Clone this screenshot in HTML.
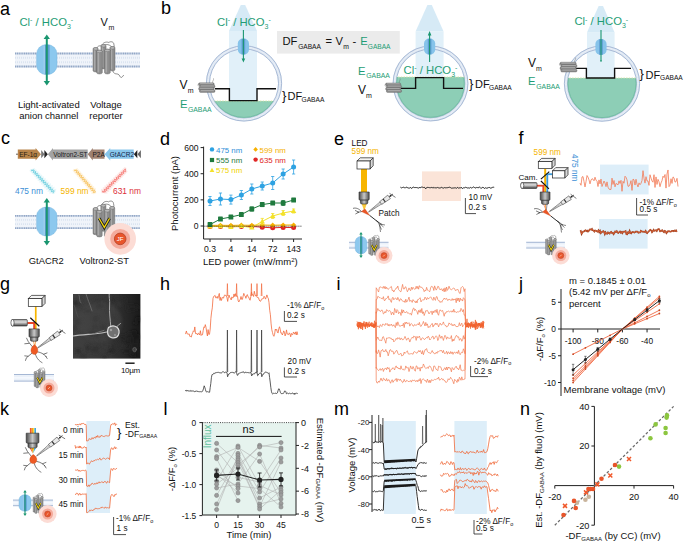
<!DOCTYPE html>
<html><head><meta charset="utf-8"><style>
html,body{margin:0;padding:0;background:#fff;overflow:hidden;}
svg{display:block;}
</style></head><body>
<svg width="685" height="541" viewBox="0 0 685 541" font-family='"Liberation Sans", sans-serif'>
<rect width="685" height="541" fill="#fff"/>
<text x="0" y="14.6" font-size="18" fill="#000">a</text>
<text x="19.4" y="25.6" font-size="11.3" fill="#1f9d75" text-anchor="start" >Cl<tspan font-size="7" dy="-3.5">-</tspan><tspan dy="3.5"> / HCO</tspan><tspan font-size="7" dy="3">3</tspan><tspan font-size="7" dy="-6.5">-</tspan></text>
<text x="100.5" y="25.6" font-size="11" fill="#111" text-anchor="start" >V</text>
<text x="108.6" y="29.6" font-size="7" fill="#111" text-anchor="start" >m</text>
<g opacity="1.0">
<rect x="15" y="52.5" width="125" height="15" fill="#f0f4fa"/>
<line x1="15" y1="53.475" x2="140" y2="53.475" stroke="#92a7c6" stroke-width="1.95" stroke-dasharray="1.3 0.5"/>
<line x1="15" y1="66.525" x2="140" y2="66.525" stroke="#92a7c6" stroke-width="1.95" stroke-dasharray="1.3 0.5"/>
<line x1="15" y1="57.75" x2="140" y2="57.75" stroke="#d6e0ee" stroke-width="1.80" stroke-dasharray="0.8 1.2"/>
<line x1="15" y1="62.25" x2="140" y2="62.25" stroke="#d6e0ee" stroke-width="1.80" stroke-dasharray="0.8 1.2"/>
</g>
<rect x="36.599999999999994" y="44.6" width="20.4" height="30" rx="9.69" ry="9.30" fill="#8cc8ee" stroke="#70b0dc" stroke-width="0.4"/>
<rect x="44.556" y="44.825" width="5.1" height="29.55" fill="#5f9ed4"/>
<line x1="44.25" y1="45.35" x2="44.25" y2="73.85" stroke="#b9dcf4" stroke-width="0.82"/>
<line x1="46.8" y1="38.0" x2="46.8" y2="82.0" stroke="#1a9670" stroke-width="2.0"/>
<path d="M43.65,38.9 L46.8,34.4 L49.949999999999996,38.9 Z" fill="#1a9670"/>
<path d="M43.65,81.1 L46.8,85.6 L49.949999999999996,81.1 Z" fill="#1a9670"/>
<g transform="translate(93,43.5) scale(0.9913,1.0167)">
<path d="M4,5 C4,2.5 7,1.5 9.5,3 C11,0.5 16,0 19,3.5 M9,2 C9.5,-0.5 13,-2.2 16,-1 C18,-2.5 21,-1.5 21,0.5 C21.5,2 21.5,3 21,4" fill="none" stroke="#3a3a3a" stroke-width="0.56"/>
<path d="M20,27 C22,32 25,28 27,32 C28,34 29,34 31,31" fill="none" stroke="#3a3a3a" stroke-width="0.56"/>
<rect x="0" y="4" width="5.2" height="24" rx="2.6" ry="1.4" fill="#8d8d8d" stroke="#5e5e5e" stroke-width="0.42"/>
<rect x="0.9359999999999999" y="5.5" width="1.4560000000000002" height="21" fill="#a9a9a9"/>
<ellipse cx="2.6" cy="5.3" rx="2.4" ry="1.2" fill="#b8b8b8" stroke="#5e5e5e" stroke-width="0.35"/>
<rect x="8" y="1" width="5.2" height="24" rx="2.6" ry="1.4" fill="#8d8d8d" stroke="#5e5e5e" stroke-width="0.42"/>
<rect x="8.936" y="2.5" width="1.4560000000000002" height="21" fill="#a9a9a9"/>
<ellipse cx="10.6" cy="2.3" rx="2.4" ry="1.2" fill="#b8b8b8" stroke="#5e5e5e" stroke-width="0.35"/>
<rect x="17" y="3" width="5.2" height="24" rx="2.6" ry="1.4" fill="#8d8d8d" stroke="#5e5e5e" stroke-width="0.42"/>
<rect x="17.936" y="4.5" width="1.4560000000000002" height="21" fill="#a9a9a9"/>
<ellipse cx="19.6" cy="4.3" rx="2.4" ry="1.2" fill="#b8b8b8" stroke="#5e5e5e" stroke-width="0.35"/>
<rect x="3.6" y="6.5" width="5.8" height="23.5" rx="2.9" ry="1.4" fill="#8d8d8d" stroke="#5e5e5e" stroke-width="0.42"/>
<rect x="4.644" y="8.0" width="1.624" height="20.5" fill="#a9a9a9"/>
<ellipse cx="6.5" cy="7.8" rx="2.6999999999999997" ry="1.2" fill="#b8b8b8" stroke="#5e5e5e" stroke-width="0.35"/>
<rect x="11.6" y="5.5" width="5.8" height="24.5" rx="2.9" ry="1.4" fill="#8d8d8d" stroke="#5e5e5e" stroke-width="0.42"/>
<rect x="12.644" y="7.0" width="1.624" height="21.5" fill="#a9a9a9"/>
<ellipse cx="14.5" cy="6.8" rx="2.6999999999999997" ry="1.2" fill="#b8b8b8" stroke="#5e5e5e" stroke-width="0.35"/>
</g>
<text x="48.8" y="107.6" font-size="9.5" fill="#111" text-anchor="middle" >Light-activated</text>
<text x="48.8" y="119" font-size="9.5" fill="#111" text-anchor="middle" >anion channel</text>
<text x="106" y="107.6" font-size="9.5" fill="#111" text-anchor="middle" >Voltage</text>
<text x="106" y="119" font-size="9.5" fill="#111" text-anchor="middle" >reporter</text>
<text x="161" y="14.4" font-size="18" fill="#000">b</text>
<path d="M240.8,5 L245.2,5 L257,31 L229,31 Z" fill="#cfe6f5" opacity="0.85"/>
<rect x="229" y="31" width="28" height="70" fill="#dcedf8" opacity="0.85"/>
<clipPath id="cc244"><circle cx="244" cy="83.4" r="34.4"/></clipPath>
<circle cx="244" cy="83.4" r="36.1" fill="none" stroke="#dee7f3" stroke-width="3.8"/>
<circle cx="244" cy="83.4" r="36.1" fill="none" stroke="#f4f7fb" stroke-width="0.9" stroke-dasharray="0.8 0.8"/>
<circle cx="244" cy="83.4" r="37.65" fill="none" stroke="#9aafce" stroke-width="0.8"/>
<circle cx="244" cy="83.4" r="34.5" fill="none" stroke="#9aafce" stroke-width="0.8"/>
<rect x="206" y="101" width="76" height="76" fill="#8dceb6" clip-path="url(#cc244)"/>
<clipPath id="cc244b"><rect x="206" y="101" width="76" height="76"/></clipPath>
<circle cx="244" cy="83.4" r="34.0" fill="none" stroke="#6db9a0" stroke-width="0.8" clip-path="url(#cc244b)"/>
<line x1="206" y1="101" x2="282" y2="101" stroke="#d7e3a6" stroke-width="0.9" stroke-dasharray="1.5 1.2" clip-path="url(#cc244)"/>
<path d="M215,88.8 H229.4 V100.6 H257 V88.8 H276" fill="none" stroke="#111" stroke-width="1.4"/>
<rect x="237.8" y="38.6" width="11.2" height="16" rx="5.4" ry="5" fill="#86c3ea"/><rect x="241.6" y="38.8" width="3.6" height="15.6" fill="#5f9fd3"/>
<line x1="243.4" y1="30" x2="243.4" y2="59" stroke="#1a9670" stroke-width="1.1"/><path d="M241.6,58.5 L243.4,62.5 L245.2,58.5 Z" fill="#1a9670"/>
<text x="217" y="25.6" font-size="11.3" fill="#1f9d75" text-anchor="start" >Cl<tspan font-size="7" dy="-3.5">-</tspan><tspan dy="3.5"> / HCO</tspan><tspan font-size="7" dy="3">3</tspan><tspan font-size="7" dy="-6.5">-</tspan></text>
<g>
<rect x="198.60" y="82.80" width="15.60" height="2.76" rx="1.20" fill="#8e8e8e" stroke="#5a5a5a" stroke-width="0.35"/>
<rect x="200.10" y="83.28" width="12.90" height="0.72" fill="#b5b5b5"/>
<rect x="199.40" y="85.08" width="15.60" height="2.76" rx="1.20" fill="#8e8e8e" stroke="#5a5a5a" stroke-width="0.35"/>
<rect x="200.90" y="85.56" width="12.90" height="0.72" fill="#b5b5b5"/>
<rect x="198.60" y="87.36" width="15.60" height="2.76" rx="1.20" fill="#8e8e8e" stroke="#5a5a5a" stroke-width="0.35"/>
<rect x="200.10" y="87.84" width="12.90" height="0.72" fill="#b5b5b5"/>
<rect x="199.40" y="89.64" width="15.60" height="2.76" rx="1.20" fill="#8e8e8e" stroke="#5a5a5a" stroke-width="0.35"/>
<rect x="200.90" y="90.12" width="12.90" height="0.72" fill="#b5b5b5"/>
<path d="M199.6,83.8 c-1.5,-0.5 -2,1.5 -1,2.5 M212.5,82.8 c0,-2 1.5,-3 1,-4.5" fill="none" stroke="#666" stroke-width="0.45"/>
</g>
<text x="179.6" y="88.9" font-size="12" fill="#111" text-anchor="start" >V</text>
<text x="187.8" y="92.9" font-size="7" fill="#111" text-anchor="start" >m</text>
<text x="180" y="108" font-size="11.3" fill="#1f9d75" text-anchor="start" >E</text>
<text x="187.9" y="111.8" font-size="6.9" fill="#1f9d75" text-anchor="start" >GABAA</text>
<text x="282" y="100" font-size="13" fill="#111" text-anchor="start" >}</text>
<text x="287.6" y="100" font-size="11" fill="#111" text-anchor="start" >DF</text>
<text x="301.6" y="101.8" font-size="6.6" fill="#111" text-anchor="start" >GABAA</text>
<rect x="277" y="31" width="122.8" height="22.6" fill="#ebebeb"/>
<text x="282.4" y="45" font-size="11.2" fill="#111" text-anchor="start" >DF</text>
<text x="298.2" y="48.6" font-size="6.6" fill="#111" text-anchor="start" >GABAA</text>
<text x="325.5" y="45" font-size="11.2" fill="#111" text-anchor="start" >=</text>
<text x="335.6" y="45" font-size="11.2" fill="#111" text-anchor="start" >V</text>
<text x="343.2" y="48.6" font-size="6.8" fill="#111" text-anchor="start" >m</text>
<text x="352.6" y="45" font-size="11.2" fill="#111" text-anchor="start" >-</text>
<text x="360.2" y="45" font-size="11.2" fill="#1f9d75" text-anchor="start" >E</text>
<text x="367.8" y="48.6" font-size="6.6" fill="#1f9d75" text-anchor="start" >GABAA</text>
<path d="M427.40000000000003,5 L431.8,5 L443.6,31.6 L415.6,31.6 Z" fill="#cfe6f5" opacity="0.85"/>
<rect x="415.6" y="31.6" width="28.0" height="45.4" fill="#dcedf8" opacity="0.85"/>
<clipPath id="cc430"><circle cx="430.5" cy="83.5" r="34.199999999999996"/></clipPath>
<circle cx="430.5" cy="83.5" r="35.9" fill="none" stroke="#dee7f3" stroke-width="3.8"/>
<circle cx="430.5" cy="83.5" r="35.9" fill="none" stroke="#f4f7fb" stroke-width="0.9" stroke-dasharray="0.8 0.8"/>
<circle cx="430.5" cy="83.5" r="37.449999999999996" fill="none" stroke="#9aafce" stroke-width="0.8"/>
<circle cx="430.5" cy="83.5" r="34.3" fill="none" stroke="#9aafce" stroke-width="0.8"/>
<rect x="392.7" y="77" width="75.6" height="75.6" fill="#8dceb6" clip-path="url(#cc430)"/>
<clipPath id="cc430b"><rect x="392.7" y="77" width="75.6" height="75.6"/></clipPath>
<circle cx="430.5" cy="83.5" r="33.8" fill="none" stroke="#6db9a0" stroke-width="0.8" clip-path="url(#cc430b)"/>
<line x1="392.7" y1="77" x2="468.3" y2="77" stroke="#d7e3a6" stroke-width="0.9" stroke-dasharray="1.5 1.2" clip-path="url(#cc430)"/>
<path d="M401,88.4 H415.6 V77.6 H443.6 V88.4 H463" fill="none" stroke="#111" stroke-width="1.4"/>
<rect x="424" y="38.6" width="11.2" height="16" rx="5.4" ry="5" fill="#86c3ea"/><rect x="427.8" y="38.8" width="3.6" height="15.6" fill="#5f9fd3"/>
<line x1="429.6" y1="35" x2="429.6" y2="62" stroke="#1a9670" stroke-width="1.1"/><path d="M427.8,35.5 L429.6,31 L431.4,35.5 Z" fill="#1a9670"/>
<text x="403.6" y="73.6" font-size="11.3" fill="#1f9d75" text-anchor="start" >Cl<tspan font-size="7" dy="-3.5">-</tspan><tspan dy="3.5"> / HCO</tspan><tspan font-size="7" dy="3">3</tspan><tspan font-size="7" dy="-6.5">-</tspan></text>
<g>
<rect x="385.60" y="83.00" width="15.20" height="2.70" rx="1.18" fill="#8e8e8e" stroke="#5a5a5a" stroke-width="0.35"/>
<rect x="387.10" y="83.47" width="12.50" height="0.70" fill="#b5b5b5"/>
<rect x="386.40" y="85.23" width="15.20" height="2.70" rx="1.18" fill="#8e8e8e" stroke="#5a5a5a" stroke-width="0.35"/>
<rect x="387.90" y="85.70" width="12.50" height="0.70" fill="#b5b5b5"/>
<rect x="385.60" y="87.47" width="15.20" height="2.70" rx="1.18" fill="#8e8e8e" stroke="#5a5a5a" stroke-width="0.35"/>
<rect x="387.10" y="87.94" width="12.50" height="0.70" fill="#b5b5b5"/>
<rect x="386.40" y="89.70" width="15.20" height="2.70" rx="1.18" fill="#8e8e8e" stroke="#5a5a5a" stroke-width="0.35"/>
<rect x="387.90" y="90.17" width="12.50" height="0.70" fill="#b5b5b5"/>
<path d="M386.6,84 c-1.5,-0.5 -2,1.5 -1,2.5 M399.1,83 c0,-2 1.5,-3 1,-4.5" fill="none" stroke="#666" stroke-width="0.45"/>
</g>
<text x="358" y="74.6" font-size="11.3" fill="#1f9d75" text-anchor="start" >E</text>
<text x="366.2" y="78.2" font-size="6.9" fill="#1f9d75" text-anchor="start" >GABAA</text>
<text x="358" y="94" font-size="12" fill="#111" text-anchor="start" >V</text>
<text x="366" y="97.8" font-size="7" fill="#111" text-anchor="start" >m</text>
<text x="469" y="88" font-size="13" fill="#111" text-anchor="start" >}</text>
<text x="475" y="88" font-size="11" fill="#111" text-anchor="start" >DF</text>
<text x="489" y="90.2" font-size="6.6" fill="#111" text-anchor="start" >GABAA</text>
<path d="M598.5999999999999,6 L603.0,6 L614.6,32.4 L587,32.4 Z" fill="#cfe6f5" opacity="0.85"/>
<rect x="587" y="32.4" width="27.600000000000023" height="45.6" fill="#dcedf8" opacity="0.85"/>
<clipPath id="cc602"><circle cx="602" cy="83.6" r="34.4"/></clipPath>
<circle cx="602" cy="83.6" r="36.1" fill="none" stroke="#dee7f3" stroke-width="3.8"/>
<circle cx="602" cy="83.6" r="36.1" fill="none" stroke="#f4f7fb" stroke-width="0.9" stroke-dasharray="0.8 0.8"/>
<circle cx="602" cy="83.6" r="37.65" fill="none" stroke="#9aafce" stroke-width="0.8"/>
<circle cx="602" cy="83.6" r="34.5" fill="none" stroke="#9aafce" stroke-width="0.8"/>
<rect x="564" y="78" width="76" height="76" fill="#8dceb6" clip-path="url(#cc602)"/>
<clipPath id="cc602b"><rect x="564" y="78" width="76" height="76"/></clipPath>
<circle cx="602" cy="83.6" r="34.0" fill="none" stroke="#6db9a0" stroke-width="0.8" clip-path="url(#cc602b)"/>
<line x1="564" y1="78" x2="640" y2="78" stroke="#d7e3a6" stroke-width="0.9" stroke-dasharray="1.5 1.2" clip-path="url(#cc602)"/>
<path d="M576,68.4 H586.4 V78 H614.6 V68.4 H631" fill="none" stroke="#111" stroke-width="1.4"/>
<rect x="595.4" y="39" width="11.2" height="16" rx="5.4" ry="5" fill="#86c3ea"/><rect x="599.2" y="39.2" width="3.6" height="15.6" fill="#5f9fd3"/>
<line x1="601" y1="30" x2="601" y2="60.5" stroke="#1a9670" stroke-width="1.1"/><circle cx="601" cy="60.8" r="0.9" fill="#1a9670"/>
<text x="574.4" y="25" font-size="11.3" fill="#1f9d75" text-anchor="start" >Cl<tspan font-size="7" dy="-3.5">-</tspan><tspan dy="3.5"> / HCO</tspan><tspan font-size="7" dy="3">3</tspan><tspan font-size="7" dy="-6.5">-</tspan></text>
<g>
<rect x="560.00" y="62.20" width="16.20" height="2.82" rx="1.23" fill="#8e8e8e" stroke="#5a5a5a" stroke-width="0.35"/>
<rect x="561.50" y="62.69" width="13.50" height="0.73" fill="#b5b5b5"/>
<rect x="560.80" y="64.53" width="16.20" height="2.82" rx="1.23" fill="#8e8e8e" stroke="#5a5a5a" stroke-width="0.35"/>
<rect x="562.30" y="65.02" width="13.50" height="0.73" fill="#b5b5b5"/>
<rect x="560.00" y="66.86" width="16.20" height="2.82" rx="1.23" fill="#8e8e8e" stroke="#5a5a5a" stroke-width="0.35"/>
<rect x="561.50" y="67.34" width="13.50" height="0.73" fill="#b5b5b5"/>
<rect x="560.80" y="69.18" width="16.20" height="2.82" rx="1.23" fill="#8e8e8e" stroke="#5a5a5a" stroke-width="0.35"/>
<rect x="562.30" y="69.67" width="13.50" height="0.73" fill="#b5b5b5"/>
<path d="M561,63.2 c-1.5,-0.5 -2,1.5 -1,2.5 M574.5,62.2 c0,-2 1.5,-3 1,-4.5" fill="none" stroke="#666" stroke-width="0.45"/>
</g>
<text x="528" y="67" font-size="12" fill="#111" text-anchor="start" >V</text>
<text x="536" y="71" font-size="7" fill="#111" text-anchor="start" >m</text>
<text x="528" y="85" font-size="11.3" fill="#1f9d75" text-anchor="start" >E</text>
<text x="536.2" y="88.6" font-size="6.9" fill="#1f9d75" text-anchor="start" >GABAA</text>
<text x="639.4" y="78" font-size="13" fill="#111" text-anchor="start" >}</text>
<text x="645.6" y="78.6" font-size="11" fill="#111" text-anchor="start" >DF</text>
<text x="660" y="80.4" font-size="6.6" fill="#111" text-anchor="start" >GABAA</text>
<text x="1" y="144.4" font-size="18" fill="#000">c</text>
<line x1="16" y1="154.2" x2="19" y2="154.2" stroke="#333" stroke-width="0.8"/>
<path d="M17.8,149.6 H35.6 V148.0 L41,154.2 L35.6,160.4 V158.8 H17.8 Z" fill="#b8844a"/>
<text x="28.2" y="156.5" font-size="6.5" fill="#2a1e10" text-anchor="middle" >EF-1α</text>
<path d="M41.2,150.1 L44.6,154.2 L41.2,158.3 Z" fill="#777"/><path d="M44.4,150.1 L47.8,154.2 L44.4,158.3 Z" fill="#222"/>
<path d="M47.8,154.2 L53,148.0 V149.6 H87.7 V158.8 H53 V160.4 Z" fill="#a3a3a3"/>
<text x="70.4" y="156.5" font-size="6.5" fill="#1a1a1a" text-anchor="middle" >Voltron2-ST</text>
<path d="M87.7,154.2 L92.8,148.0 V149.6 H104.5 V158.8 H92.8 V160.4 Z" fill="#a08272"/>
<text x="98.6" y="156.5" font-size="6.5" fill="#1a1a1a" text-anchor="middle" >P2A</text>
<path d="M104.5,154.2 L110.2,148.0 V149.6 H133.7 V158.8 H110.2 V160.4 Z" fill="#88c6ec"/>
<text x="121.9" y="156.5" font-size="6.5" fill="#14284a" text-anchor="middle" >GtACR2</text>
<path d="M137.3,150.1 L133.9,154.2 L137.3,158.3 Z" fill="#222"/><path d="M140.9,150.1 L137.5,154.2 L140.9,158.3 Z" fill="#666"/>
<path d="M32.00,169.50 L31.46,170.57 L31.75,170.85 L32.86,170.35 L33.94,169.87 L34.19,170.19 L33.63,171.29 L33.11,172.34 L33.44,172.58 L34.57,172.06 L35.63,171.60 L35.84,171.96 L35.26,173.07 L34.76,174.10 L35.14,174.30 L36.28,173.77 L37.32,173.33 L37.48,173.74 L36.89,174.86 L36.42,175.87 L36.84,176.02 L38.00,175.47 L39.01,175.06 L39.13,175.51 L38.51,176.65 L38.07,177.63 L38.53,177.75 L39.71,177.18 L40.69,176.80 L40.77,177.28 L40.14,178.44 L39.73,179.39 L40.23,179.46 L41.42,178.89 L42.37,178.53 L42.41,179.06 L41.77,180.22 L41.39,181.14 L41.93,181.18 L43.13,180.59 L44.06,180.27 L44.05,180.83 L43.40,182.01 L43.05,182.90 L43.64,182.90 L44.84,182.30 L45.73,182.01 L45.69,182.61 L45.03,183.79 L44.72,184.65 L45.34,184.61 L46.56,184.01 L47.41,183.75 L47.33,184.39 L46.67,185.58 L46.38,186.41 L47.05,186.33 L48.27,185.72 L49.09,185.49 L48.96,186.17 L48.30,187.36 L48.05,188.16 L48.75,188.04 L49.97,187.43 L50.76,187.24 L50.60,187.95 L49.93,189.14 L49.72,189.90 L50.46,189.75 L51.68,189.14 L52.43,188.98 L52.23,189.73 L51.57,190.93 L51.39,191.65 L52.17,191.47 L53.39,190.85 L54.10,190.73 L53.87,191.51 L53.20,192.71 L53.06,193.40" fill="none" stroke="#9fe0ea" stroke-width="3.2" opacity="0.25"/>
<path d="M32.00,169.50 L31.46,170.57 L31.75,170.85 L32.86,170.35 L33.94,169.87 L34.19,170.19 L33.63,171.29 L33.11,172.34 L33.44,172.58 L34.57,172.06 L35.63,171.60 L35.84,171.96 L35.26,173.07 L34.76,174.10 L35.14,174.30 L36.28,173.77 L37.32,173.33 L37.48,173.74 L36.89,174.86 L36.42,175.87 L36.84,176.02 L38.00,175.47 L39.01,175.06 L39.13,175.51 L38.51,176.65 L38.07,177.63 L38.53,177.75 L39.71,177.18 L40.69,176.80 L40.77,177.28 L40.14,178.44 L39.73,179.39 L40.23,179.46 L41.42,178.89 L42.37,178.53 L42.41,179.06 L41.77,180.22 L41.39,181.14 L41.93,181.18 L43.13,180.59 L44.06,180.27 L44.05,180.83 L43.40,182.01 L43.05,182.90 L43.64,182.90 L44.84,182.30 L45.73,182.01 L45.69,182.61 L45.03,183.79 L44.72,184.65 L45.34,184.61 L46.56,184.01 L47.41,183.75 L47.33,184.39 L46.67,185.58 L46.38,186.41 L47.05,186.33 L48.27,185.72 L49.09,185.49 L48.96,186.17 L48.30,187.36 L48.05,188.16 L48.75,188.04 L49.97,187.43 L50.76,187.24 L50.60,187.95 L49.93,189.14 L49.72,189.90 L50.46,189.75 L51.68,189.14 L52.43,188.98 L52.23,189.73 L51.57,190.93 L51.39,191.65 L52.17,191.47 L53.39,190.85 L54.10,190.73 L53.87,191.51 L53.20,192.71 L53.06,193.40" fill="none" stroke="#3fc0d4" stroke-width="0.7"/>
<path d="M75.00,169.50 L74.41,170.54 L74.68,170.84 L75.80,170.40 L76.91,169.97 L77.16,170.28 L76.56,171.33 L75.98,172.37 L76.27,172.65 L77.39,172.20 L78.49,171.78 L78.73,172.10 L78.13,173.16 L77.55,174.19 L77.85,174.46 L78.99,174.00 L80.08,173.59 L80.30,173.93 L79.69,174.99 L79.13,176.01 L79.44,176.27 L80.58,175.81 L81.67,175.39 L81.87,175.75 L81.25,176.82 L80.70,177.83 L81.03,178.07 L82.18,177.61 L83.25,177.20 L83.44,177.57 L82.81,178.65 L82.27,179.65 L82.62,179.88 L83.77,179.41 L84.84,179.01 L85.01,179.40 L84.38,180.48 L83.84,181.48 L84.21,181.69 L85.37,181.21 L86.42,180.82 L86.58,181.22 L85.94,182.31 L85.41,183.30 L85.79,183.50 L86.96,183.01 L88.01,182.63 L88.15,183.05 L87.50,184.14 L86.99,185.12 L87.38,185.31 L88.56,184.82 L89.59,184.45 L89.72,184.87 L89.07,185.97 L88.56,186.94 L88.97,187.11 L90.15,186.62 L91.18,186.26 L91.29,186.69 L90.63,187.80 L90.13,188.76 L90.56,188.92 L91.75,188.42 L92.76,188.07 L92.85,188.52 L92.19,189.63 L91.71,190.58 L92.15,190.73 L93.34,190.22 L94.35,189.88 L94.42,190.34 L93.76,191.46 L93.28,192.40 L93.74,192.53 L94.94,192.02 L95.93,191.69" fill="none" stroke="#fbd38a" stroke-width="3.2" opacity="0.25"/>
<path d="M75.00,169.50 L74.41,170.54 L74.68,170.84 L75.80,170.40 L76.91,169.97 L77.16,170.28 L76.56,171.33 L75.98,172.37 L76.27,172.65 L77.39,172.20 L78.49,171.78 L78.73,172.10 L78.13,173.16 L77.55,174.19 L77.85,174.46 L78.99,174.00 L80.08,173.59 L80.30,173.93 L79.69,174.99 L79.13,176.01 L79.44,176.27 L80.58,175.81 L81.67,175.39 L81.87,175.75 L81.25,176.82 L80.70,177.83 L81.03,178.07 L82.18,177.61 L83.25,177.20 L83.44,177.57 L82.81,178.65 L82.27,179.65 L82.62,179.88 L83.77,179.41 L84.84,179.01 L85.01,179.40 L84.38,180.48 L83.84,181.48 L84.21,181.69 L85.37,181.21 L86.42,180.82 L86.58,181.22 L85.94,182.31 L85.41,183.30 L85.79,183.50 L86.96,183.01 L88.01,182.63 L88.15,183.05 L87.50,184.14 L86.99,185.12 L87.38,185.31 L88.56,184.82 L89.59,184.45 L89.72,184.87 L89.07,185.97 L88.56,186.94 L88.97,187.11 L90.15,186.62 L91.18,186.26 L91.29,186.69 L90.63,187.80 L90.13,188.76 L90.56,188.92 L91.75,188.42 L92.76,188.07 L92.85,188.52 L92.19,189.63 L91.71,190.58 L92.15,190.73 L93.34,190.22 L94.35,189.88 L94.42,190.34 L93.76,191.46 L93.28,192.40 L93.74,192.53 L94.94,192.02 L95.93,191.69" fill="none" stroke="#f4ae2a" stroke-width="0.7"/>
<path d="M126.00,169.50 L124.92,168.99 L124.64,169.28 L125.16,170.36 L125.67,171.44 L125.37,171.71 L124.27,171.18 L123.20,170.68 L122.95,170.99 L123.48,172.09 L123.97,173.15 L123.65,173.40 L122.55,172.86 L121.49,172.37 L121.26,172.71 L121.80,173.82 L122.28,174.87 L121.93,175.09 L120.82,174.54 L119.78,174.07 L119.57,174.42 L120.12,175.54 L120.59,176.58 L120.22,176.78 L119.09,176.22 L118.06,175.76 L117.87,176.14 L118.43,177.27 L118.89,178.29 L118.50,178.47 L117.37,177.91 L116.35,177.45 L116.18,177.86 L116.75,178.99 L117.20,180.01 L116.78,180.16 L115.64,179.59 L114.64,179.15 L114.49,179.58 L115.07,180.72 L115.50,181.72 L115.07,181.85 L113.92,181.27 L112.93,180.85 L112.81,181.29 L113.39,182.45 L113.81,183.43 L113.35,183.54 L112.19,182.95 L111.21,182.54 L111.12,183.01 L111.71,184.17 L112.11,185.14 L111.63,185.23 L110.46,184.63 L109.50,184.24 L109.43,184.73 L110.03,185.90 L110.41,186.85 L109.91,186.92 L108.74,186.31 L107.79,185.94 L107.74,186.45 L108.35,187.62 L108.72,188.56 L108.19,188.60 L107.01,187.99 L106.08,187.63 L106.05,188.17 L106.66,189.35 L107.02,190.27 L106.47,190.29 L105.29,189.68 L104.38,189.33 L104.37,189.89 L104.98,191.07 L105.32,191.98 L104.75,191.98 L103.56,191.36 L102.67,191.03 L102.68,191.61 L103.30,192.80" fill="none" stroke="#f9a39c" stroke-width="3.2" opacity="0.25"/>
<path d="M126.00,169.50 L124.92,168.99 L124.64,169.28 L125.16,170.36 L125.67,171.44 L125.37,171.71 L124.27,171.18 L123.20,170.68 L122.95,170.99 L123.48,172.09 L123.97,173.15 L123.65,173.40 L122.55,172.86 L121.49,172.37 L121.26,172.71 L121.80,173.82 L122.28,174.87 L121.93,175.09 L120.82,174.54 L119.78,174.07 L119.57,174.42 L120.12,175.54 L120.59,176.58 L120.22,176.78 L119.09,176.22 L118.06,175.76 L117.87,176.14 L118.43,177.27 L118.89,178.29 L118.50,178.47 L117.37,177.91 L116.35,177.45 L116.18,177.86 L116.75,178.99 L117.20,180.01 L116.78,180.16 L115.64,179.59 L114.64,179.15 L114.49,179.58 L115.07,180.72 L115.50,181.72 L115.07,181.85 L113.92,181.27 L112.93,180.85 L112.81,181.29 L113.39,182.45 L113.81,183.43 L113.35,183.54 L112.19,182.95 L111.21,182.54 L111.12,183.01 L111.71,184.17 L112.11,185.14 L111.63,185.23 L110.46,184.63 L109.50,184.24 L109.43,184.73 L110.03,185.90 L110.41,186.85 L109.91,186.92 L108.74,186.31 L107.79,185.94 L107.74,186.45 L108.35,187.62 L108.72,188.56 L108.19,188.60 L107.01,187.99 L106.08,187.63 L106.05,188.17 L106.66,189.35 L107.02,190.27 L106.47,190.29 L105.29,189.68 L104.38,189.33 L104.37,189.89 L104.98,191.07 L105.32,191.98 L104.75,191.98 L103.56,191.36 L102.67,191.03 L102.68,191.61 L103.30,192.80" fill="none" stroke="#f2504a" stroke-width="0.7"/>
<text x="15" y="194.4" font-size="8.4" fill="#3d8fd6" text-anchor="start" >475 nm</text>
<text x="60.6" y="194.4" font-size="8.4" fill="#f5b400" text-anchor="start" >599 nm</text>
<text x="113" y="194.4" font-size="8.4" fill="#dc2f3a" text-anchor="start" >631 nm</text>
<g opacity="1.0">
<rect x="15" y="215" width="125" height="14" fill="#f0f4fa"/>
<line x1="15" y1="215.91" x2="140" y2="215.91" stroke="#92a7c6" stroke-width="1.82" stroke-dasharray="1.3 0.5"/>
<line x1="15" y1="228.09" x2="140" y2="228.09" stroke="#92a7c6" stroke-width="1.82" stroke-dasharray="1.3 0.5"/>
<line x1="15" y1="219.9" x2="140" y2="219.9" stroke="#d6e0ee" stroke-width="1.68" stroke-dasharray="0.8 1.2"/>
<line x1="15" y1="224.1" x2="140" y2="224.1" stroke="#d6e0ee" stroke-width="1.68" stroke-dasharray="0.8 1.2"/>
</g>
<rect x="36.599999999999994" y="207.0" width="20.4" height="29.0" rx="9.69" ry="8.99" fill="#8cc8ee" stroke="#70b0dc" stroke-width="0.4"/>
<rect x="44.556" y="207.2175" width="5.1" height="28.565" fill="#5f9ed4"/>
<line x1="44.25" y1="207.725" x2="44.25" y2="235.275" stroke="#b9dcf4" stroke-width="0.82"/>
<line x1="46.8" y1="201.6" x2="46.8" y2="242.0" stroke="#1a9670" stroke-width="2.0"/>
<path d="M43.65,202.5 L46.8,198 L49.949999999999996,202.5 Z" fill="#1a9670"/>
<path d="M43.65,241.1 L46.8,245.6 L49.949999999999996,241.1 Z" fill="#1a9670"/>
<g transform="translate(93,203) scale(0.9783,1.1333)">
<path d="M4,5 C4,2.5 7,1.5 9.5,3 C11,0.5 16,0 19,3.5 M9,2 C9.5,-0.5 13,-2.2 16,-1 C18,-2.5 21,-1.5 21,0.5 C21.5,2 21.5,3 21,4" fill="none" stroke="#3a3a3a" stroke-width="0.53"/>
<rect x="0" y="4" width="5.2" height="24" rx="2.6" ry="1.4" fill="#8d8d8d" stroke="#5e5e5e" stroke-width="0.40"/>
<rect x="0.9359999999999999" y="5.5" width="1.4560000000000002" height="21" fill="#a9a9a9"/>
<ellipse cx="2.6" cy="5.3" rx="2.4" ry="1.2" fill="#b8b8b8" stroke="#5e5e5e" stroke-width="0.33"/>
<rect x="8" y="1" width="5.2" height="24" rx="2.6" ry="1.4" fill="#8d8d8d" stroke="#5e5e5e" stroke-width="0.40"/>
<rect x="8.936" y="2.5" width="1.4560000000000002" height="21" fill="#a9a9a9"/>
<ellipse cx="10.6" cy="2.3" rx="2.4" ry="1.2" fill="#b8b8b8" stroke="#5e5e5e" stroke-width="0.33"/>
<rect x="17" y="3" width="5.2" height="24" rx="2.6" ry="1.4" fill="#8d8d8d" stroke="#5e5e5e" stroke-width="0.40"/>
<rect x="17.936" y="4.5" width="1.4560000000000002" height="21" fill="#a9a9a9"/>
<ellipse cx="19.6" cy="4.3" rx="2.4" ry="1.2" fill="#b8b8b8" stroke="#5e5e5e" stroke-width="0.33"/>
<rect x="3.6" y="6.5" width="5.8" height="23.5" rx="2.9" ry="1.4" fill="#8d8d8d" stroke="#5e5e5e" stroke-width="0.40"/>
<rect x="4.644" y="8.0" width="1.624" height="20.5" fill="#a9a9a9"/>
<ellipse cx="6.5" cy="7.8" rx="2.6999999999999997" ry="1.2" fill="#b8b8b8" stroke="#5e5e5e" stroke-width="0.33"/>
<rect x="11.6" y="5.5" width="5.8" height="24.5" rx="2.9" ry="1.4" fill="#8d8d8d" stroke="#5e5e5e" stroke-width="0.40"/>
<rect x="12.644" y="7.0" width="1.624" height="21.5" fill="#a9a9a9"/>
<ellipse cx="14.5" cy="6.8" rx="2.6999999999999997" ry="1.2" fill="#b8b8b8" stroke="#5e5e5e" stroke-width="0.33"/>
<path d="M6.3,13.6 L11.6,21.6 L16.9,13.6" fill="none" stroke="#1c1c1c" stroke-width="2.90" stroke-linejoin="miter" stroke-linecap="butt"/>
<path d="M6.3,13.6 L11.6,21.6 L16.9,13.6" fill="none" stroke="#f5d80c" stroke-width="1.20" stroke-linejoin="miter"/>
</g>
<path d="M110,232 L117,236 L114,240 L109,236 Z" fill="#c8968a" opacity="0.8"/>
<circle cx="120.2" cy="238.9" r="15.8" fill="#fcdcd5"/>
<circle cx="120.2" cy="238.9" r="10" fill="#f4ab9c"/>
<circle cx="120.2" cy="238.9" r="5.8" fill="#e9552b" stroke="#b8452a" stroke-width="0.87"/>
<text x="120.2" y="240.99" font-size="6.1" fill="#fff" text-anchor="middle">JF</text>
<text x="46.2" y="264" font-size="9.4" fill="#111" text-anchor="middle" >GtACR2</text>
<text x="104.3" y="264" font-size="9.4" fill="#111" text-anchor="middle" >Voltron2-ST</text>
<text x="160" y="145" font-size="18" fill="#000">d</text>
<path d="M203.6,146.6 V239 H302" fill="none" stroke="#222" stroke-width="1"/>
<line x1="200.6" y1="226.00" x2="203.6" y2="226.00" stroke="#222" stroke-width="1"/>
<text x="198.6" y="229.1" font-size="8.6" fill="#111" text-anchor="end" >0</text>
<line x1="200.6" y1="199.87" x2="203.6" y2="199.87" stroke="#222" stroke-width="1"/>
<text x="198.6" y="202.96666666666667" font-size="8.6" fill="#111" text-anchor="end" >200</text>
<line x1="200.6" y1="173.73" x2="203.6" y2="173.73" stroke="#222" stroke-width="1"/>
<text x="198.6" y="176.83333333333331" font-size="8.6" fill="#111" text-anchor="end" >400</text>
<line x1="200.6" y1="147.60" x2="203.6" y2="147.60" stroke="#222" stroke-width="1"/>
<text x="198.6" y="150.7" font-size="8.6" fill="#111" text-anchor="end" >600</text>
<line x1="210.00" y1="239" x2="210.00" y2="242" stroke="#222" stroke-width="1"/>
<text x="210.0" y="252.4" font-size="8.6" fill="#111" text-anchor="middle" >0.3</text>
<line x1="230.90" y1="239" x2="230.90" y2="242" stroke="#222" stroke-width="1"/>
<text x="230.9" y="252.4" font-size="8.6" fill="#111" text-anchor="middle" >4</text>
<line x1="251.80" y1="239" x2="251.80" y2="242" stroke="#222" stroke-width="1"/>
<text x="251.8" y="252.4" font-size="8.6" fill="#111" text-anchor="middle" >14</text>
<line x1="272.70" y1="239" x2="272.70" y2="242" stroke="#222" stroke-width="1"/>
<text x="272.7" y="252.4" font-size="8.6" fill="#111" text-anchor="middle" >72</text>
<line x1="293.60" y1="239" x2="293.60" y2="242" stroke="#222" stroke-width="1"/>
<text x="293.6" y="252.4" font-size="8.6" fill="#111" text-anchor="middle" >143</text>
<text x="203" y="265" font-size="9.5" fill="#111" text-anchor="start" >LED power (mW/mm<tspan font-size="6" dy="-3.5">2</tspan><tspan dy="3.5">)</tspan></text>
<text x="0" y="0" font-size="9.5" fill="#111" text-anchor="middle" transform="translate(178.3,193.5) rotate(-90)">Photocurrent (pA)</text>
<path d="M210.00,226.40 L220.45,226.40 L230.90,226.60 L241.35,226.60 L251.80,226.40 L262.25,227.20 L272.70,227.80 L283.15,227.40 L293.60,227.60" fill="none" stroke="#e02626" stroke-width="1.0"/>
<circle cx="210.00" cy="226.40" r="2.5" fill="#e02626"/>
<circle cx="220.45" cy="226.40" r="2.5" fill="#e02626"/>
<circle cx="230.90" cy="226.60" r="2.5" fill="#e02626"/>
<circle cx="241.35" cy="226.60" r="2.5" fill="#e02626"/>
<circle cx="251.80" cy="226.40" r="2.5" fill="#e02626"/>
<circle cx="262.25" cy="227.20" r="2.5" fill="#e02626"/>
<circle cx="272.70" cy="227.80" r="2.5" fill="#e02626"/>
<circle cx="283.15" cy="227.40" r="2.5" fill="#e02626"/>
<circle cx="293.60" cy="227.60" r="2.5" fill="#e02626"/>
<path d="M210.00,225.40 L220.45,225.30 L230.90,225.40 L241.35,225.20 L251.80,225.30 L262.25,225.00 L272.70,225.20 L283.15,225.00 L293.60,225.00" fill="none" stroke="#f7b000" stroke-width="1.0"/>
<path d="M210.00,222.80 L212.60,225.40 L210.00,228.00 L207.40,225.40 Z" fill="#f7b000"/>
<path d="M220.45,222.70 L223.05,225.30 L220.45,227.90 L217.85,225.30 Z" fill="#f7b000"/>
<path d="M230.90,222.80 L233.50,225.40 L230.90,228.00 L228.30,225.40 Z" fill="#f7b000"/>
<path d="M241.35,222.60 L243.95,225.20 L241.35,227.80 L238.75,225.20 Z" fill="#f7b000"/>
<path d="M251.80,222.70 L254.40,225.30 L251.80,227.90 L249.20,225.30 Z" fill="#f7b000"/>
<path d="M262.25,222.40 L264.85,225.00 L262.25,227.60 L259.65,225.00 Z" fill="#f7b000"/>
<path d="M272.70,222.60 L275.30,225.20 L272.70,227.80 L270.10,225.20 Z" fill="#f7b000"/>
<path d="M283.15,222.40 L285.75,225.00 L283.15,227.60 L280.55,225.00 Z" fill="#f7b000"/>
<path d="M293.60,222.40 L296.20,225.00 L293.60,227.60 L291.00,225.00 Z" fill="#f7b000"/>
<path d="M210.00,226.60 L220.45,226.20 L230.90,227.00 L241.35,226.00 L251.80,227.60 L262.25,221.40 L272.70,216.00 L283.15,213.00 L293.60,211.00" fill="none" stroke="#f3e12a" stroke-width="1.0"/>
<path d="M207.30,228.60 L210.00,223.90 L212.70,228.60 Z" fill="#f3e12a"/>
<path d="M217.75,228.20 L220.45,223.50 L223.15,228.20 Z" fill="#f3e12a"/>
<path d="M228.20,229.00 L230.90,224.30 L233.60,229.00 Z" fill="#f3e12a"/>
<path d="M238.65,228.00 L241.35,223.30 L244.05,228.00 Z" fill="#f3e12a"/>
<path d="M249.10,229.60 L251.80,224.90 L254.50,229.60 Z" fill="#f3e12a"/>
<path d="M262.25,218.40 V224.40 M260.65,218.40 H263.85 M260.65,224.40 H263.85" stroke="#f3e12a" stroke-width="0.8" fill="none"/>
<path d="M259.55,223.40 L262.25,218.70 L264.95,223.40 Z" fill="#f3e12a"/>
<path d="M272.70,213.50 V218.50 M271.10,213.50 H274.30 M271.10,218.50 H274.30" stroke="#f3e12a" stroke-width="0.8" fill="none"/>
<path d="M270.00,218.00 L272.70,213.30 L275.40,218.00 Z" fill="#f3e12a"/>
<path d="M283.15,210.50 V215.50 M281.55,210.50 H284.75 M281.55,215.50 H284.75" stroke="#f3e12a" stroke-width="0.8" fill="none"/>
<path d="M280.45,215.00 L283.15,210.30 L285.85,215.00 Z" fill="#f3e12a"/>
<path d="M293.60,209.00 V213.00 M292.00,209.00 H295.20 M292.00,213.00 H295.20" stroke="#f3e12a" stroke-width="0.8" fill="none"/>
<path d="M290.90,213.00 L293.60,208.30 L296.30,213.00 Z" fill="#f3e12a"/>
<path d="M210.00,224.60 L220.45,219.00 L230.90,217.00 L241.35,214.60 L251.80,209.00 L262.25,204.60 L272.70,203.00 L283.15,203.00 L293.60,200.00" fill="none" stroke="#1f7a3e" stroke-width="1.0"/>
<rect x="207.60" y="222.10" width="4.8" height="5" rx="0.6" fill="#1f7a3e"/>
<rect x="218.05" y="216.50" width="4.8" height="5" rx="0.6" fill="#1f7a3e"/>
<rect x="228.50" y="214.50" width="4.8" height="5" rx="0.6" fill="#1f7a3e"/>
<rect x="238.95" y="212.10" width="4.8" height="5" rx="0.6" fill="#1f7a3e"/>
<path d="M251.80,207.00 V211.00 M250.20,207.00 H253.40 M250.20,211.00 H253.40" stroke="#1f7a3e" stroke-width="0.8" fill="none"/>
<rect x="249.40" y="206.50" width="4.8" height="5" rx="0.6" fill="#1f7a3e"/>
<path d="M262.25,202.60 V206.60 M260.65,202.60 H263.85 M260.65,206.60 H263.85" stroke="#1f7a3e" stroke-width="0.8" fill="none"/>
<rect x="259.85" y="202.10" width="4.8" height="5" rx="0.6" fill="#1f7a3e"/>
<rect x="270.30" y="200.50" width="4.8" height="5" rx="0.6" fill="#1f7a3e"/>
<path d="M283.15,200.50 V205.50 M281.55,200.50 H284.75 M281.55,205.50 H284.75" stroke="#1f7a3e" stroke-width="0.8" fill="none"/>
<rect x="280.75" y="200.50" width="4.8" height="5" rx="0.6" fill="#1f7a3e"/>
<rect x="291.20" y="197.50" width="4.8" height="5" rx="0.6" fill="#1f7a3e"/>
<path d="M210.00,201.00 L220.45,199.00 L230.90,199.60 L241.35,195.00 L251.80,189.00 L262.25,186.00 L272.70,183.00 L283.15,174.00 L293.60,167.00" fill="none" stroke="#2ea2e2" stroke-width="1.0"/>
<path d="M210.00,196.50 V205.50 M208.40,196.50 H211.60 M208.40,205.50 H211.60" stroke="#2ea2e2" stroke-width="0.8" fill="none"/>
<circle cx="210.00" cy="201.00" r="2.5" fill="#2ea2e2"/>
<path d="M220.45,193.00 V205.00 M218.85,193.00 H222.05 M218.85,205.00 H222.05" stroke="#2ea2e2" stroke-width="0.8" fill="none"/>
<circle cx="220.45" cy="199.00" r="2.5" fill="#2ea2e2"/>
<path d="M230.90,195.10 V204.10 M229.30,195.10 H232.50 M229.30,204.10 H232.50" stroke="#2ea2e2" stroke-width="0.8" fill="none"/>
<circle cx="230.90" cy="199.60" r="2.5" fill="#2ea2e2"/>
<path d="M241.35,190.50 V199.50 M239.75,190.50 H242.95 M239.75,199.50 H242.95" stroke="#2ea2e2" stroke-width="0.8" fill="none"/>
<circle cx="241.35" cy="195.00" r="2.5" fill="#2ea2e2"/>
<path d="M251.80,184.00 V194.00 M250.20,184.00 H253.40 M250.20,194.00 H253.40" stroke="#2ea2e2" stroke-width="0.8" fill="none"/>
<circle cx="251.80" cy="189.00" r="2.5" fill="#2ea2e2"/>
<path d="M262.25,182.00 V190.00 M260.65,182.00 H263.85 M260.65,190.00 H263.85" stroke="#2ea2e2" stroke-width="0.8" fill="none"/>
<circle cx="262.25" cy="186.00" r="2.5" fill="#2ea2e2"/>
<path d="M272.70,176.50 V189.50 M271.10,176.50 H274.30 M271.10,189.50 H274.30" stroke="#2ea2e2" stroke-width="0.8" fill="none"/>
<circle cx="272.70" cy="183.00" r="2.5" fill="#2ea2e2"/>
<path d="M283.15,169.00 V179.00 M281.55,169.00 H284.75 M281.55,179.00 H284.75" stroke="#2ea2e2" stroke-width="0.8" fill="none"/>
<circle cx="283.15" cy="174.00" r="2.5" fill="#2ea2e2"/>
<path d="M293.60,160.00 V174.00 M292.00,160.00 H295.20 M292.00,174.00 H295.20" stroke="#2ea2e2" stroke-width="0.8" fill="none"/>
<circle cx="293.60" cy="167.00" r="2.5" fill="#2ea2e2"/>
<line x1="203.6" y1="226.2" x2="302" y2="226.2" stroke="#222" stroke-width="0.9" stroke-dasharray="1 1"/>
<circle cx="212" cy="149.4" r="2.2" fill="#2ea2e2"/>
<text x="216" y="152.6" font-size="7.9" fill="#2e8fd8" text-anchor="start" >475 nm</text>
<rect x="209.9" y="157.9" width="4.2" height="4.2" fill="#1f7a3e"/>
<text x="216" y="162.6" font-size="7.9" fill="#1f7a3e" text-anchor="start" >555 nm</text>
<path d="M209.6,172 L212,167.8 L214.4,172 Z" fill="#f3e12a"/>
<text x="216" y="172.6" font-size="7.9" fill="#f0d400" text-anchor="start" >575 nm</text>
<path d="M255.6,147.1 L257.9,149.4 L255.6,151.7 L253.3,149.4 Z" fill="#f7b000"/>
<text x="259.6" y="152.6" font-size="7.9" fill="#f5b000" text-anchor="start" >599 nm</text>
<circle cx="255.6" cy="159.6" r="2.2" fill="#e02626"/>
<text x="259.6" y="162.6" font-size="7.9" fill="#e02626" text-anchor="start" >635 nm</text>
<text x="334" y="145" font-size="18" fill="#000">e</text>
<text x="351.6" y="145.6" font-size="8.2" fill="#111" text-anchor="start" >LED</text>
<text x="351.6" y="154.4" font-size="8.2" fill="#f5b400" text-anchor="start" >599 nm</text>
<rect x="361" y="169" width="6" height="24" fill="#f7b500"/>
<path d="M357,161 L360.2,157.8 H373.2 L370,161 Z" fill="#f4f4f4" stroke="#222" stroke-width="0.7" stroke-linejoin="round"/>
<path d="M370,161 L373.2,157.8 V165.8 L370,169 Z" fill="#d8d8d8" stroke="#222" stroke-width="0.7" stroke-linejoin="round"/>
<rect x="357" y="161" width="13" height="8" fill="#fff" stroke="#222" stroke-width="0.7"/>
<path d="M361.5,203 L367,203 L365,209 L363.6,209.5 Z" fill="#fbc93a"/>
<defs><linearGradient id="og35901920" x1="0" x2="1" y1="0" y2="0"><stop offset="0" stop-color="#4a4a4a"/><stop offset="0.5" stop-color="#c8c8c8"/><stop offset="1" stop-color="#4e4e4e"/></linearGradient></defs>
<path d="M359,192 H369.2 V199.2 Q369.2,200.16 367.976,200.16 H360.224 Q359,200.16 359,199.2 Z" fill="url(#og35901920)" stroke="#2a2a2a" stroke-width="0.6"/>
<path d="M360.428,200.16 H367.772 V202.8 Q367.772,204 366.14,204 H362.06 Q360.428,204 360.428,202.8 Z" fill="url(#og35901920)" stroke="#2a2a2a" stroke-width="0.6"/>
<path d="M368.62,212.16 L382.80,203.23 M368.38,211.84 L381.15,200.97" fill="none" stroke="#333" stroke-width="0.55"/>
<path d="M371.44,209.84 L383.69,200.84" fill="none" stroke="#555" stroke-width="0.4"/>
<path d="M381.76,204.37 L390.38,198.65 L387.78,195.11 L379.74,201.63 Z" fill="#e8e8e8" stroke="#333" stroke-width="0.55"/>
<path d="M384.81,202.37 L385.82,201.69 L383.52,198.55 L382.57,199.31 Z" fill="#333"/>
<path d="M389.08,196.88 L393.00,194.00" fill="none" stroke="#222" stroke-width="0.7"/>
<path d="M389.50,193.34 L391.77,194.90 L395.49,197.38" fill="none" stroke="#222" stroke-width="0.6"/>
<circle cx="390.55" cy="195.80" r="0.9" fill="#222"/>
<path d="M361.60,211.60 C359.00,208.80 356.00,207.40 353.00,208.40 M361.60,211.60 L357.50,212.40 M358.80,212.10 L355.00,210.40 M358.80,212.20 L355.40,214.00" fill="none" stroke="#222" stroke-width="0.6"/>
<path d="M369.50,215.30 L378.00,222.00" fill="none" stroke="#222" stroke-width="0.95"/>
<path d="M376.00,220.40 L382.00,224.50 M377.50,221.60 L383.50,227.00 M378.00,222.00 L381.50,229.50 M379.50,224.30 L380.50,232.00 M380.00,224.00 L385.00,225.00" fill="none" stroke="#222" stroke-width="0.55"/>
<path d="M361.40,211.60 L364.90,208.80 L369.70,215.50 Z" fill="#ea5526" stroke="#c2410c" stroke-width="0.3"/>
<text x="378.6" y="216.4" font-size="8.2" fill="#111" text-anchor="start" >Patch</text>
<rect x="422" y="171.4" width="39" height="29.6" fill="#fbe4d8"/>
<path d="M400.40,187.16 L401.10,187.65 L401.80,187.97 L402.50,187.49 L403.20,187.10 L403.90,187.48 L404.60,187.75 L405.30,188.02 L406.00,187.25 L406.70,187.06 L407.40,187.75 L408.10,187.80 L408.80,188.19 L409.50,188.07 L410.20,187.66 L410.90,187.51 L411.60,188.51 L412.30,187.68 L413.00,187.33 L413.70,187.14 L414.40,187.54 L415.10,187.64 L415.80,187.48 L416.50,187.55 L417.20,187.69 L417.90,187.87 L418.60,188.05 L419.30,187.77 L420.00,186.99 L420.70,187.73 L421.40,187.11 L422.10,187.44 L422.80,187.04 L423.50,187.49 L424.20,187.30 L424.90,187.62 L425.60,188.79 L426.30,187.82 L427.00,187.95 L427.70,187.19 L428.40,187.41 L429.10,187.80 L429.80,187.61 L430.50,187.73 L431.20,187.66 L431.90,187.25 L432.60,187.73 L433.30,187.33 L434.00,188.22 L434.70,187.54 L435.40,187.84 L436.10,187.65 L436.80,187.95 L437.50,187.45 L438.20,187.93 L438.90,187.62 L439.60,188.06 L440.30,187.92 L441.00,187.71 L441.70,187.34 L442.40,187.82 L443.10,187.81 L443.80,188.23 L444.50,187.59 L445.20,187.80 L445.90,187.82 L446.60,187.75 L447.30,187.70 L448.00,187.69 L448.70,187.40 L449.40,187.20 L450.10,187.38 L450.80,187.77 L451.50,188.18 L452.20,188.07 L452.90,188.07 L453.60,187.97 L454.30,187.93 L455.00,187.73 L455.70,187.90 L456.40,188.30 L457.10,187.62 L457.80,187.35 L458.50,188.26 L459.20,187.82 L459.90,187.99 L460.60,187.99 L461.30,187.27 L462.00,188.41 L462.70,188.40 L463.40,187.82 L464.10,187.92 L464.80,187.71 L465.50,187.30 L466.20,187.50 L466.90,187.71 L467.60,188.02 L468.30,187.94 L469.00,187.69 L469.70,188.11 L470.40,187.43 L471.10,187.85 L471.80,188.05 L472.50,187.58 L473.20,186.95 L473.90,187.14 L474.60,187.59 L475.30,187.79 L476.00,188.20 L476.70,187.36 L477.40,187.55 L478.10,187.82 L478.80,187.59 L479.50,186.74 L480.20,187.72 L480.90,188.46 L481.60,188.13 L482.30,187.38 L483.00,187.41 L483.70,187.64 L484.40,188.50 L485.10,188.00 L485.80,187.72 L486.50,188.19 L487.20,187.69 L487.90,188.29 L488.60,187.49 L489.30,187.41 L490.00,187.82 L490.70,188.16 L491.40,187.95 L492.10,187.78 L492.80,186.98 L493.50,187.22 L494.20,187.30" fill="none" stroke="#222" stroke-width="1.0"/>
<path d="M465.4,198 V213.6 H476" fill="none" stroke="#222" stroke-width="0.8"/>
<text x="468.6" y="200" font-size="8.2" fill="#111" text-anchor="start" >10 mV</text>
<text x="468.6" y="210" font-size="8.2" fill="#111" text-anchor="start" >0.2 s</text>
<g opacity="0.9">
<rect x="349" y="241.8" width="39.5" height="6.7" fill="#e9f0f9"/>
<line x1="349" y1="242.3" x2="388.5" y2="242.3" stroke="#9cb0d0" stroke-width="1.0"/>
<line x1="349" y1="248.0" x2="388.5" y2="248.0" stroke="#9cb0d0" stroke-width="1.0"/>
<line x1="349" y1="245.15" x2="388.5" y2="245.15" stroke="#f8fbff" stroke-width="1.2"/>
</g>
<rect x="355.2" y="236.6" width="11.6" height="17.2" rx="5.51" ry="5.33" fill="#8cc8ee" stroke="#70b0dc" stroke-width="0.4"/>
<rect x="359.724" y="236.72899999999998" width="2.9" height="16.942" fill="#5f9ed4"/>
<line x1="359.55" y1="237.03" x2="359.55" y2="253.36999999999998" stroke="#b9dcf4" stroke-width="0.46"/>
<line x1="361" y1="233.98" x2="361" y2="256.02" stroke="#1a9670" stroke-width="1.1"/>
<path d="M359.2675,234.475 L361,232 L362.7325,234.475 Z" fill="#1a9670"/>
<path d="M359.2675,255.525 L361,258 L362.7325,255.525 Z" fill="#1a9670"/>
<g transform="translate(368.6,236.5) scale(0.4870,0.6333)">
<path d="M4,5 C4,2.5 7,1.5 9.5,3 C11,0.5 16,0 19,3.5 M9,2 C9.5,-0.5 13,-2.2 16,-1 C18,-2.5 21,-1.5 21,0.5 C21.5,2 21.5,3 21,4" fill="none" stroke="#3a3a3a" stroke-width="0.60"/>
<rect x="0" y="4" width="5.2" height="24" rx="2.6" ry="1.4" fill="#8d8d8d" stroke="#5e5e5e" stroke-width="0.45"/>
<rect x="0.9359999999999999" y="5.5" width="1.4560000000000002" height="21" fill="#a9a9a9"/>
<ellipse cx="2.6" cy="5.3" rx="2.4" ry="1.2" fill="#b8b8b8" stroke="#5e5e5e" stroke-width="0.37"/>
<rect x="8" y="1" width="5.2" height="24" rx="2.6" ry="1.4" fill="#8d8d8d" stroke="#5e5e5e" stroke-width="0.45"/>
<rect x="8.936" y="2.5" width="1.4560000000000002" height="21" fill="#a9a9a9"/>
<ellipse cx="10.6" cy="2.3" rx="2.4" ry="1.2" fill="#b8b8b8" stroke="#5e5e5e" stroke-width="0.37"/>
<rect x="17" y="3" width="5.2" height="24" rx="2.6" ry="1.4" fill="#8d8d8d" stroke="#5e5e5e" stroke-width="0.45"/>
<rect x="17.936" y="4.5" width="1.4560000000000002" height="21" fill="#a9a9a9"/>
<ellipse cx="19.6" cy="4.3" rx="2.4" ry="1.2" fill="#b8b8b8" stroke="#5e5e5e" stroke-width="0.37"/>
<rect x="3.6" y="6.5" width="5.8" height="23.5" rx="2.9" ry="1.4" fill="#8d8d8d" stroke="#5e5e5e" stroke-width="0.45"/>
<rect x="4.644" y="8.0" width="1.624" height="20.5" fill="#a9a9a9"/>
<ellipse cx="6.5" cy="7.8" rx="2.6999999999999997" ry="1.2" fill="#b8b8b8" stroke="#5e5e5e" stroke-width="0.37"/>
<rect x="11.6" y="5.5" width="5.8" height="24.5" rx="2.9" ry="1.4" fill="#8d8d8d" stroke="#5e5e5e" stroke-width="0.45"/>
<rect x="12.644" y="7.0" width="1.624" height="21.5" fill="#a9a9a9"/>
<ellipse cx="14.5" cy="6.8" rx="2.6999999999999997" ry="1.2" fill="#b8b8b8" stroke="#5e5e5e" stroke-width="0.37"/>
<path d="M6.3,13.6 L11.6,21.6 L16.9,13.6" fill="none" stroke="#1c1c1c" stroke-width="3.62" stroke-linejoin="miter" stroke-linecap="butt"/>
<path d="M6.3,13.6 L11.6,21.6 L16.9,13.6" fill="none" stroke="#f5d80c" stroke-width="1.88" stroke-linejoin="miter"/>
</g>
<circle cx="384" cy="255.6" r="8.5" fill="#fcdcd5"/>
<circle cx="384" cy="255.6" r="5.5" fill="#f4ab9c"/>
<circle cx="384" cy="255.6" r="3" fill="#e9552b" stroke="#b8452a" stroke-width="0.50"/>
<path d="M383.10,256.50 L384.90,254.70" stroke="#f8c0a8" stroke-width="0.90"/>
<text x="518.4" y="144" font-size="18" fill="#000">f</text>
<text x="533.6" y="154.6" font-size="8.2" fill="#f5b400" text-anchor="start" >599 nm</text>
<text x="0" y="0" font-size="8.2" fill="#3d8fd6" text-anchor="middle" transform="translate(572.2,167.6) rotate(90)">475 nm</text>
<rect x="544.2" y="169" width="2" height="24" fill="#f7b500"/>
<rect x="546.4" y="174" width="1.8" height="19" fill="#3d9ad8"/>
<rect x="546.4" y="173.3" width="6.5" height="1.8" fill="#3d9ad8"/>
<rect x="537" y="184.8" width="7.2" height="1.8" fill="#e8482a"/>
<rect x="542.4" y="185" width="1.8" height="8" fill="#e8482a"/>
<path d="M538.3,161.6 L541.5,158.4 H555.1 L551.9,161.6 Z" fill="#f4f4f4" stroke="#222" stroke-width="0.7" stroke-linejoin="round"/>
<path d="M551.9,161.6 L555.1,158.4 V165.20000000000002 L551.9,168.4 Z" fill="#d8d8d8" stroke="#222" stroke-width="0.7" stroke-linejoin="round"/>
<rect x="538.3" y="161.6" width="13.6" height="6.8" fill="#fff" stroke="#222" stroke-width="0.7"/>
<path d="M552.5,170.8 L555.7,167.60000000000002 H568.0 L564.8,170.8 Z" fill="#f4f4f4" stroke="#222" stroke-width="0.7" stroke-linejoin="round"/>
<path d="M564.8,170.8 L568.0,167.60000000000002 V174.8 L564.8,178.0 Z" fill="#d8d8d8" stroke="#222" stroke-width="0.7" stroke-linejoin="round"/>
<rect x="552.5" y="170.8" width="12.3" height="7.2" fill="#fff" stroke="#222" stroke-width="0.7"/>
<line x1="540.9" y1="179.1" x2="549.3" y2="171.7" stroke="#111" stroke-width="1.1"/>
<line x1="540.9" y1="181" x2="548.9" y2="188.8" stroke="#111" stroke-width="1.1"/>
<text x="518.6" y="179.5" font-size="8" fill="#111" text-anchor="start" >Cam.</text>
<defs><linearGradient id="cg521182" x1="0" x2="0" y1="0" y2="1"><stop offset="0" stop-color="#999"/><stop offset="0.4" stop-color="#ddd"/><stop offset="1" stop-color="#444"/></linearGradient></defs>
<rect x="521.2" y="182.6" width="15.8" height="5.8" rx="1" fill="url(#cg521182)" stroke="#222" stroke-width="0.6"/>
<ellipse cx="522.2" cy="185.5" rx="1.6" ry="2.9" fill="#fff" stroke="#222" stroke-width="0.6"/>
<path d="M543.5,204 L546,210 M545.2,204 L546.2,210 M547,204 L546.4,210" stroke-width="0.5" stroke="#e8482a"/>
<path d="M545.2,204 L546.2,210" stroke-width="0.5" stroke="#f7b500"/><path d="M547,204 L546.4,210" stroke-width="0.5" stroke="#3d9ad8"/>
<defs><linearGradient id="og54021920" x1="0" x2="1" y1="0" y2="0"><stop offset="0" stop-color="#4a4a4a"/><stop offset="0.5" stop-color="#c8c8c8"/><stop offset="1" stop-color="#4e4e4e"/></linearGradient></defs>
<path d="M540.2,192 H550.0 V199.38 Q550.0,200.364 548.8240000000001,200.364 H541.3760000000001 Q540.2,200.364 540.2,199.38 Z" fill="url(#og54021920)" stroke="#2a2a2a" stroke-width="0.6"/>
<path d="M541.572,200.364 H548.628 V203.07 Q548.628,204.3 547.0600000000001,204.3 H543.1400000000001 Q541.572,204.3 541.572,203.07 Z" fill="url(#og54021920)" stroke="#2a2a2a" stroke-width="0.6"/>
<path d="M549.61,211.67 L563.76,203.59 M549.39,211.33 L562.19,201.26" fill="none" stroke="#333" stroke-width="0.55"/>
<path d="M552.44,209.52 L564.69,201.27" fill="none" stroke="#555" stroke-width="0.4"/>
<path d="M562.70,204.66 L571.31,199.46 L568.85,195.82 L560.80,201.84 Z" fill="#e8e8e8" stroke="#333" stroke-width="0.55"/>
<path d="M565.75,202.85 L566.76,202.23 L564.58,198.99 L563.63,199.69 Z" fill="#333"/>
<path d="M570.08,197.64 L574.00,195.00" fill="none" stroke="#222" stroke-width="0.7"/>
<path d="M570.59,194.16 L572.77,195.82 L576.35,198.48" fill="none" stroke="#222" stroke-width="0.6"/>
<circle cx="571.55" cy="196.65" r="0.9" fill="#222"/>
<path d="M542.60,212.10 C540.00,209.30 537.00,207.90 534.00,208.90 M542.60,212.10 L538.50,212.90 M539.80,212.60 L536.00,210.90 M539.80,212.70 L536.40,214.50" fill="none" stroke="#222" stroke-width="0.6"/>
<path d="M550.50,215.80 L559.00,222.50" fill="none" stroke="#222" stroke-width="0.95"/>
<path d="M557.00,220.90 L563.00,225.00 M558.50,222.10 L564.50,227.50 M559.00,222.50 L562.50,230.00 M560.50,224.80 L561.50,232.50 M561.00,224.50 L566.00,225.50" fill="none" stroke="#222" stroke-width="0.55"/>
<path d="M542.40,212.10 L545.90,209.30 L550.70,216.00 Z" fill="#ea5526" stroke="#c2410c" stroke-width="0.3"/>
<rect x="600" y="164.6" width="48.6" height="29.8" fill="#ddeef9"/>
<rect x="599" y="219" width="48.6" height="29.6" fill="#ddeef9"/>
<path d="M580.00,183.12 L581.00,185.27 L582.00,176.98 L583.00,176.57 L584.00,181.50 L585.00,186.93 L586.00,181.70 L587.00,175.52 L588.00,177.07 L589.00,179.91 L590.00,183.85 L591.00,180.08 L592.00,178.70 L593.00,179.23 L594.00,180.79 L595.00,177.20 L596.00,180.13 L597.00,181.17 L598.00,186.55 L599.00,179.90 L600.00,183.91 L601.00,179.09 L602.00,186.49 L603.00,183.76 L604.00,181.02 L605.00,183.03 L606.00,186.66 L607.00,181.86 L608.00,187.15 L609.00,189.10 L610.00,189.49 L611.00,189.48 L612.00,178.15 L613.00,184.47 L614.00,180.46 L615.00,186.84 L616.00,183.42 L617.00,184.02 L618.00,184.95 L619.00,180.82 L620.00,183.52 L621.00,180.31 L622.00,191.31 L623.00,181.35 L624.00,183.20 L625.00,176.22 L626.00,177.34 L627.00,179.86 L628.00,186.27 L629.00,186.17 L630.00,184.25 L631.00,180.63 L632.00,190.41 L633.00,179.12 L634.00,179.79 L635.00,185.05 L636.00,179.23 L637.00,184.19 L638.00,186.95 L639.00,182.87 L640.00,184.74 L641.00,183.30 L642.00,180.50 L643.00,170.68 L644.00,178.35 L645.00,183.12 L646.00,176.69 L647.00,180.93 L648.00,180.96 L649.00,185.40 L650.00,174.76 L651.00,178.06 L652.00,181.03 L653.00,182.21 L654.00,174.70 L655.00,187.47 L656.00,176.92 L657.00,184.43 L658.00,179.35 L659.00,181.75 L660.00,186.72 L661.00,182.94 L662.00,180.66 L663.00,176.18 L664.00,177.56 L665.00,174.51 L666.00,188.11 L667.00,174.01 L668.00,169.97 L669.00,186.63 L670.00,185.19 L671.00,178.72 L672.00,183.45 L673.00,176.89 L674.00,177.86 L675.00,182.12 L676.00,181.70 L677.00,178.33 L678.00,186.56" fill="none" stroke="#f27a55" stroke-width="0.8"/>
<path d="M580.00,231.45 L580.80,231.01 L581.60,234.02 L582.40,232.36 L583.20,231.58 L584.00,231.56 L584.80,230.72 L585.60,230.29 L586.40,231.25 L587.20,230.69 L588.00,231.62 L588.80,231.00 L589.60,229.43 L590.40,229.37 L591.20,229.76 L592.00,228.88 L592.80,230.29 L593.60,230.53 L594.40,231.68 L595.20,230.44 L596.00,230.63 L596.80,231.40 L597.60,231.77 L598.40,230.33 L599.20,232.14 L600.00,230.79 L600.80,233.19 L601.60,232.24 L602.40,231.84 L603.20,231.00 L604.00,231.73 L604.80,234.16 L605.60,232.23 L606.40,233.56 L607.20,233.78 L608.00,232.33 L608.80,233.22 L609.60,233.73 L610.40,232.39 L611.20,231.79 L612.00,233.06 L612.80,232.77 L613.60,234.25 L614.40,233.20 L615.20,231.49 L616.00,231.95 L616.80,231.08 L617.60,232.53 L618.40,232.92 L619.20,232.06 L620.00,231.38 L620.80,232.74 L621.60,232.03 L622.40,233.23 L623.20,231.65 L624.00,231.79 L624.80,231.60 L625.60,231.11 L626.40,234.27 L627.20,234.31 L628.00,232.28 L628.80,232.93 L629.60,230.83 L630.40,232.90 L631.20,233.37 L632.00,232.25 L632.80,231.91 L633.60,232.33 L634.40,232.65 L635.20,232.02 L636.00,231.40 L636.80,231.74 L637.60,231.69 L638.40,232.74 L639.20,232.45 L640.00,232.49 L640.80,230.83 L641.60,231.46 L642.40,231.64 L643.20,231.58 L644.00,231.92 L644.80,231.86 L645.60,230.76 L646.40,232.61 L647.20,233.14 L648.00,232.04 L648.80,231.51 L649.60,230.34 L650.40,229.70 L651.20,230.44 L652.00,232.22 L652.80,231.29 L653.60,229.75 L654.40,230.85 L655.20,230.47 L656.00,230.23 L656.80,231.10 L657.60,229.51 L658.40,228.99 L659.20,229.13 L660.00,231.42 L660.80,231.24 L661.60,230.56 L662.40,230.30 L663.20,231.40 L664.00,232.26 L664.80,230.77 L665.60,231.20 L666.40,233.18 L667.20,232.22 L668.00,231.11 L668.80,231.37 L669.60,231.25 L670.40,231.70 L671.20,231.56 L672.00,230.77 L672.80,230.87 L673.60,231.34 L674.40,230.54 L675.20,230.97 L676.00,230.23 L676.80,231.90" fill="none" stroke="#9a3d1c" stroke-width="1.6"/>
<path d="M580.00,231.45 L580.80,231.01 L581.60,234.02 L582.40,232.36 L583.20,231.58 L584.00,231.56 L584.80,230.72 L585.60,230.29 L586.40,231.25 L587.20,230.69 L588.00,231.62 L588.80,231.00 L589.60,229.43 L590.40,229.37 L591.20,229.76 L592.00,228.88 L592.80,230.29 L593.60,230.53 L594.40,231.68 L595.20,230.44 L596.00,230.63 L596.80,231.40 L597.60,231.77 L598.40,230.33 L599.20,232.14 L600.00,230.79 L600.80,233.19 L601.60,232.24 L602.40,231.84 L603.20,231.00 L604.00,231.73 L604.80,234.16 L605.60,232.23 L606.40,233.56 L607.20,233.78 L608.00,232.33 L608.80,233.22 L609.60,233.73 L610.40,232.39 L611.20,231.79 L612.00,233.06 L612.80,232.77 L613.60,234.25 L614.40,233.20 L615.20,231.49 L616.00,231.95 L616.80,231.08 L617.60,232.53 L618.40,232.92 L619.20,232.06 L620.00,231.38 L620.80,232.74 L621.60,232.03 L622.40,233.23 L623.20,231.65 L624.00,231.79 L624.80,231.60 L625.60,231.11 L626.40,234.27 L627.20,234.31 L628.00,232.28 L628.80,232.93 L629.60,230.83 L630.40,232.90 L631.20,233.37 L632.00,232.25 L632.80,231.91 L633.60,232.33 L634.40,232.65 L635.20,232.02 L636.00,231.40 L636.80,231.74 L637.60,231.69 L638.40,232.74 L639.20,232.45 L640.00,232.49 L640.80,230.83 L641.60,231.46 L642.40,231.64 L643.20,231.58 L644.00,231.92 L644.80,231.86 L645.60,230.76 L646.40,232.61 L647.20,233.14 L648.00,232.04 L648.80,231.51 L649.60,230.34 L650.40,229.70 L651.20,230.44 L652.00,232.22 L652.80,231.29 L653.60,229.75 L654.40,230.85 L655.20,230.47 L656.00,230.23 L656.80,231.10 L657.60,229.51 L658.40,228.99 L659.20,229.13 L660.00,231.42 L660.80,231.24 L661.60,230.56 L662.40,230.30 L663.20,231.40 L664.00,232.26 L664.80,230.77 L665.60,231.20 L666.40,233.18 L667.20,232.22 L668.00,231.11 L668.80,231.37 L669.60,231.25 L670.40,231.70 L671.20,231.56 L672.00,230.77 L672.80,230.87 L673.60,231.34 L674.40,230.54 L675.20,230.97 L676.00,230.23 L676.80,231.90" fill="none" stroke="#e8683c" stroke-width="0.7"/>
<path d="M636.6,198 V215 H648" fill="none" stroke="#222" stroke-width="0.8"/>
<text x="639.6" y="205" font-size="8.2" fill="#111" text-anchor="start" >-1% ΔF/F<tspan font-size="5.5" dy="1.5">o</tspan></text>
<text x="639.6" y="211.6" font-size="8.2" fill="#111" text-anchor="start" >0.5 s</text>
<g opacity="0.9">
<rect x="526.2" y="241.8" width="38.69999999999993" height="6.7" fill="#e9f0f9"/>
<line x1="526.2" y1="242.3" x2="564.9" y2="242.3" stroke="#9cb0d0" stroke-width="1.0"/>
<line x1="526.2" y1="248.0" x2="564.9" y2="248.0" stroke="#9cb0d0" stroke-width="1.0"/>
<line x1="526.2" y1="245.15" x2="564.9" y2="245.15" stroke="#f8fbff" stroke-width="1.2"/>
</g>
<g transform="translate(545.5,236.5) scale(0.4870,0.6200)">
<path d="M4,5 C4,2.5 7,1.5 9.5,3 C11,0.5 16,0 19,3.5 M9,2 C9.5,-0.5 13,-2.2 16,-1 C18,-2.5 21,-1.5 21,0.5 C21.5,2 21.5,3 21,4" fill="none" stroke="#3a3a3a" stroke-width="0.61"/>
<rect x="0" y="4" width="5.2" height="24" rx="2.6" ry="1.4" fill="#8d8d8d" stroke="#5e5e5e" stroke-width="0.46"/>
<rect x="0.9359999999999999" y="5.5" width="1.4560000000000002" height="21" fill="#a9a9a9"/>
<ellipse cx="2.6" cy="5.3" rx="2.4" ry="1.2" fill="#b8b8b8" stroke="#5e5e5e" stroke-width="0.38"/>
<rect x="8" y="1" width="5.2" height="24" rx="2.6" ry="1.4" fill="#8d8d8d" stroke="#5e5e5e" stroke-width="0.46"/>
<rect x="8.936" y="2.5" width="1.4560000000000002" height="21" fill="#a9a9a9"/>
<ellipse cx="10.6" cy="2.3" rx="2.4" ry="1.2" fill="#b8b8b8" stroke="#5e5e5e" stroke-width="0.38"/>
<rect x="17" y="3" width="5.2" height="24" rx="2.6" ry="1.4" fill="#8d8d8d" stroke="#5e5e5e" stroke-width="0.46"/>
<rect x="17.936" y="4.5" width="1.4560000000000002" height="21" fill="#a9a9a9"/>
<ellipse cx="19.6" cy="4.3" rx="2.4" ry="1.2" fill="#b8b8b8" stroke="#5e5e5e" stroke-width="0.38"/>
<rect x="3.6" y="6.5" width="5.8" height="23.5" rx="2.9" ry="1.4" fill="#8d8d8d" stroke="#5e5e5e" stroke-width="0.46"/>
<rect x="4.644" y="8.0" width="1.624" height="20.5" fill="#a9a9a9"/>
<ellipse cx="6.5" cy="7.8" rx="2.6999999999999997" ry="1.2" fill="#b8b8b8" stroke="#5e5e5e" stroke-width="0.38"/>
<rect x="11.6" y="5.5" width="5.8" height="24.5" rx="2.9" ry="1.4" fill="#8d8d8d" stroke="#5e5e5e" stroke-width="0.46"/>
<rect x="12.644" y="7.0" width="1.624" height="21.5" fill="#a9a9a9"/>
<ellipse cx="14.5" cy="6.8" rx="2.6999999999999997" ry="1.2" fill="#b8b8b8" stroke="#5e5e5e" stroke-width="0.38"/>
<path d="M6.3,13.6 L11.6,21.6 L16.9,13.6" fill="none" stroke="#1c1c1c" stroke-width="3.62" stroke-linejoin="miter" stroke-linecap="butt"/>
<path d="M6.3,13.6 L11.6,21.6 L16.9,13.6" fill="none" stroke="#f5d80c" stroke-width="1.88" stroke-linejoin="miter"/>
</g>
<circle cx="560.8" cy="255.6" r="8.8" fill="#fcdcd5"/>
<circle cx="560.8" cy="255.6" r="5.5" fill="#f4ab9c"/>
<circle cx="560.8" cy="255.6" r="3" fill="#e9552b" stroke="#b8452a" stroke-width="0.50"/>
<path d="M559.90,256.50 L561.70,254.70" stroke="#f8c0a8" stroke-width="0.90"/>
<text x="0" y="290" font-size="18" fill="#000">g</text>
<rect x="34.9" y="306" width="1.7" height="24" fill="#f7b500"/>
<path d="M28.3,298.6 L31.5,295.40000000000003 H45.1 L41.9,298.6 Z" fill="#f4f4f4" stroke="#222" stroke-width="0.7" stroke-linejoin="round"/>
<path d="M41.9,298.6 L45.1,295.40000000000003 V303.40000000000003 L41.9,306.6 Z" fill="#d8d8d8" stroke="#222" stroke-width="0.7" stroke-linejoin="round"/>
<rect x="28.3" y="298.6" width="13.6" height="8" fill="#fff" stroke="#222" stroke-width="0.7"/>
<rect x="27.3" y="322" width="7.5" height="2" fill="#e8482a"/>
<rect x="33.2" y="322.5" width="1.9" height="7.5" fill="#e8482a"/>
<line x1="30.3" y1="317.8" x2="39.3" y2="326.3" stroke="#111" stroke-width="1.2"/>
<defs><linearGradient id="cg11319" x1="0" x2="0" y1="0" y2="1"><stop offset="0" stop-color="#999"/><stop offset="0.4" stop-color="#ddd"/><stop offset="1" stop-color="#444"/></linearGradient></defs>
<rect x="11.5" y="319.5" width="15.8" height="6.5" rx="1" fill="url(#cg11319)" stroke="#222" stroke-width="0.6"/>
<ellipse cx="12.5" cy="322.75" rx="1.6" ry="3.25" fill="#fff" stroke="#222" stroke-width="0.6"/>
<path d="M33.4,341 L34.6,346 M35.6,341 L35,346" stroke="#f08a20" stroke-width="0.7"/>
<defs><linearGradient id="og2903289" x1="0" x2="1" y1="0" y2="0"><stop offset="0" stop-color="#4a4a4a"/><stop offset="0.5" stop-color="#c8c8c8"/><stop offset="1" stop-color="#4e4e4e"/></linearGradient></defs>
<path d="M29,328.9 H39.3 V336.28 Q39.3,337.26399999999995 38.064,337.26399999999995 H30.236 Q29,337.26399999999995 29,336.28 Z" fill="url(#og2903289)" stroke="#2a2a2a" stroke-width="0.6"/>
<path d="M30.442,337.26399999999995 H37.858000000000004 V339.96999999999997 Q37.858000000000004,341.2 36.21,341.2 H32.09 Q30.442,341.2 30.442,339.96999999999997 Z" fill="url(#og2903289)" stroke="#2a2a2a" stroke-width="0.6"/>
<path d="M37.62,348.16 L52.33,339.24 M37.38,347.84 L50.72,336.96" fill="none" stroke="#333" stroke-width="0.55"/>
<path d="M40.56,345.84 L53.31,336.84" fill="none" stroke="#555" stroke-width="0.4"/>
<path d="M51.23,340.39 L60.19,334.68 L57.65,331.08 L49.27,337.61 Z" fill="#e8e8e8" stroke="#333" stroke-width="0.55"/>
<path d="M54.41,338.39 L55.45,337.71 L53.21,334.53 L52.21,335.29 Z" fill="#333"/>
<path d="M58.92,332.88 L63.00,330.00" fill="none" stroke="#222" stroke-width="0.7"/>
<path d="M59.46,329.32 L61.72,330.90 L65.42,333.43" fill="none" stroke="#222" stroke-width="0.6"/>
<circle cx="60.45" cy="331.80" r="0.9" fill="#222"/>
<path d="M32.4,346.8 L28.4,341.8 M29.4,343.3 L24.4,343.8 M28.4,341.8 L26.4,337.8 M32.4,352.8 L26.4,357.8 M28.4,356.3 L24.4,355.8 M26.4,357.8 L25.4,360.8 M35.4,353.8 C36.4,358.8 40.4,361.8 42.4,362.8 M37.4,351.8 C42.4,352.8 44.4,354.8 46.4,356.8 M43.4,354.3 L47.4,352.8 M45.4,355.8 L47.4,358.8" fill="none" stroke="#222" stroke-width="0.6"/>
<path d="M34.4,344.74 C39.26,347.73 38.54,354.40000000000003 34.4,354.40000000000003 C30.259999999999998,354.40000000000003 29.54,347.73 34.4,344.74 Z" fill="#ef5a24" stroke="#c2410c" stroke-width="0.4"/>
<defs>
<linearGradient id="phg" x1="0" x2="1" y1="0" y2="0"><stop offset="0" stop-color="#404040"/><stop offset="0.55" stop-color="#363636"/><stop offset="1" stop-color="#1a1a1a"/></linearGradient>
<filter id="bl1" x="-20%" y="-20%" width="140%" height="140%"><feGaussianBlur stdDeviation="0.45"/></filter>
<filter id="bl2" x="-20%" y="-20%" width="140%" height="140%"><feGaussianBlur stdDeviation="1.5"/></filter>
<clipPath id="phc"><rect x="73" y="294" width="67.4" height="64.6"/></clipPath>
</defs>
<rect x="73" y="294" width="67.4" height="64.6" fill="url(#phg)"/>
<g clip-path="url(#phc)">
<g filter="url(#bl2)">
<ellipse cx="78.6" cy="305.0" rx="1.9" ry="3.9" fill="rgb(48,48,48)" opacity="0.6"/>
<ellipse cx="129.6" cy="341.5" rx="3.6" ry="2.1" fill="rgb(29,29,29)" opacity="0.6"/>
<ellipse cx="113.4" cy="317.7" rx="3.9" ry="2.0" fill="rgb(42,42,42)" opacity="0.6"/>
<ellipse cx="123.6" cy="343.0" rx="4.0" ry="2.6" fill="rgb(26,26,26)" opacity="0.6"/>
<ellipse cx="109.4" cy="313.3" rx="3.9" ry="2.4" fill="rgb(44,44,44)" opacity="0.6"/>
<ellipse cx="122.1" cy="344.2" rx="3.2" ry="2.6" fill="rgb(48,48,48)" opacity="0.6"/>
<ellipse cx="95.7" cy="318.6" rx="3.7" ry="3.6" fill="rgb(39,39,39)" opacity="0.6"/>
<ellipse cx="87.4" cy="311.0" rx="3.8" ry="1.6" fill="rgb(29,29,29)" opacity="0.6"/>
<ellipse cx="99.2" cy="305.8" rx="3.9" ry="2.6" fill="rgb(33,33,33)" opacity="0.6"/>
<ellipse cx="115.5" cy="347.1" rx="3.5" ry="3.4" fill="rgb(43,43,43)" opacity="0.6"/>
<ellipse cx="113.5" cy="330.1" rx="3.2" ry="2.4" fill="rgb(54,54,54)" opacity="0.6"/>
<ellipse cx="133.3" cy="346.6" rx="3.2" ry="2.6" fill="rgb(34,34,34)" opacity="0.6"/>
<ellipse cx="96.7" cy="333.9" rx="3.3" ry="3.3" fill="rgb(33,33,33)" opacity="0.6"/>
<ellipse cx="131.9" cy="308.0" rx="2.9" ry="3.0" fill="rgb(29,29,29)" opacity="0.6"/>
<ellipse cx="100.4" cy="294.6" rx="3.8" ry="1.9" fill="rgb(55,55,55)" opacity="0.6"/>
<ellipse cx="134.2" cy="332.1" rx="3.1" ry="2.3" fill="rgb(16,16,16)" opacity="0.6"/>
<ellipse cx="98.0" cy="300.8" rx="3.1" ry="2.1" fill="rgb(52,52,52)" opacity="0.6"/>
<ellipse cx="111.1" cy="321.0" rx="2.0" ry="3.2" fill="rgb(57,57,57)" opacity="0.6"/>
<ellipse cx="126.5" cy="350.9" rx="3.7" ry="1.9" fill="rgb(28,28,28)" opacity="0.6"/>
<ellipse cx="83.1" cy="333.5" rx="2.5" ry="1.9" fill="rgb(55,55,55)" opacity="0.6"/>
<ellipse cx="79.6" cy="320.4" rx="3.1" ry="2.7" fill="rgb(54,54,54)" opacity="0.6"/>
<ellipse cx="108.2" cy="307.3" rx="2.2" ry="3.3" fill="rgb(34,34,34)" opacity="0.6"/>
<ellipse cx="116.8" cy="297.3" rx="3.9" ry="1.7" fill="rgb(44,44,44)" opacity="0.6"/>
<ellipse cx="83.7" cy="356.0" rx="3.8" ry="3.6" fill="rgb(43,43,43)" opacity="0.6"/>
<ellipse cx="104.5" cy="357.4" rx="2.3" ry="2.1" fill="rgb(35,35,35)" opacity="0.6"/>
<ellipse cx="123.5" cy="300.6" rx="3.4" ry="3.3" fill="rgb(35,35,35)" opacity="0.6"/>
<ellipse cx="94.1" cy="304.0" rx="3.6" ry="3.1" fill="rgb(52,52,52)" opacity="0.6"/>
<ellipse cx="112.9" cy="300.6" rx="2.2" ry="2.8" fill="rgb(38,38,38)" opacity="0.6"/>
<ellipse cx="91.8" cy="333.1" rx="3.9" ry="2.1" fill="rgb(42,42,42)" opacity="0.6"/>
<ellipse cx="75.6" cy="303.0" rx="3.2" ry="2.9" fill="rgb(33,33,33)" opacity="0.6"/>
<ellipse cx="111.5" cy="341.3" rx="2.0" ry="2.0" fill="rgb(49,49,49)" opacity="0.6"/>
<ellipse cx="131.7" cy="340.6" rx="3.3" ry="3.3" fill="rgb(26,26,26)" opacity="0.6"/>
<ellipse cx="78.6" cy="322.5" rx="3.6" ry="3.2" fill="rgb(51,51,51)" opacity="0.6"/>
<ellipse cx="95.2" cy="349.6" rx="4.0" ry="3.9" fill="rgb(44,44,44)" opacity="0.6"/>
<ellipse cx="133.1" cy="306.6" rx="2.2" ry="2.0" fill="rgb(35,35,35)" opacity="0.6"/>
<ellipse cx="108.2" cy="337.1" rx="3.9" ry="1.7" fill="rgb(36,36,36)" opacity="0.6"/>
<ellipse cx="128.5" cy="340.2" rx="2.6" ry="3.8" fill="rgb(37,37,37)" opacity="0.6"/>
<ellipse cx="94.5" cy="325.0" rx="3.7" ry="1.6" fill="rgb(52,52,52)" opacity="0.6"/>
<ellipse cx="113.6" cy="351.3" rx="1.9" ry="3.0" fill="rgb(37,37,37)" opacity="0.6"/>
<ellipse cx="128.5" cy="307.8" rx="1.9" ry="4.0" fill="rgb(37,37,37)" opacity="0.6"/>
<ellipse cx="79.8" cy="302.7" rx="2.5" ry="1.7" fill="rgb(52,52,52)" opacity="0.6"/>
<ellipse cx="90.9" cy="350.2" rx="2.3" ry="1.6" fill="rgb(53,53,53)" opacity="0.6"/>
<ellipse cx="119.3" cy="302.0" rx="2.8" ry="3.7" fill="rgb(47,47,47)" opacity="0.6"/>
<ellipse cx="78.0" cy="351.2" rx="3.0" ry="2.4" fill="rgb(30,30,30)" opacity="0.6"/>
<ellipse cx="110.1" cy="309.4" rx="2.8" ry="3.1" fill="rgb(56,56,56)" opacity="0.6"/>
<ellipse cx="104.8" cy="343.4" rx="1.7" ry="3.9" fill="rgb(53,53,53)" opacity="0.6"/>
<ellipse cx="91.5" cy="333.6" rx="2.4" ry="3.7" fill="rgb(33,33,33)" opacity="0.6"/>
<ellipse cx="131.7" cy="352.3" rx="2.6" ry="2.7" fill="rgb(30,30,30)" opacity="0.6"/>
<ellipse cx="96.8" cy="337.3" rx="1.8" ry="3.1" fill="rgb(40,40,40)" opacity="0.6"/>
<ellipse cx="97.1" cy="333.4" rx="3.9" ry="1.8" fill="rgb(49,49,49)" opacity="0.6"/>
<ellipse cx="110.2" cy="350.7" rx="2.9" ry="2.1" fill="rgb(29,29,29)" opacity="0.6"/>
<ellipse cx="113.4" cy="343.2" rx="2.2" ry="2.6" fill="rgb(45,45,45)" opacity="0.6"/>
<ellipse cx="87.7" cy="348.0" rx="2.1" ry="3.8" fill="rgb(39,39,39)" opacity="0.6"/>
<ellipse cx="110.9" cy="329.0" rx="3.1" ry="3.5" fill="rgb(57,57,57)" opacity="0.6"/>
<ellipse cx="95.4" cy="326.8" rx="3.4" ry="2.2" fill="rgb(36,36,36)" opacity="0.6"/>
<ellipse cx="92.9" cy="305.3" rx="2.5" ry="3.7" fill="rgb(55,55,55)" opacity="0.6"/>
<ellipse cx="108.1" cy="305.7" rx="3.6" ry="2.6" fill="rgb(48,48,48)" opacity="0.6"/>
<ellipse cx="136.8" cy="336.9" rx="3.6" ry="3.2" fill="rgb(22,22,22)" opacity="0.6"/>
<ellipse cx="135.3" cy="307.2" rx="3.6" ry="2.5" fill="rgb(31,31,31)" opacity="0.6"/>
<ellipse cx="103.1" cy="327.5" rx="2.7" ry="3.9" fill="rgb(30,30,30)" opacity="0.6"/>
<ellipse cx="123.1" cy="336.8" rx="3.6" ry="2.1" fill="rgb(28,28,28)" opacity="0.6"/>
<ellipse cx="135.7" cy="323.1" rx="2.9" ry="1.6" fill="rgb(19,19,19)" opacity="0.6"/>
<ellipse cx="129.8" cy="335.4" rx="3.3" ry="3.5" fill="rgb(31,31,31)" opacity="0.6"/>
<ellipse cx="73.2" cy="328.5" rx="3.6" ry="2.8" fill="rgb(52,52,52)" opacity="0.6"/>
<ellipse cx="138.6" cy="319.0" rx="3.5" ry="2.5" fill="rgb(24,24,24)" opacity="0.6"/>
<ellipse cx="136.4" cy="346.0" rx="3.2" ry="1.7" fill="rgb(29,29,29)" opacity="0.6"/>
<ellipse cx="136.7" cy="343.6" rx="2.6" ry="1.7" fill="rgb(26,26,26)" opacity="0.6"/>
<ellipse cx="133.5" cy="354.6" rx="2.7" ry="2.9" fill="rgb(25,25,25)" opacity="0.6"/>
<ellipse cx="80.6" cy="297.6" rx="2.2" ry="1.6" fill="rgb(49,49,49)" opacity="0.6"/>
<ellipse cx="117.8" cy="304.0" rx="3.9" ry="1.8" fill="rgb(56,56,56)" opacity="0.6"/>
</g>
<ellipse cx="100" cy="322" rx="22" ry="20" fill="#4a4a4a" opacity="0.45" filter="url(#bl2)"/>
<g filter="url(#bl1)" fill="none" stroke-linecap="round">
<path d="M110.8,327 C110.4,320 109,312 109.6,305 C110,300 108.8,297 109.2,293" stroke="#a8a8a8" stroke-width="1.0"/>
<path d="M73,336 C79,335 86,334.6 93,334 C99,333.4 103,333 108.5,331.8" stroke="#bcbcbc" stroke-width="1.1"/>
<path d="M93,334 C97,332.4 100,331.6 104,330.4" stroke="#7a7a7a" stroke-width="0.8"/>
<path d="M79,295 C80,298 79,301 81,303" stroke="#6a6a6a" stroke-width="0.8"/>
<path d="M86,294 C87,297 88,300 90,305 C91,307 91,309 92,311" stroke="#707070" stroke-width="0.8"/>
<path d="M74,305 C76,309 76,313 78,317" stroke="#505050" stroke-width="0.7"/>
<path d="M116.5,327 C118,325.5 119,324.5 120.5,323.5" stroke="#b0b0b0" stroke-width="0.9"/>
<path d="M108.5,327.5 C111,325.6 114.5,325.4 117,327.2 C119,329 119.6,332 118.4,335 C117.2,337.4 114.4,338.2 111.6,337.6 C108.6,336.8 107.4,334 107.6,331 C107.8,329.6 108,328.4 108.5,327.5 Z" stroke="#e0e0e0" stroke-width="1.2" fill="#707070"/>
<circle cx="111" cy="330" r="1.2" fill="#a0a0a0" stroke="none"/>
<circle cx="115" cy="335" r="1.0" fill="#9a9a9a" stroke="none"/>
<ellipse cx="134.6" cy="349.6" rx="1.8" ry="2.2" stroke="#6a6a6a" stroke-width="0.7" fill="#3a3a3a"/>
</g></g>
<rect x="125.4" y="362.5" width="9.2" height="1.4" fill="#111"/>
<text x="130.4" y="373" font-size="8" fill="#111" text-anchor="middle" letter-spacing="-0.3">10µm</text>
<g opacity="0.9">
<rect x="14" y="374" width="40" height="7.6" fill="#e9f0f9"/>
<line x1="14" y1="374.5" x2="54" y2="374.5" stroke="#9cb0d0" stroke-width="1.0"/>
<line x1="14" y1="381.1" x2="54" y2="381.1" stroke="#9cb0d0" stroke-width="1.0"/>
<line x1="14" y1="377.8" x2="54" y2="377.8" stroke="#f8fbff" stroke-width="1.2"/>
</g>
<g transform="translate(34,369) scale(0.5000,0.6333)">
<path d="M4,5 C4,2.5 7,1.5 9.5,3 C11,0.5 16,0 19,3.5 M9,2 C9.5,-0.5 13,-2.2 16,-1 C18,-2.5 21,-1.5 21,0.5 C21.5,2 21.5,3 21,4" fill="none" stroke="#3a3a3a" stroke-width="0.59"/>
<rect x="0" y="4" width="5.2" height="24" rx="2.6" ry="1.4" fill="#8d8d8d" stroke="#5e5e5e" stroke-width="0.44"/>
<rect x="0.9359999999999999" y="5.5" width="1.4560000000000002" height="21" fill="#a9a9a9"/>
<ellipse cx="2.6" cy="5.3" rx="2.4" ry="1.2" fill="#b8b8b8" stroke="#5e5e5e" stroke-width="0.37"/>
<rect x="8" y="1" width="5.2" height="24" rx="2.6" ry="1.4" fill="#8d8d8d" stroke="#5e5e5e" stroke-width="0.44"/>
<rect x="8.936" y="2.5" width="1.4560000000000002" height="21" fill="#a9a9a9"/>
<ellipse cx="10.6" cy="2.3" rx="2.4" ry="1.2" fill="#b8b8b8" stroke="#5e5e5e" stroke-width="0.37"/>
<rect x="17" y="3" width="5.2" height="24" rx="2.6" ry="1.4" fill="#8d8d8d" stroke="#5e5e5e" stroke-width="0.44"/>
<rect x="17.936" y="4.5" width="1.4560000000000002" height="21" fill="#a9a9a9"/>
<ellipse cx="19.6" cy="4.3" rx="2.4" ry="1.2" fill="#b8b8b8" stroke="#5e5e5e" stroke-width="0.37"/>
<rect x="3.6" y="6.5" width="5.8" height="23.5" rx="2.9" ry="1.4" fill="#8d8d8d" stroke="#5e5e5e" stroke-width="0.44"/>
<rect x="4.644" y="8.0" width="1.624" height="20.5" fill="#a9a9a9"/>
<ellipse cx="6.5" cy="7.8" rx="2.6999999999999997" ry="1.2" fill="#b8b8b8" stroke="#5e5e5e" stroke-width="0.37"/>
<rect x="11.6" y="5.5" width="5.8" height="24.5" rx="2.9" ry="1.4" fill="#8d8d8d" stroke="#5e5e5e" stroke-width="0.44"/>
<rect x="12.644" y="7.0" width="1.624" height="21.5" fill="#a9a9a9"/>
<ellipse cx="14.5" cy="6.8" rx="2.6999999999999997" ry="1.2" fill="#b8b8b8" stroke="#5e5e5e" stroke-width="0.37"/>
<path d="M6.3,13.6 L11.6,21.6 L16.9,13.6" fill="none" stroke="#1c1c1c" stroke-width="3.62" stroke-linejoin="miter" stroke-linecap="butt"/>
<path d="M6.3,13.6 L11.6,21.6 L16.9,13.6" fill="none" stroke="#f5d80c" stroke-width="1.88" stroke-linejoin="miter"/>
</g>
<circle cx="49" cy="388" r="9" fill="#fcdcd5"/>
<circle cx="49" cy="388" r="5.5" fill="#f4ab9c"/>
<circle cx="49" cy="388" r="3" fill="#e9552b" stroke="#b8452a" stroke-width="0.50"/>
<path d="M48.10,388.90 L49.90,387.10" stroke="#f8c0a8" stroke-width="0.90"/>
<text x="160" y="290.4" font-size="18" fill="#000">h</text>
<path d="M185.00,333.93 L185.70,333.49 L186.40,330.97 L187.10,333.88 L187.80,333.99 L188.50,334.16 L189.20,333.89 L189.90,336.58 L190.60,336.49 L191.30,337.06 L192.00,334.29 L192.70,332.70 L193.40,330.85 L194.10,331.57 L194.80,326.93 L195.50,333.59 L196.20,333.59 L196.90,333.48 L197.60,335.01 L198.30,333.19 L199.00,333.63 L199.70,334.90 L200.40,330.72 L201.10,335.53 L201.80,334.47 L202.50,334.72 L203.20,330.49 L203.90,326.85 L204.60,327.50 L205.30,324.64 L206.00,327.31 L206.70,332.06 L207.40,335.96 L208.10,329.58 L208.80,334.50 L209.50,334.26 L210.20,329.08 L210.90,318.30 L211.60,312.07 L212.30,307.85 L213.00,298.39 L213.70,296.39 L214.40,295.88 L215.10,295.46 L215.80,297.97 L216.50,297.88 L217.20,296.43 L217.90,298.39 L218.60,295.44 L219.30,293.42 L220.00,300.44 L220.70,297.30 L221.40,300.49 L222.10,298.43 L222.80,297.23 L223.50,298.22 L224.20,295.85 L224.90,294.81 L225.60,295.63 L226.30,295.63 L227.00,297.89 L227.70,301.41 L228.40,296.63 L229.10,295.09 L229.80,297.72 L230.50,298.41 L231.20,299.96 L231.90,296.86 L232.60,298.19 L233.30,297.47 L234.00,293.94 L234.70,296.58 L235.40,293.66 L236.10,296.64 L236.80,295.96 L237.50,296.17 L238.20,301.04 L238.90,301.97 L239.60,300.15 L240.30,299.27 L241.00,296.49 L241.70,299.35 L242.40,299.37 L243.10,296.35 L243.80,293.36 L244.50,295.40 L245.20,295.96 L245.90,298.34 L246.60,295.55 L247.30,294.59 L248.00,296.82 L248.70,297.14 L249.40,299.04 L250.10,300.24 L250.80,296.67 L251.50,292.06 L252.20,294.94 L252.90,294.62 L253.60,296.47 L254.30,291.28 L255.00,294.26 L255.70,296.00 L256.40,295.45 L257.10,297.40 L257.80,297.44 L258.50,297.71 L259.20,300.01 L259.90,301.04 L260.60,301.31 L261.30,299.75 L262.00,298.57 L262.70,298.91 L263.40,298.55 L264.10,296.25 L264.80,297.51 L265.50,299.14 L266.20,297.18 L266.90,294.90 L267.60,297.28 L268.30,298.34 L269.00,302.40 L269.70,310.23 L270.40,314.74 L271.10,323.88 L271.80,329.75 L272.50,332.56 L273.20,335.17 L273.90,336.30 L274.60,334.34 L275.30,329.06 L276.00,330.31 L276.70,329.34 L277.40,332.43 L278.10,333.03 L278.80,328.70 L279.50,326.75 L280.20,329.23 L280.90,333.14 L281.60,332.91 L282.30,335.00 L283.00,333.35 L283.70,330.86 L284.40,332.19 L285.10,335.93 L285.80,333.99 L286.50,329.90 L287.20,334.17 L287.90,334.07 L288.60,334.64 L289.30,332.84 L290.00,333.96 L290.70,336.76 L291.40,333.43 L292.10,334.65 L292.80,334.51 L293.50,331.98 L294.20,332.96 L294.90,334.23 L295.60,331.89 L296.30,334.93 L297.00,331.66 L297.70,334.80" fill="none" stroke="#f26a3c" stroke-width="0.8"/>
<path d="M227.0,296 L227.4,283.6 L227.8,296" fill="none" stroke="#f26a3c" stroke-width="0.7"/>
<path d="M236.2,296 L236.6,283.6 L237.0,296" fill="none" stroke="#f26a3c" stroke-width="0.7"/>
<path d="M251.0,296 L251.4,283.6 L251.8,296" fill="none" stroke="#f26a3c" stroke-width="0.7"/>
<path d="M256.6,296 L257,283.6 L257.4,296" fill="none" stroke="#f26a3c" stroke-width="0.7"/>
<path d="M261.20000000000005,296 L261.6,283.6 L262.0,296" fill="none" stroke="#f26a3c" stroke-width="0.7"/>
<path d="M185.00,390.61 L185.60,390.56 L186.20,390.25 L186.80,391.25 L187.40,390.03 L188.00,390.65 L188.60,391.03 L189.20,390.98 L189.80,391.02 L190.40,390.48 L191.00,391.56 L191.60,390.68 L192.20,390.97 L192.80,391.03 L193.40,391.08 L194.00,390.94 L194.60,391.73 L195.20,391.25 L195.80,391.63 L196.40,390.76 L197.00,391.58 L197.60,391.34 L198.20,391.61 L198.80,391.59 L199.40,391.72 L200.00,391.58 L200.60,391.69 L201.20,391.75 L201.80,391.78 L202.40,391.45 L203.00,390.18 L203.60,388.21 L204.20,385.81 L204.80,387.36 L205.40,389.35 L206.00,391.62 L206.60,391.89 L207.20,391.70 L207.80,391.69 L208.40,392.00 L209.00,392.10 L209.60,392.24 L210.20,387.67 L210.80,383.43 L211.40,377.76 L212.00,374.60 L212.60,374.51 L213.20,374.31 L213.80,373.24 L214.40,373.59 L215.00,372.61 L215.60,372.93 L216.20,372.61 L216.80,372.57 L217.40,372.44 L218.00,372.41 L218.60,372.39 L219.20,372.83 L219.80,372.53 L220.40,372.59 L221.00,373.36 L221.60,372.54 L222.20,372.18 L222.80,371.70 L223.40,371.63 L224.00,372.55 L224.60,372.82 L225.20,372.13 L225.80,372.09 L226.40,372.43 L227.00,372.55 L227.60,376.77 L228.20,375.10 L228.80,374.04 L229.40,373.93 L230.00,372.96 L230.60,372.52 L231.20,372.46 L231.80,372.38 L232.40,372.35 L233.00,372.50 L233.60,372.52 L234.20,373.35 L234.80,372.65 L235.40,371.73 L236.00,371.99 L236.60,372.56 L237.20,375.22 L237.80,375.30 L238.40,373.69 L239.00,373.27 L239.60,373.15 L240.20,372.82 L240.80,372.69 L241.40,372.40 L242.00,372.61 L242.60,372.28 L243.20,371.55 L243.80,372.65 L244.40,373.09 L245.00,372.15 L245.60,372.30 L246.20,372.78 L246.80,372.31 L247.40,372.54 L248.00,372.42 L248.60,372.72 L249.20,372.45 L249.80,373.22 L250.40,372.52 L251.00,372.41 L251.60,375.92 L252.20,375.17 L252.80,373.93 L253.40,373.92 L254.00,373.50 L254.60,373.98 L255.20,372.57 L255.80,372.55 L256.40,372.88 L257.00,371.78 L257.60,375.75 L258.20,375.18 L258.80,373.88 L259.40,373.40 L260.00,373.55 L260.60,373.01 L261.20,372.61 L261.80,376.75 L262.40,374.86 L263.00,374.96 L263.60,373.56 L264.20,373.30 L264.80,372.90 L265.40,371.93 L266.00,371.92 L266.60,372.37 L267.20,372.50 L267.80,372.91 L268.40,373.45 L269.00,372.76 L269.60,377.58 L270.20,382.00 L270.80,387.35 L271.40,391.24 L272.00,393.39 L272.60,393.89 L273.20,393.35 L273.80,393.35 L274.40,393.46 L275.00,392.82 L275.60,393.36 L276.20,393.46 L276.80,393.49 L277.40,392.89 L278.00,390.78 L278.60,388.86 L279.20,388.87 L279.80,390.49 L280.40,392.38 L281.00,393.50 L281.60,393.60 L282.20,393.46 L282.80,393.62 L283.40,393.46 L284.00,392.48 L284.60,390.97 L285.20,391.18 L285.80,391.42 L286.40,393.79 L287.00,393.45 L287.60,393.14 L288.20,393.66 L288.80,393.78 L289.40,392.97 L290.00,393.47 L290.60,393.71 L291.20,393.70 L291.80,393.42 L292.40,393.02 L293.00,393.37 L293.60,394.19 L294.20,393.07 L294.80,394.50 L295.40,393.39 L296.00,393.38 L296.60,393.21 L297.20,393.46 L297.80,393.48" fill="none" stroke="#333" stroke-width="0.8"/>
<path d="M227.1,372 L227.4,330 L227.70000000000002,372" fill="none" stroke="#333" stroke-width="0.7"/>
<path d="M236.29999999999998,372 L236.6,330 L236.9,372" fill="none" stroke="#333" stroke-width="0.7"/>
<path d="M251.1,372 L251.4,330 L251.70000000000002,372" fill="none" stroke="#333" stroke-width="0.7"/>
<path d="M256.7,372 L257,330 L257.3,372" fill="none" stroke="#333" stroke-width="0.7"/>
<path d="M261.3,372 L261.6,330 L261.90000000000003,372" fill="none" stroke="#333" stroke-width="0.7"/>
<path d="M284.4,311 V321.4 H297" fill="none" stroke="#222" stroke-width="0.8"/>
<text x="287" y="308" font-size="8.2" fill="#111" text-anchor="start" >-1% ΔF/F<tspan font-size="5.5" dy="1.5">o</tspan></text>
<text x="287" y="318" font-size="8.2" fill="#111" text-anchor="start" >0.2 s</text>
<path d="M284.4,367.4 V377 H297" fill="none" stroke="#222" stroke-width="0.8"/>
<text x="287.6" y="363.6" font-size="8.2" fill="#111" text-anchor="start" >20 mV</text>
<text x="287.6" y="373.6" font-size="8.2" fill="#111" text-anchor="start" >0.2 s</text>
<path d="M376,325 L376.2,288.60 376.20,287.78 L377.00,289.16 L377.80,290.47 L378.60,292.03 L379.40,287.36 L380.20,287.18 L381.00,286.80 L381.80,287.65 L382.60,288.13 L383.40,286.46 L384.20,288.51 L385.00,286.34 L385.80,288.92 L386.60,287.27 L387.40,288.76 L388.20,289.37 L389.00,288.64 L389.80,287.68 L390.60,287.15 L391.40,286.46 L392.20,290.59 L393.00,290.09 L393.80,292.02 L394.60,290.10 L395.40,289.56 L396.20,287.93 L397.00,288.06 L397.80,285.98 L398.60,289.58 L399.40,290.48 L400.20,291.51 L401.00,291.73 L401.80,287.76 L402.60,284.37 L403.40,288.82 L404.20,289.10 L405.00,287.18 L405.80,286.79 L406.60,289.49 L407.40,291.77 L408.20,290.14 L409.00,287.91 L409.80,289.83 L410.60,290.73 L411.40,287.22 L412.20,289.52 L413.00,287.28 L413.80,288.33 L414.60,289.36 L415.40,288.90 L416.20,286.26 L417.00,288.66 L417.80,286.33 L418.60,289.19 L419.40,285.65 L420.20,287.07 L421.00,287.45 L421.80,287.18 L422.60,288.61 L423.40,289.04 L424.20,291.70 L425.00,290.14 L425.80,290.81 L426.60,287.32 L427.40,290.04 L428.20,290.41 L429.00,291.31 L429.80,291.61 L430.60,287.91 L431.40,286.29 L432.20,286.77 L433.00,287.12 L433.80,290.53 L434.60,285.86 L435.40,288.00 L436.20,290.11 L437.00,288.73 L437.80,286.31 L438.60,286.59 L439.40,289.00 L440.20,289.92 L441.00,288.68 L441.80,289.18 L442.60,291.04 L443.40,288.65 L444.20,291.87 L445.00,287.80 L445.80,291.53 L446.60,286.99 L447.40,290.41 L448.20,289.07 L449.00,286.20 L449.80,288.21 L450.60,289.41 L451.40,289.76 L452.20,289.08 L453.00,288.44 L453.80,288.07 L454.60,288.63 L455.40,290.61 L456.20,289.88 L457.00,290.07 L457.80,289.28 L458.60,291.08 L459.40,293.17 L460.20,293.38 L461.00,287.80 L461.80,286.98 L462.60,286.47 L463.40,287.48 L464.20,291.55 L465.00,288.74 L465.6,325" fill="none" stroke="#f27a50" stroke-width="0.7"/>
<path d="M376,325 L376.2,299.50 376.20,299.67 L377.00,299.20 L377.80,296.30 L378.60,296.73 L379.40,297.61 L380.20,297.61 L381.00,298.46 L381.80,298.46 L382.60,298.86 L383.40,296.65 L384.20,300.45 L385.00,300.54 L385.80,298.57 L386.60,298.45 L387.40,297.78 L388.20,295.89 L389.00,299.70 L389.80,298.81 L390.60,301.09 L391.40,302.38 L392.20,298.00 L393.00,297.24 L393.80,299.79 L394.60,298.65 L395.40,298.16 L396.20,298.48 L397.00,299.94 L397.80,297.34 L398.60,299.09 L399.40,301.22 L400.20,298.99 L401.00,298.74 L401.80,300.03 L402.60,301.24 L403.40,301.56 L404.20,300.81 L405.00,302.52 L405.80,299.19 L406.60,302.15 L407.40,301.13 L408.20,299.40 L409.00,297.10 L409.80,301.48 L410.60,300.43 L411.40,300.67 L412.20,302.42 L413.00,299.58 L413.80,300.85 L414.60,301.30 L415.40,302.70 L416.20,300.86 L417.00,302.94 L417.80,299.48 L418.60,299.42 L419.40,298.41 L420.20,297.65 L421.00,301.88 L421.80,300.58 L422.60,299.73 L423.40,299.89 L424.20,299.85 L425.00,297.10 L425.80,298.15 L426.60,299.82 L427.40,297.55 L428.20,298.67 L429.00,298.62 L429.80,297.61 L430.60,296.77 L431.40,297.79 L432.20,299.44 L433.00,300.39 L433.80,297.14 L434.60,299.16 L435.40,300.40 L436.20,296.85 L437.00,296.57 L437.80,299.68 L438.60,300.75 L439.40,300.76 L440.20,302.50 L441.00,301.45 L441.80,302.29 L442.60,300.20 L443.40,299.70 L444.20,298.05 L445.00,299.32 L445.80,298.83 L446.60,298.34 L447.40,300.26 L448.20,300.32 L449.00,298.98 L449.80,299.73 L450.60,300.12 L451.40,300.40 L452.20,298.60 L453.00,300.38 L453.80,298.95 L454.60,299.89 L455.40,298.72 L456.20,302.73 L457.00,297.90 L457.80,300.82 L458.60,298.18 L459.40,301.90 L460.20,298.02 L461.00,300.34 L461.80,299.43 L462.60,301.07 L463.40,297.71 L464.20,298.52 L465.00,300.03 L465.6,325" fill="none" stroke="#f27a50" stroke-width="0.7"/>
<path d="M376,325 L376.2,311.80 376.20,313.22 L377.00,311.12 L377.80,308.45 L378.60,310.36 L379.40,310.26 L380.20,311.54 L381.00,310.99 L381.80,309.84 L382.60,310.98 L383.40,313.95 L384.20,313.30 L385.00,311.51 L385.80,312.73 L386.60,309.64 L387.40,310.25 L388.20,311.27 L389.00,311.03 L389.80,310.52 L390.60,311.47 L391.40,314.75 L392.20,312.45 L393.00,312.64 L393.80,314.85 L394.60,308.41 L395.40,310.41 L396.20,312.94 L397.00,309.59 L397.80,310.53 L398.60,313.72 L399.40,312.45 L400.20,312.33 L401.00,315.48 L401.80,309.52 L402.60,313.13 L403.40,309.98 L404.20,312.04 L405.00,312.87 L405.80,312.31 L406.60,311.50 L407.40,313.15 L408.20,312.89 L409.00,313.51 L409.80,313.93 L410.60,313.39 L411.40,315.17 L412.20,311.94 L413.00,308.67 L413.80,307.98 L414.60,310.55 L415.40,309.31 L416.20,310.56 L417.00,311.66 L417.80,314.35 L418.60,310.39 L419.40,312.25 L420.20,309.68 L421.00,312.77 L421.80,308.43 L422.60,313.57 L423.40,311.78 L424.20,315.54 L425.00,313.12 L425.80,310.58 L426.60,310.79 L427.40,310.43 L428.20,311.97 L429.00,313.95 L429.80,312.79 L430.60,311.56 L431.40,311.30 L432.20,314.64 L433.00,310.95 L433.80,312.86 L434.60,310.62 L435.40,310.19 L436.20,312.56 L437.00,309.33 L437.80,313.99 L438.60,315.25 L439.40,311.05 L440.20,309.77 L441.00,311.06 L441.80,311.12 L442.60,310.45 L443.40,313.27 L444.20,316.28 L445.00,312.77 L445.80,313.26 L446.60,311.50 L447.40,311.76 L448.20,310.88 L449.00,311.43 L449.80,312.01 L450.60,311.29 L451.40,312.07 L452.20,310.71 L453.00,312.18 L453.80,309.19 L454.60,312.07 L455.40,311.60 L456.20,312.62 L457.00,311.92 L457.80,311.72 L458.60,311.93 L459.40,311.19 L460.20,311.67 L461.00,308.38 L461.80,309.71 L462.60,311.72 L463.40,309.59 L464.20,315.07 L465.00,315.07 L465.6,325" fill="none" stroke="#f27a50" stroke-width="0.7"/>
<path d="M376,325 L376.2,324.80 376.20,322.30 L377.00,327.02 L377.80,326.15 L378.60,326.17 L379.40,327.58 L380.20,324.66 L381.00,325.43 L381.80,326.54 L382.60,324.10 L383.40,324.31 L384.20,324.81 L385.00,325.44 L385.80,323.35 L386.60,324.34 L387.40,323.65 L388.20,325.94 L389.00,324.21 L389.80,325.91 L390.60,325.15 L391.40,324.01 L392.20,326.00 L393.00,326.05 L393.80,324.68 L394.60,326.48 L395.40,327.60 L396.20,322.61 L397.00,325.67 L397.80,321.83 L398.60,324.23 L399.40,326.08 L400.20,326.10 L401.00,325.95 L401.80,325.01 L402.60,326.00 L403.40,323.26 L404.20,327.60 L405.00,322.19 L405.80,323.83 L406.60,322.02 L407.40,323.66 L408.20,323.52 L409.00,322.66 L409.80,326.12 L410.60,324.18 L411.40,323.53 L412.20,324.46 L413.00,326.05 L413.80,326.07 L414.60,324.44 L415.40,325.16 L416.20,325.17 L417.00,324.81 L417.80,323.71 L418.60,324.95 L419.40,322.36 L420.20,325.80 L421.00,326.57 L421.80,324.89 L422.60,324.05 L423.40,321.43 L424.20,323.57 L425.00,326.00 L425.80,322.40 L426.60,325.40 L427.40,323.87 L428.20,327.69 L429.00,326.45 L429.80,327.36 L430.60,325.16 L431.40,324.59 L432.20,323.37 L433.00,327.05 L433.80,324.93 L434.60,325.14 L435.40,322.99 L436.20,324.71 L437.00,323.19 L437.80,324.71 L438.60,326.91 L439.40,324.45 L440.20,323.13 L441.00,324.96 L441.80,324.98 L442.60,323.71 L443.40,321.92 L444.20,324.38 L445.00,325.43 L445.80,325.43 L446.60,327.15 L447.40,326.11 L448.20,325.83 L449.00,322.89 L449.80,324.04 L450.60,324.34 L451.40,323.55 L452.20,325.79 L453.00,324.44 L453.80,325.72 L454.60,324.26 L455.40,325.47 L456.20,326.79 L457.00,326.16 L457.80,326.77 L458.60,325.55 L459.40,322.68 L460.20,325.91 L461.00,324.61 L461.80,323.10 L462.60,326.82 L463.40,325.40 L464.20,324.59 L465.00,322.57 L465.6,325" fill="none" stroke="#f27a50" stroke-width="0.7"/>
<path d="M376,325 L376.2,338.40 376.20,340.20 L377.00,338.74 L377.80,336.97 L378.60,339.21 L379.40,340.32 L380.20,340.21 L381.00,340.41 L381.80,340.60 L382.60,337.15 L383.40,336.57 L384.20,338.92 L385.00,340.77 L385.80,343.22 L386.60,338.02 L387.40,338.39 L388.20,337.50 L389.00,338.32 L389.80,337.42 L390.60,338.55 L391.40,338.39 L392.20,339.96 L393.00,338.95 L393.80,341.91 L394.60,341.08 L395.40,340.16 L396.20,338.33 L397.00,339.36 L397.80,337.59 L398.60,338.53 L399.40,337.70 L400.20,339.79 L401.00,338.14 L401.80,338.48 L402.60,340.10 L403.40,339.25 L404.20,338.62 L405.00,336.39 L405.80,338.23 L406.60,340.24 L407.40,338.82 L408.20,337.88 L409.00,339.31 L409.80,342.05 L410.60,339.77 L411.40,338.36 L412.20,337.24 L413.00,338.20 L413.80,335.98 L414.60,336.70 L415.40,336.67 L416.20,340.40 L417.00,336.33 L417.80,337.93 L418.60,337.29 L419.40,336.02 L420.20,338.53 L421.00,340.19 L421.80,338.30 L422.60,337.80 L423.40,338.31 L424.20,339.51 L425.00,339.16 L425.80,338.11 L426.60,337.36 L427.40,338.21 L428.20,336.13 L429.00,337.40 L429.80,339.98 L430.60,338.99 L431.40,338.21 L432.20,336.54 L433.00,336.09 L433.80,339.18 L434.60,338.31 L435.40,336.55 L436.20,335.81 L437.00,336.87 L437.80,340.55 L438.60,338.93 L439.40,334.72 L440.20,336.84 L441.00,338.39 L441.80,336.08 L442.60,337.58 L443.40,340.43 L444.20,337.56 L445.00,335.27 L445.80,336.73 L446.60,339.24 L447.40,336.89 L448.20,337.99 L449.00,338.51 L449.80,338.21 L450.60,338.22 L451.40,335.58 L452.20,341.46 L453.00,339.04 L453.80,340.93 L454.60,338.90 L455.40,337.16 L456.20,335.50 L457.00,335.75 L457.80,337.51 L458.60,336.80 L459.40,340.31 L460.20,338.80 L461.00,338.67 L461.80,341.28 L462.60,339.79 L463.40,335.64 L464.20,339.14 L465.00,336.22 L465.6,325" fill="none" stroke="#f27a50" stroke-width="0.7"/>
<path d="M376,325 L376.2,352.60 376.20,350.58 L377.00,353.74 L377.80,353.15 L378.60,349.87 L379.40,352.91 L380.20,357.11 L381.00,350.71 L381.80,350.58 L382.60,349.41 L383.40,351.51 L384.20,351.31 L385.00,351.50 L385.80,349.45 L386.60,351.98 L387.40,351.80 L388.20,355.87 L389.00,353.10 L389.80,350.01 L390.60,349.56 L391.40,351.42 L392.20,351.25 L393.00,351.05 L393.80,354.20 L394.60,353.02 L395.40,351.98 L396.20,350.61 L397.00,350.52 L397.80,353.22 L398.60,354.52 L399.40,354.44 L400.20,353.81 L401.00,353.24 L401.80,356.12 L402.60,355.31 L403.40,355.10 L404.20,352.04 L405.00,353.44 L405.80,352.40 L406.60,351.63 L407.40,350.86 L408.20,353.75 L409.00,354.16 L409.80,353.96 L410.60,353.74 L411.40,353.61 L412.20,353.76 L413.00,354.33 L413.80,351.94 L414.60,351.61 L415.40,352.09 L416.20,352.89 L417.00,353.27 L417.80,352.15 L418.60,350.55 L419.40,351.98 L420.20,350.39 L421.00,352.04 L421.80,354.02 L422.60,350.58 L423.40,354.73 L424.20,352.28 L425.00,349.72 L425.80,349.70 L426.60,348.55 L427.40,351.59 L428.20,352.31 L429.00,352.91 L429.80,352.89 L430.60,353.51 L431.40,352.17 L432.20,350.49 L433.00,352.55 L433.80,352.79 L434.60,353.88 L435.40,353.65 L436.20,352.20 L437.00,353.36 L437.80,351.27 L438.60,351.69 L439.40,350.94 L440.20,351.13 L441.00,350.05 L441.80,350.81 L442.60,352.76 L443.40,350.32 L444.20,353.13 L445.00,353.79 L445.80,352.97 L446.60,351.28 L447.40,354.20 L448.20,351.90 L449.00,352.36 L449.80,354.01 L450.60,351.55 L451.40,353.50 L452.20,351.86 L453.00,354.36 L453.80,352.41 L454.60,352.05 L455.40,353.20 L456.20,353.05 L457.00,351.80 L457.80,353.63 L458.60,350.31 L459.40,353.71 L460.20,354.73 L461.00,352.92 L461.80,352.03 L462.60,352.68 L463.40,348.84 L464.20,350.68 L465.00,353.76 L465.6,325" fill="none" stroke="#f27a50" stroke-width="0.7"/>
<path d="M376,325 L376.2,368.40 376.20,367.43 L377.00,368.77 L377.80,369.70 L378.60,370.67 L379.40,369.76 L380.20,368.58 L381.00,370.36 L381.80,369.15 L382.60,368.29 L383.40,371.48 L384.20,369.08 L385.00,368.89 L385.80,367.93 L386.60,369.76 L387.40,367.29 L388.20,368.77 L389.00,367.63 L389.80,372.10 L390.60,370.42 L391.40,369.00 L392.20,368.99 L393.00,367.61 L393.80,368.59 L394.60,369.94 L395.40,366.84 L396.20,365.87 L397.00,367.99 L397.80,367.36 L398.60,369.01 L399.40,368.16 L400.20,369.42 L401.00,365.78 L401.80,368.88 L402.60,369.52 L403.40,369.08 L404.20,370.25 L405.00,369.42 L405.80,365.92 L406.60,367.80 L407.40,367.87 L408.20,367.40 L409.00,371.55 L409.80,368.98 L410.60,365.92 L411.40,368.20 L412.20,369.15 L413.00,366.47 L413.80,368.06 L414.60,370.55 L415.40,371.17 L416.20,365.90 L417.00,366.21 L417.80,369.15 L418.60,367.72 L419.40,367.76 L420.20,371.15 L421.00,366.99 L421.80,368.08 L422.60,367.53 L423.40,363.98 L424.20,365.58 L425.00,367.54 L425.80,368.57 L426.60,367.96 L427.40,367.28 L428.20,368.53 L429.00,366.22 L429.80,366.01 L430.60,366.86 L431.40,368.49 L432.20,370.84 L433.00,371.31 L433.80,366.01 L434.60,365.95 L435.40,367.64 L436.20,369.47 L437.00,369.61 L437.80,370.70 L438.60,366.14 L439.40,366.69 L440.20,366.79 L441.00,367.25 L441.80,370.29 L442.60,370.51 L443.40,370.24 L444.20,368.42 L445.00,367.68 L445.80,369.97 L446.60,366.98 L447.40,369.85 L448.20,367.00 L449.00,368.27 L449.80,367.52 L450.60,369.00 L451.40,371.84 L452.20,367.53 L453.00,368.56 L453.80,369.90 L454.60,368.49 L455.40,367.00 L456.20,366.19 L457.00,368.56 L457.80,368.24 L458.60,369.88 L459.40,368.04 L460.20,364.72 L461.00,370.39 L461.80,370.15 L462.60,370.78 L463.40,370.18 L464.20,370.68 L465.00,369.60 L465.6,325" fill="none" stroke="#f27a50" stroke-width="0.7"/>
<path d="M376,325 L376.2,380.20 376.20,380.58 L377.00,383.09 L377.80,382.76 L378.60,381.08 L379.40,382.27 L380.20,380.25 L381.00,378.12 L381.80,380.48 L382.60,380.91 L383.40,378.11 L384.20,378.77 L385.00,380.37 L385.80,380.62 L386.60,378.51 L387.40,381.14 L388.20,380.05 L389.00,379.56 L389.80,381.67 L390.60,383.25 L391.40,380.76 L392.20,379.68 L393.00,382.36 L393.80,380.98 L394.60,379.92 L395.40,380.09 L396.20,378.41 L397.00,381.66 L397.80,378.82 L398.60,379.43 L399.40,380.48 L400.20,379.01 L401.00,380.75 L401.80,381.02 L402.60,382.67 L403.40,381.92 L404.20,379.36 L405.00,381.47 L405.80,381.84 L406.60,380.36 L407.40,380.63 L408.20,381.57 L409.00,381.42 L409.80,381.31 L410.60,380.65 L411.40,382.12 L412.20,380.04 L413.00,380.34 L413.80,380.65 L414.60,380.00 L415.40,381.48 L416.20,381.45 L417.00,380.16 L417.80,381.80 L418.60,379.72 L419.40,380.76 L420.20,378.48 L421.00,383.58 L421.80,380.05 L422.60,379.14 L423.40,378.97 L424.20,379.62 L425.00,380.94 L425.80,380.66 L426.60,382.43 L427.40,379.08 L428.20,380.88 L429.00,382.77 L429.80,380.10 L430.60,382.59 L431.40,379.73 L432.20,380.09 L433.00,380.63 L433.80,380.04 L434.60,379.33 L435.40,379.61 L436.20,379.51 L437.00,378.36 L437.80,378.83 L438.60,377.13 L439.40,380.15 L440.20,379.85 L441.00,379.07 L441.80,378.31 L442.60,379.81 L443.40,379.26 L444.20,380.69 L445.00,380.70 L445.80,382.44 L446.60,382.28 L447.40,381.34 L448.20,378.76 L449.00,379.87 L449.80,379.11 L450.60,377.31 L451.40,378.58 L452.20,379.58 L453.00,381.64 L453.80,383.79 L454.60,379.34 L455.40,380.35 L456.20,380.66 L457.00,382.46 L457.80,379.30 L458.60,381.35 L459.40,377.26 L460.20,378.34 L461.00,380.29 L461.80,376.84 L462.60,379.84 L463.40,379.62 L464.20,379.12 L465.00,379.12 L465.6,325" fill="none" stroke="#f27a50" stroke-width="0.7"/>
<path d="M357.00,323.82 L357.70,326.81 L358.40,322.65 L359.10,324.68 L359.80,324.20 L360.50,325.32 L361.20,325.49 L361.90,324.95 L362.60,330.03 L363.30,323.24 L364.00,324.37 L364.70,323.93 L365.40,324.52 L366.10,323.45 L366.80,322.78 L367.50,327.71 L368.20,324.94 L368.90,324.61 L369.60,326.68 L370.30,324.36 L371.00,324.46 L371.70,326.70 L372.40,325.53 L373.10,326.82 L373.80,327.68 L374.50,320.78 L375.20,326.43 L375.90,322.84" fill="none" stroke="#f0622e" stroke-width="0.7"/>
<path d="M465.60,323.17 L466.30,325.93 L467.00,325.81 L467.70,326.11 L468.40,327.98 L469.10,325.90 L469.80,325.89 L470.50,325.69 L471.20,322.06 L471.90,326.47 L472.60,327.69 L473.30,326.35 L474.00,324.45 L474.70,326.74 L475.40,319.91 L476.10,326.65 L476.80,326.41 L477.50,324.95 L478.20,323.71 L478.90,324.06 L479.60,323.43 L480.30,327.96 L481.00,323.63 L481.70,323.26 L482.40,324.41 L483.10,326.65 L483.80,321.72" fill="none" stroke="#f0622e" stroke-width="0.7"/>
<path d="M357.00,325.63 L357.70,324.77 L358.40,327.32 L359.10,325.16 L359.80,324.41 L360.50,325.43 L361.20,328.03 L361.90,328.94 L362.60,326.85 L363.30,322.67 L364.00,326.03 L364.70,326.51 L365.40,326.24 L366.10,321.94 L366.80,325.64 L367.50,324.15 L368.20,324.43 L368.90,326.23 L369.60,325.67 L370.30,324.23 L371.00,324.56 L371.70,325.94 L372.40,326.38 L373.10,325.19 L373.80,327.45 L374.50,325.22 L375.20,326.20 L375.90,325.02" fill="none" stroke="#f0622e" stroke-width="0.7"/>
<path d="M465.60,322.49 L466.30,324.93 L467.00,323.99 L467.70,323.78 L468.40,323.74 L469.10,323.77 L469.80,325.21 L470.50,326.36 L471.20,321.99 L471.90,323.34 L472.60,325.41 L473.30,325.00 L474.00,327.14 L474.70,324.37 L475.40,326.83 L476.10,322.27 L476.80,322.79 L477.50,325.40 L478.20,324.48 L478.90,325.33 L479.60,323.25 L480.30,326.48 L481.00,326.33 L481.70,326.25 L482.40,323.71 L483.10,324.26 L483.80,327.10" fill="none" stroke="#f0622e" stroke-width="0.7"/>
<path d="M357.00,321.30 L357.70,323.40 L358.40,329.24 L359.10,322.19 L359.80,327.63 L360.50,326.21 L361.20,322.61 L361.90,325.19 L362.60,325.82 L363.30,323.72 L364.00,326.37 L364.70,325.04 L365.40,329.03 L366.10,324.10 L366.80,324.06 L367.50,325.22 L368.20,324.92 L368.90,323.44 L369.60,326.54 L370.30,323.52 L371.00,324.81 L371.70,325.62 L372.40,324.82 L373.10,326.63 L373.80,324.16 L374.50,327.88 L375.20,326.50 L375.90,322.85" fill="none" stroke="#f0622e" stroke-width="0.7"/>
<path d="M465.60,322.44 L466.30,325.86 L467.00,327.06 L467.70,325.60 L468.40,322.57 L469.10,324.46 L469.80,324.60 L470.50,328.59 L471.20,323.87 L471.90,326.62 L472.60,326.58 L473.30,326.50 L474.00,327.21 L474.70,325.04 L475.40,326.20 L476.10,329.26 L476.80,323.76 L477.50,325.43 L478.20,324.49 L478.90,324.15 L479.60,323.05 L480.30,324.72 L481.00,327.77 L481.70,323.98 L482.40,328.31 L483.10,320.93 L483.80,322.83" fill="none" stroke="#f0622e" stroke-width="0.7"/>
<path d="M357.00,323.43 L357.70,323.73 L358.40,321.90 L359.10,327.48 L359.80,322.30 L360.50,328.72 L361.20,322.98 L361.90,326.50 L362.60,327.71 L363.30,324.13 L364.00,321.29 L364.70,323.03 L365.40,327.34 L366.10,326.78 L366.80,325.06 L367.50,325.19 L368.20,326.33 L368.90,326.87 L369.60,326.09 L370.30,325.39 L371.00,325.46 L371.70,322.66 L372.40,322.93 L373.10,324.75 L373.80,325.46 L374.50,326.15 L375.20,323.77 L375.90,322.05" fill="none" stroke="#f0622e" stroke-width="0.7"/>
<path d="M465.60,327.52 L466.30,326.53 L467.00,327.13 L467.70,323.36 L468.40,326.82 L469.10,323.85 L469.80,325.37 L470.50,327.04 L471.20,324.19 L471.90,325.81 L472.60,326.83 L473.30,321.76 L474.00,322.64 L474.70,324.73 L475.40,325.82 L476.10,321.58 L476.80,325.71 L477.50,328.97 L478.20,325.76 L478.90,322.96 L479.60,325.07 L480.30,322.90 L481.00,322.94 L481.70,322.69 L482.40,321.63 L483.10,323.83 L483.80,323.96" fill="none" stroke="#f0622e" stroke-width="0.7"/>
<path d="M357.00,323.45 L357.70,326.04 L358.40,325.30 L359.10,326.50 L359.80,321.94 L360.50,328.06 L361.20,327.29 L361.90,323.16 L362.60,324.67 L363.30,323.65 L364.00,324.19 L364.70,325.91 L365.40,326.14 L366.10,322.53 L366.80,324.79 L367.50,324.71 L368.20,324.58 L368.90,321.83 L369.60,322.00 L370.30,324.58 L371.00,325.99 L371.70,322.64 L372.40,324.06 L373.10,327.11 L373.80,325.59 L374.50,324.43 L375.20,325.78 L375.90,323.55" fill="none" stroke="#f0622e" stroke-width="0.7"/>
<path d="M465.60,324.66 L466.30,324.14 L467.00,318.84 L467.70,326.74 L468.40,323.23 L469.10,323.95 L469.80,324.32 L470.50,326.59 L471.20,322.80 L471.90,321.62 L472.60,326.15 L473.30,326.18 L474.00,323.96 L474.70,326.07 L475.40,328.26 L476.10,324.36 L476.80,324.65 L477.50,324.95 L478.20,327.33 L478.90,323.21 L479.60,326.13 L480.30,323.97 L481.00,324.21 L481.70,326.67 L482.40,323.36 L483.10,326.11 L483.80,328.52" fill="none" stroke="#f0622e" stroke-width="0.7"/>
<path d="M357.00,324.76 L357.70,326.73 L358.40,325.81 L359.10,326.24 L359.80,326.67 L360.50,322.45 L361.20,325.79 L361.90,326.15 L362.60,323.30 L363.30,325.82 L364.00,324.15 L364.70,324.50 L365.40,325.78 L366.10,326.46 L366.80,322.04 L367.50,323.75 L368.20,324.26 L368.90,324.71 L369.60,325.45 L370.30,324.15 L371.00,324.09 L371.70,325.21 L372.40,326.45 L373.10,325.40 L373.80,323.57 L374.50,327.19 L375.20,324.09 L375.90,325.92" fill="none" stroke="#f0622e" stroke-width="0.7"/>
<path d="M465.60,325.88 L466.30,327.12 L467.00,324.95 L467.70,324.25 L468.40,324.64 L469.10,325.48 L469.80,323.33 L470.50,325.98 L471.20,325.10 L471.90,324.68 L472.60,325.71 L473.30,324.11 L474.00,327.44 L474.70,326.70 L475.40,329.87 L476.10,323.02 L476.80,323.29 L477.50,323.34 L478.20,323.60 L478.90,324.14 L479.60,323.89 L480.30,324.29 L481.00,326.06 L481.70,322.80 L482.40,324.25 L483.10,326.11 L483.80,322.42" fill="none" stroke="#f0622e" stroke-width="0.7"/>
<path d="M470.6,366 V376.6 H488" fill="none" stroke="#222" stroke-width="0.8"/>
<text x="474" y="363.6" font-size="8.2" fill="#111" text-anchor="start" >-2% ΔF/F<tspan font-size="5.5" dy="1.5">o</tspan></text>
<text x="474" y="373.6" font-size="8.2" fill="#111" text-anchor="start" >0.2 s</text>
<text x="336.5" y="290" font-size="18" fill="#000">i</text>
<text x="519" y="289.5" font-size="18" fill="#000">j</text>
<path d="M561,289 V396" fill="none" stroke="#222" stroke-width="1"/>
<path d="M561,329 H660" fill="none" stroke="#222" stroke-width="1"/>
<line x1="558" y1="302.25" x2="561" y2="302.25" stroke="#222" stroke-width="1"/>
<text x="556" y="305.25" font-size="8.4" fill="#111" text-anchor="end" >5</text>
<line x1="558" y1="329.00" x2="561" y2="329.00" stroke="#222" stroke-width="1"/>
<text x="556" y="332.0" font-size="8.4" fill="#111" text-anchor="end" >0</text>
<line x1="558" y1="355.75" x2="561" y2="355.75" stroke="#222" stroke-width="1"/>
<text x="556" y="358.75" font-size="8.4" fill="#111" text-anchor="end" >-5</text>
<line x1="558" y1="382.50" x2="561" y2="382.50" stroke="#222" stroke-width="1"/>
<text x="556" y="385.5" font-size="8.4" fill="#111" text-anchor="end" >-10</text>
<line x1="573.10" y1="329" x2="573.10" y2="332.4" stroke="#222" stroke-width="1"/>
<text x="573.1" y="343.6" font-size="8.4" fill="#111" text-anchor="middle" >-100</text>
<line x1="597.75" y1="329" x2="597.75" y2="332.4" stroke="#222" stroke-width="1"/>
<text x="597.75" y="343.6" font-size="8.4" fill="#111" text-anchor="middle" >-80</text>
<line x1="622.40" y1="329" x2="622.40" y2="332.4" stroke="#222" stroke-width="1"/>
<text x="622.4" y="343.6" font-size="8.4" fill="#111" text-anchor="middle" >-60</text>
<line x1="647.05" y1="329" x2="647.05" y2="332.4" stroke="#222" stroke-width="1"/>
<text x="647.05" y="343.6" font-size="8.4" fill="#111" text-anchor="middle" >-40</text>
<text x="569" y="283.6" font-size="9.5" fill="#111" text-anchor="start" >m = 0.1845 ± 0.01</text>
<text x="569" y="295" font-size="9.5" fill="#111" text-anchor="start" >(5.42 mV per ΔF/F<tspan font-size="6" dy="1.8">o</tspan></text>
<text x="569" y="306.6" font-size="9.5" fill="#111" text-anchor="start" >percent</text>
<text x="563.6" y="393" font-size="9.5" fill="#111" text-anchor="start" >Membrane voltage (mV)</text>
<text x="0" y="0" font-size="9.5" fill="#111" text-anchor="middle" transform="translate(543.4,339) rotate(-90)">-ΔF/F<tspan font-size="6" dy="1.8">o</tspan><tspan dy="-1.8"> (%)</tspan></text>
<path d="M573.10,382.50 L622.40,329.00 L659.38,296.37" fill="none" stroke="#f06a44" stroke-width="0.9"/>
<circle cx="573.10" cy="382.50" r="0.9" fill="#c9451f"/>
<circle cx="585.42" cy="369.12" r="0.9" fill="#c9451f"/>
<circle cx="597.75" cy="355.75" r="0.9" fill="#c9451f"/>
<circle cx="610.07" cy="342.38" r="0.9" fill="#c9451f"/>
<circle cx="634.73" cy="318.12" r="0.9" fill="#c9451f"/>
<circle cx="647.05" cy="307.24" r="0.9" fill="#c9451f"/>
<circle cx="659.38" cy="296.37" r="0.9" fill="#c9451f"/>
<path d="M573.10,380.36 L622.40,329.00 L659.38,297.97" fill="none" stroke="#f06a44" stroke-width="0.9"/>
<circle cx="573.10" cy="380.36" r="0.9" fill="#c9451f"/>
<circle cx="585.42" cy="367.52" r="0.9" fill="#c9451f"/>
<circle cx="597.75" cy="354.68" r="0.9" fill="#c9451f"/>
<circle cx="610.07" cy="341.84" r="0.9" fill="#c9451f"/>
<circle cx="634.73" cy="318.66" r="0.9" fill="#c9451f"/>
<circle cx="647.05" cy="308.31" r="0.9" fill="#c9451f"/>
<circle cx="659.38" cy="297.97" r="0.9" fill="#c9451f"/>
<path d="M573.10,378.22 L622.40,329.00 L659.38,303.86" fill="none" stroke="#f06a44" stroke-width="0.9"/>
<circle cx="573.10" cy="378.22" r="0.9" fill="#c9451f"/>
<circle cx="585.42" cy="365.91" r="0.9" fill="#c9451f"/>
<circle cx="597.75" cy="353.61" r="0.9" fill="#c9451f"/>
<circle cx="610.07" cy="341.31" r="0.9" fill="#c9451f"/>
<circle cx="634.73" cy="320.62" r="0.9" fill="#c9451f"/>
<circle cx="647.05" cy="312.24" r="0.9" fill="#c9451f"/>
<circle cx="659.38" cy="303.86" r="0.9" fill="#c9451f"/>
<path d="M573.10,354.14 L622.40,329.00 L659.38,313.49" fill="none" stroke="#f06a44" stroke-width="0.9"/>
<circle cx="573.10" cy="354.14" r="0.9" fill="#c9451f"/>
<circle cx="585.42" cy="347.86" r="0.9" fill="#c9451f"/>
<circle cx="597.75" cy="341.57" r="0.9" fill="#c9451f"/>
<circle cx="610.07" cy="335.29" r="0.9" fill="#c9451f"/>
<circle cx="634.73" cy="323.83" r="0.9" fill="#c9451f"/>
<circle cx="647.05" cy="318.66" r="0.9" fill="#c9451f"/>
<circle cx="659.38" cy="313.49" r="0.9" fill="#c9451f"/>
<path d="M573.10,375.01 L622.40,329.00 L659.38,310.27" fill="none" stroke="#f06a44" stroke-width="0.9"/>
<circle cx="573.10" cy="375.01" r="0.9" fill="#c9451f"/>
<circle cx="585.42" cy="363.51" r="0.9" fill="#c9451f"/>
<circle cx="597.75" cy="352.00" r="0.9" fill="#c9451f"/>
<circle cx="610.07" cy="340.50" r="0.9" fill="#c9451f"/>
<circle cx="634.73" cy="322.76" r="0.9" fill="#c9451f"/>
<circle cx="647.05" cy="316.52" r="0.9" fill="#c9451f"/>
<circle cx="659.38" cy="310.27" r="0.9" fill="#c9451f"/>
<path d="M573.10,369.66 L622.40,329.00 L659.38,300.64" fill="none" stroke="#222" stroke-width="1"/>
<path d="M573.10,364.31 V375.01 M571.90,364.31 H574.30 M571.90,375.01 H574.30" stroke="#333" stroke-width="0.6" fill="none"/>
<circle cx="573.10" cy="369.66" r="1.5" fill="#222"/>
<path d="M585.42,356.29 V362.70 M584.22,356.29 H586.62 M584.22,362.70 H586.62" stroke="#333" stroke-width="0.6" fill="none"/>
<circle cx="585.42" cy="359.50" r="1.5" fill="#222"/>
<path d="M597.75,347.46 V351.20 M596.55,347.46 H598.95 M596.55,351.20 H598.95" stroke="#333" stroke-width="0.6" fill="none"/>
<circle cx="597.75" cy="349.33" r="1.5" fill="#222"/>
<path d="M610.07,338.10 V340.24 M608.87,338.10 H611.27 M608.87,340.24 H611.27" stroke="#333" stroke-width="0.6" fill="none"/>
<circle cx="610.07" cy="339.17" r="1.5" fill="#222"/>
<path d="M634.73,318.75 V320.35 M633.52,318.75 H635.93 M633.52,320.35 H635.93" stroke="#333" stroke-width="0.6" fill="none"/>
<circle cx="634.73" cy="319.55" r="1.5" fill="#222"/>
<path d="M647.05,308.76 V311.43 M645.85,308.76 H648.25 M645.85,311.43 H648.25" stroke="#333" stroke-width="0.6" fill="none"/>
<circle cx="647.05" cy="310.10" r="1.5" fill="#222"/>
<path d="M659.38,298.77 V302.52 M658.17,298.77 H660.58 M658.17,302.52 H660.58" stroke="#333" stroke-width="0.6" fill="none"/>
<circle cx="659.38" cy="300.64" r="1.5" fill="#222"/>
<text x="0" y="415" font-size="18" fill="#000">k</text>
<rect x="29.9" y="428" width="1.8" height="6" fill="#f05a28"/>
<rect x="31.7" y="428" width="1.5" height="6" fill="#f7a21b"/>
<rect x="33.2" y="428" width="1.2" height="6" fill="#f9d21a"/>
<rect x="34.4" y="428" width="1.6" height="6" fill="#3fa9e0"/>
<path d="M29.6,448 L31.2,448 L32.9,453.5 Z" fill="#f05a28"/><path d="M31.2,448 L33,448 L32.9,453.5 Z" fill="#f7a21b"/><path d="M33,448 L34.4,448 L32.9,453.5 Z" fill="#f9d21a"/><path d="M34.4,448 L36,448 L32.9,453.5 Z" fill="#3fa9e0"/>
<defs><linearGradient id="og2624332" x1="0" x2="1" y1="0" y2="0"><stop offset="0" stop-color="#4a4a4a"/><stop offset="0.5" stop-color="#c8c8c8"/><stop offset="1" stop-color="#4e4e4e"/></linearGradient></defs>
<path d="M26.2,433.2 H38.9 V442.08 Q38.9,443.264 37.376,443.264 H27.724 Q26.2,443.264 26.2,442.08 Z" fill="url(#og2624332)" stroke="#2a2a2a" stroke-width="0.6"/>
<path d="M27.977999999999998,443.264 H37.122 V446.52 Q37.122,448.0 35.089999999999996,448.0 H30.009999999999998 Q27.977999999999998,448.0 27.977999999999998,446.52 Z" fill="url(#og2624332)" stroke="#2a2a2a" stroke-width="0.6"/>
<path d="M36.62,456.16 L51.67,445.82 M36.38,455.84 L49.93,443.63" fill="none" stroke="#333" stroke-width="0.55"/>
<path d="M39.62,453.54 L52.62,443.29" fill="none" stroke="#555" stroke-width="0.4"/>
<path d="M50.55,447.08 L59.70,440.51 L56.98,437.05 L48.45,444.42 Z" fill="#e8e8e8" stroke="#333" stroke-width="0.55"/>
<path d="M53.80,444.78 L54.87,444.00 L52.45,440.94 L51.44,441.80 Z" fill="#333"/>
<path d="M58.34,438.78 L62.50,435.50" fill="none" stroke="#222" stroke-width="0.7"/>
<path d="M58.81,435.10 L61.20,436.52 L65.10,438.80" fill="none" stroke="#222" stroke-width="0.6"/>
<circle cx="59.90" cy="437.55" r="0.9" fill="#222"/>
<path d="M31.299999999999997,456.3 L27.299999999999997,451.3 M28.299999999999997,452.8 L23.299999999999997,453.3 M27.299999999999997,451.3 L25.299999999999997,447.3 M31.299999999999997,462.3 L25.299999999999997,467.3 M27.299999999999997,465.8 L23.299999999999997,465.3 M25.299999999999997,467.3 L24.299999999999997,470.3 M34.3,463.3 C35.3,468.3 39.3,471.3 41.3,472.3 M36.3,461.3 C41.3,462.3 43.3,464.3 45.3,466.3 M42.3,463.8 L46.3,462.3 M44.3,465.3 L46.3,468.3" fill="none" stroke="#222" stroke-width="0.6"/>
<path d="M33.3,454.57 C38.295,457.365 37.555,463.6 33.3,463.6 C29.044999999999998,463.6 28.304999999999996,457.365 33.3,454.57 Z" fill="#ef5a24" stroke="#c2410c" stroke-width="0.4"/>
<text x="83.4" y="433" font-size="8.3" fill="#111" text-anchor="end" >0 min</text>
<text x="83.4" y="458.4" font-size="8.3" fill="#111" text-anchor="end" >15 min</text>
<text x="83.4" y="482.8" font-size="8.3" fill="#111" text-anchor="end" >30 min</text>
<text x="83.4" y="506.6" font-size="8.3" fill="#111" text-anchor="end" >45 min</text>
<rect x="86.4" y="421" width="23.6" height="92" fill="#ddeef9"/>
<path d="M75.00,424.03 L75.70,424.83 L76.40,424.68 L77.10,425.11 L77.80,424.10 L78.50,424.88 L79.20,424.63 L79.90,423.69 L80.60,425.11 L81.30,423.77 L82.00,423.06 L82.70,423.71 L83.40,423.43 L84.10,423.66 L84.80,424.71 L85.50,423.99 L86.20,425.36 L86.60,441.00 L87.20,440.88 L87.90,440.96 L88.60,440.13 L89.30,438.54 L90.00,439.40 L90.70,439.27 L91.40,439.33 L92.10,437.59 L92.80,438.82 L93.50,438.71 L94.20,437.13 L94.90,437.73 L95.60,438.15 L96.30,435.98 L97.00,437.32 L97.70,435.46 L98.40,436.86 L99.10,437.62 L99.80,436.30 L100.50,436.81 L101.20,435.23 L101.90,435.83 L102.60,435.86 L103.30,436.67 L104.00,435.88 L104.70,436.52 L105.40,435.90 L106.10,435.44 L106.80,435.95 L107.50,435.99 L108.20,435.60 L108.90,436.27 L109.60,435.19 L110.60,426.00 L111.20,424.33 L111.90,424.68 L112.60,423.62 L113.30,424.12 L114.00,424.09 L114.70,422.84 L115.40,425.50 L116.10,423.83 L116.80,424.61" fill="none" stroke="#f06a3a" stroke-width="0.8"/>
<path d="M75.00,445.08 L75.70,448.32 L76.40,446.98 L77.10,446.57 L77.80,447.19 L78.50,448.02 L79.20,445.93 L79.90,448.05 L80.60,446.23 L81.30,448.12 L82.00,447.53 L82.70,448.19 L83.40,447.88 L84.10,446.61 L84.80,446.97 L85.50,447.71 L86.20,447.01 L86.60,464.00 L87.20,463.89 L87.90,462.71 L88.60,463.43 L89.30,464.25 L90.00,462.88 L90.70,462.12 L91.40,460.80 L92.10,461.12 L92.80,461.79 L93.50,460.71 L94.20,460.96 L94.90,460.05 L95.60,459.86 L96.30,460.07 L97.00,459.48 L97.70,459.26 L98.40,459.68 L99.10,459.22 L99.80,457.92 L100.50,459.64 L101.20,460.10 L101.90,459.20 L102.60,458.64 L103.30,458.13 L104.00,458.28 L104.70,458.64 L105.40,459.31 L106.10,458.67 L106.80,458.49 L107.50,457.86 L108.20,458.58 L108.90,457.97 L109.60,459.65 L110.60,450.00 L111.20,448.15 L111.90,447.74 L112.60,449.37 L113.30,449.38 L114.00,447.89 L114.70,446.71 L115.40,448.90 L116.10,447.47 L116.80,448.46" fill="none" stroke="#f06a3a" stroke-width="0.8"/>
<path d="M75.00,469.68 L75.70,470.16 L76.40,470.25 L77.10,469.78 L77.80,469.63 L78.50,471.23 L79.20,470.17 L79.90,471.45 L80.60,470.97 L81.30,470.61 L82.00,470.93 L82.70,470.24 L83.40,470.40 L84.10,470.72 L84.80,470.66 L85.50,469.98 L86.20,471.13 L86.60,486.00 L87.20,486.15 L87.90,486.54 L88.60,484.87 L89.30,486.47 L90.00,484.73 L90.70,485.07 L91.40,484.52 L92.10,482.97 L92.80,483.58 L93.50,484.33 L94.20,484.34 L94.90,483.17 L95.60,484.16 L96.30,483.78 L97.00,482.59 L97.70,483.74 L98.40,482.77 L99.10,481.78 L99.80,482.98 L100.50,482.58 L101.20,482.18 L101.90,481.61 L102.60,481.99 L103.30,483.04 L104.00,481.88 L104.70,481.44 L105.40,481.50 L106.10,482.78 L106.80,483.11 L107.50,481.34 L108.20,481.64 L108.90,482.44 L109.60,482.61 L110.60,471.00 L111.20,468.54 L111.90,469.29 L112.60,470.44 L113.30,468.44 L114.00,468.69 L114.70,469.08 L115.40,469.40 L116.10,468.96 L116.80,467.97" fill="none" stroke="#f06a3a" stroke-width="0.8"/>
<path d="M75.00,493.96 L75.70,494.63 L76.40,493.19 L77.10,493.33 L77.80,493.49 L78.50,495.28 L79.20,493.82 L79.90,493.23 L80.60,494.98 L81.30,494.76 L82.00,493.74 L82.70,494.22 L83.40,494.13 L84.10,494.47 L84.80,493.90 L85.50,494.15 L86.20,493.57 L86.60,512.60 L87.20,512.66 L87.90,512.47 L88.60,511.78 L89.30,511.04 L90.00,509.84 L90.70,510.77 L91.40,510.20 L92.10,509.99 L92.80,510.87 L93.50,509.63 L94.20,509.23 L94.90,509.35 L95.60,507.90 L96.30,508.61 L97.00,508.53 L97.70,508.81 L98.40,508.65 L99.10,508.90 L99.80,508.22 L100.50,507.83 L101.20,508.06 L101.90,507.01 L102.60,507.30 L103.30,507.58 L104.00,508.42 L104.70,507.82 L105.40,506.86 L106.10,508.06 L106.80,507.88 L107.50,507.64 L108.20,508.16 L108.90,507.52 L109.60,508.10 L110.60,497.00 L111.20,495.36 L111.90,494.34 L112.60,495.28 L113.30,495.66 L114.00,496.68 L114.70,494.63 L115.40,495.05 L116.10,493.80 L116.80,494.36" fill="none" stroke="#f06a3a" stroke-width="0.8"/>
<text x="117" y="437" font-size="13" fill="#111" text-anchor="start" >}</text>
<text x="125" y="428" font-size="8.6" fill="#111" text-anchor="start" >Est.</text>
<text x="125" y="437.2" font-size="8.6" fill="#111" text-anchor="start" >-DF<tspan font-size="5.2" dy="1.2">GABAA</tspan></text>
<path d="M113.6,517 V534.6 H126" fill="none" stroke="#222" stroke-width="0.8"/>
<text x="116" y="521" font-size="8.2" fill="#111" text-anchor="start" >-1% ΔF/F<tspan font-size="5.5" dy="1.5">o</tspan></text>
<text x="116.6" y="531" font-size="8.2" fill="#111" text-anchor="start" >1 s</text>
<g opacity="0.9">
<rect x="13" y="499.6" width="40" height="6.6" fill="#e9f0f9"/>
<line x1="13" y1="500.1" x2="53" y2="500.1" stroke="#9cb0d0" stroke-width="1.0"/>
<line x1="13" y1="505.70000000000005" x2="53" y2="505.70000000000005" stroke="#9cb0d0" stroke-width="1.0"/>
<line x1="13" y1="502.90000000000003" x2="53" y2="502.90000000000003" stroke="#f8fbff" stroke-width="1.2"/>
</g>
<rect x="19" y="494.8" width="12" height="16.4" rx="5.70" ry="5.08" fill="#8cc8ee" stroke="#70b0dc" stroke-width="0.4"/>
<rect x="23.68" y="494.923" width="3.0" height="16.154" fill="#5f9ed4"/>
<line x1="23.5" y1="495.21" x2="23.5" y2="510.79" stroke="#b9dcf4" stroke-width="0.48"/>
<line x1="25" y1="491.98" x2="25" y2="514.02" stroke="#1a9670" stroke-width="1.1"/>
<path d="M23.2675,492.475 L25,490 L26.7325,492.475 Z" fill="#1a9670"/>
<path d="M23.2675,513.525 L25,516 L26.7325,513.525 Z" fill="#1a9670"/>
<g transform="translate(33,494.5) scale(0.4565,0.6333)">
<path d="M4,5 C4,2.5 7,1.5 9.5,3 C11,0.5 16,0 19,3.5 M9,2 C9.5,-0.5 13,-2.2 16,-1 C18,-2.5 21,-1.5 21,0.5 C21.5,2 21.5,3 21,4" fill="none" stroke="#3a3a3a" stroke-width="0.62"/>
<rect x="0" y="4" width="5.2" height="24" rx="2.6" ry="1.4" fill="#8d8d8d" stroke="#5e5e5e" stroke-width="0.46"/>
<rect x="0.9359999999999999" y="5.5" width="1.4560000000000002" height="21" fill="#a9a9a9"/>
<ellipse cx="2.6" cy="5.3" rx="2.4" ry="1.2" fill="#b8b8b8" stroke="#5e5e5e" stroke-width="0.39"/>
<rect x="8" y="1" width="5.2" height="24" rx="2.6" ry="1.4" fill="#8d8d8d" stroke="#5e5e5e" stroke-width="0.46"/>
<rect x="8.936" y="2.5" width="1.4560000000000002" height="21" fill="#a9a9a9"/>
<ellipse cx="10.6" cy="2.3" rx="2.4" ry="1.2" fill="#b8b8b8" stroke="#5e5e5e" stroke-width="0.39"/>
<rect x="17" y="3" width="5.2" height="24" rx="2.6" ry="1.4" fill="#8d8d8d" stroke="#5e5e5e" stroke-width="0.46"/>
<rect x="17.936" y="4.5" width="1.4560000000000002" height="21" fill="#a9a9a9"/>
<ellipse cx="19.6" cy="4.3" rx="2.4" ry="1.2" fill="#b8b8b8" stroke="#5e5e5e" stroke-width="0.39"/>
<rect x="3.6" y="6.5" width="5.8" height="23.5" rx="2.9" ry="1.4" fill="#8d8d8d" stroke="#5e5e5e" stroke-width="0.46"/>
<rect x="4.644" y="8.0" width="1.624" height="20.5" fill="#a9a9a9"/>
<ellipse cx="6.5" cy="7.8" rx="2.6999999999999997" ry="1.2" fill="#b8b8b8" stroke="#5e5e5e" stroke-width="0.39"/>
<rect x="11.6" y="5.5" width="5.8" height="24.5" rx="2.9" ry="1.4" fill="#8d8d8d" stroke="#5e5e5e" stroke-width="0.46"/>
<rect x="12.644" y="7.0" width="1.624" height="21.5" fill="#a9a9a9"/>
<ellipse cx="14.5" cy="6.8" rx="2.6999999999999997" ry="1.2" fill="#b8b8b8" stroke="#5e5e5e" stroke-width="0.39"/>
<path d="M6.3,13.6 L11.6,21.6 L16.9,13.6" fill="none" stroke="#1c1c1c" stroke-width="3.62" stroke-linejoin="miter" stroke-linecap="butt"/>
<path d="M6.3,13.6 L11.6,21.6 L16.9,13.6" fill="none" stroke="#f5d80c" stroke-width="1.88" stroke-linejoin="miter"/>
</g>
<circle cx="47.6" cy="514" r="9" fill="#fcdcd5"/>
<circle cx="47.6" cy="514" r="5.5" fill="#f4ab9c"/>
<circle cx="47.6" cy="514" r="3" fill="#e9552b" stroke="#b8452a" stroke-width="0.50"/>
<path d="M46.70,514.90 L48.50,513.10" stroke="#f8c0a8" stroke-width="0.90"/>
<text x="163.5" y="414.6" font-size="18" fill="#000">l</text>
<rect x="202.4" y="422.6" width="93.6" height="92.39999999999998" fill="#e6f3ee"/>
<line x1="202.4" y1="422.6" x2="296" y2="422.6" stroke="#333" stroke-width="0.9" stroke-dasharray="1 1.2"/>
<path d="M202.4,422.1 V515 H296 V422.1" fill="none" stroke="#222" stroke-width="1"/>
<line x1="199.4" y1="422.60" x2="202.4" y2="422.60" stroke="#222" stroke-width="1"/>
<text x="196.20000000000002" y="425.70000000000005" font-size="8.4" fill="#111" text-anchor="end" >0</text>
<line x1="199.4" y1="453.60" x2="202.4" y2="453.60" stroke="#222" stroke-width="1"/>
<text x="196.20000000000002" y="456.70000000000005" font-size="8.4" fill="#111" text-anchor="end" >-0.5</text>
<line x1="199.4" y1="484.60" x2="202.4" y2="484.60" stroke="#222" stroke-width="1"/>
<text x="196.20000000000002" y="487.70000000000005" font-size="8.4" fill="#111" text-anchor="end" >-1.0</text>
<line x1="199.4" y1="515.60" x2="202.4" y2="515.60" stroke="#222" stroke-width="1"/>
<text x="196.20000000000002" y="518.7" font-size="8.4" fill="#111" text-anchor="end" >-1.5</text>
<line x1="296" y1="422.60" x2="299" y2="422.60" stroke="#222" stroke-width="1"/>
<text x="301" y="425.8" font-size="9" fill="#111" text-anchor="start" >0</text>
<line x1="296" y1="445.45" x2="299" y2="445.45" stroke="#222" stroke-width="1"/>
<text x="301" y="448.65000000000003" font-size="9" fill="#111" text-anchor="start" >-2</text>
<line x1="296" y1="468.30" x2="299" y2="468.30" stroke="#222" stroke-width="1"/>
<text x="301" y="471.5" font-size="9" fill="#111" text-anchor="start" >-4</text>
<line x1="296" y1="491.15" x2="299" y2="491.15" stroke="#222" stroke-width="1"/>
<text x="301" y="494.34999999999997" font-size="9" fill="#111" text-anchor="start" >-6</text>
<line x1="296" y1="514.00" x2="299" y2="514.00" stroke="#222" stroke-width="1"/>
<text x="301" y="517.2" font-size="9" fill="#111" text-anchor="start" >-8</text>
<line x1="216.6" y1="515" x2="216.6" y2="518" stroke="#222" stroke-width="1"/>
<text x="216.6" y="528" font-size="8.6" fill="#111" text-anchor="middle" >0</text>
<line x1="238" y1="515" x2="238" y2="518" stroke="#222" stroke-width="1"/>
<text x="238" y="528" font-size="8.6" fill="#111" text-anchor="middle" >15</text>
<line x1="259.6" y1="515" x2="259.6" y2="518" stroke="#222" stroke-width="1"/>
<text x="259.6" y="528" font-size="8.6" fill="#111" text-anchor="middle" >30</text>
<line x1="281" y1="515" x2="281" y2="518" stroke="#222" stroke-width="1"/>
<text x="281" y="528" font-size="8.6" fill="#111" text-anchor="middle" >45</text>
<text x="249" y="538.4" font-size="9.5" fill="#111" text-anchor="middle" >Time (min)</text>
<text x="0" y="0" font-size="9.5" fill="#111" text-anchor="middle" transform="translate(175.2,469) rotate(-90)">-ΔF/F<tspan font-size="6" dy="1.8">o</tspan><tspan dy="-1.8"> (%)</tspan></text>
<text x="0" y="0" font-size="9.5" fill="#111" text-anchor="middle" transform="translate(317,470) rotate(90)">Estimated -DF<tspan font-size="6" dy="1.5">GABAA</tspan><tspan dy="-1.5"> (mV)</tspan></text>
<text x="0" y="0" font-size="10" fill="#5ebf9d" text-anchor="middle" transform="translate(211.4,436.4) rotate(-90)">Influx</text>
<text x="248.4" y="433" font-size="11" fill="#111" text-anchor="middle" >ns</text>
<line x1="216" y1="436.4" x2="281.6" y2="436.4" stroke="#111" stroke-width="1"/>
<line x1="216.6" y1="443.4" x2="238" y2="462.6" stroke="#b0b0b0" stroke-width="0.6"/>
<line x1="216.6" y1="450" x2="238" y2="477.4" stroke="#b0b0b0" stroke-width="0.6"/>
<line x1="216.6" y1="456.6" x2="238" y2="447.4" stroke="#b0b0b0" stroke-width="0.6"/>
<line x1="216.6" y1="458.6" x2="238" y2="500.6" stroke="#b0b0b0" stroke-width="0.6"/>
<line x1="216.6" y1="470" x2="238" y2="488.6" stroke="#b0b0b0" stroke-width="0.6"/>
<line x1="216.6" y1="474" x2="238" y2="493" stroke="#b0b0b0" stroke-width="0.6"/>
<line x1="216.6" y1="476" x2="238" y2="486" stroke="#b0b0b0" stroke-width="0.6"/>
<line x1="216.6" y1="481" x2="238" y2="446" stroke="#b0b0b0" stroke-width="0.6"/>
<line x1="216.6" y1="488" x2="238" y2="484" stroke="#b0b0b0" stroke-width="0.6"/>
<line x1="216.6" y1="495.4" x2="238" y2="458" stroke="#b0b0b0" stroke-width="0.6"/>
<line x1="216.6" y1="504" x2="238" y2="460" stroke="#b0b0b0" stroke-width="0.6"/>
<line x1="216.6" y1="509.6" x2="238" y2="455.4" stroke="#b0b0b0" stroke-width="0.6"/>
<line x1="216.6" y1="484.2" x2="238" y2="468" stroke="#b0b0b0" stroke-width="0.6"/>
<line x1="238" y1="446" x2="259.6" y2="485.4" stroke="#b0b0b0" stroke-width="0.6"/>
<line x1="238" y1="447.4" x2="259.6" y2="461.4" stroke="#b0b0b0" stroke-width="0.6"/>
<line x1="238" y1="453.4" x2="259.6" y2="492" stroke="#b0b0b0" stroke-width="0.6"/>
<line x1="238" y1="455.4" x2="259.6" y2="504" stroke="#b0b0b0" stroke-width="0.6"/>
<line x1="238" y1="458" x2="259.6" y2="509" stroke="#b0b0b0" stroke-width="0.6"/>
<line x1="238" y1="460" x2="259.6" y2="498" stroke="#b0b0b0" stroke-width="0.6"/>
<line x1="238" y1="462.6" x2="259.6" y2="506.6" stroke="#b0b0b0" stroke-width="0.6"/>
<line x1="238" y1="465" x2="259.6" y2="447" stroke="#b0b0b0" stroke-width="0.6"/>
<line x1="238" y1="468" x2="259.6" y2="445.4" stroke="#b0b0b0" stroke-width="0.6"/>
<line x1="238" y1="477.4" x2="259.6" y2="482" stroke="#b0b0b0" stroke-width="0.6"/>
<line x1="238" y1="484" x2="259.6" y2="454" stroke="#b0b0b0" stroke-width="0.6"/>
<line x1="238" y1="486" x2="259.6" y2="488.6" stroke="#b0b0b0" stroke-width="0.6"/>
<line x1="259.6" y1="445.4" x2="281" y2="448" stroke="#b0b0b0" stroke-width="0.6"/>
<line x1="259.6" y1="447" x2="281" y2="442.6" stroke="#b0b0b0" stroke-width="0.6"/>
<line x1="259.6" y1="454" x2="281" y2="503.4" stroke="#b0b0b0" stroke-width="0.6"/>
<line x1="259.6" y1="461.4" x2="281" y2="492.6" stroke="#b0b0b0" stroke-width="0.6"/>
<line x1="259.6" y1="485.4" x2="281" y2="495" stroke="#b0b0b0" stroke-width="0.6"/>
<line x1="259.6" y1="488.6" x2="281" y2="507" stroke="#b0b0b0" stroke-width="0.6"/>
<line x1="259.6" y1="492" x2="281" y2="458" stroke="#b0b0b0" stroke-width="0.6"/>
<line x1="259.6" y1="498" x2="281" y2="487" stroke="#b0b0b0" stroke-width="0.6"/>
<line x1="259.6" y1="504" x2="281" y2="499" stroke="#b0b0b0" stroke-width="0.6"/>
<line x1="259.6" y1="506.6" x2="281" y2="462" stroke="#b0b0b0" stroke-width="0.6"/>
<line x1="259.6" y1="509" x2="281" y2="490" stroke="#b0b0b0" stroke-width="0.6"/>
<line x1="259.6" y1="482" x2="281" y2="450" stroke="#b0b0b0" stroke-width="0.6"/>
<circle cx="216.6" cy="443.4" r="2.1" fill="#9c9c9c" stroke="#777" stroke-width="0.45"/>
<circle cx="216.6" cy="450" r="2.1" fill="#9c9c9c" stroke="#777" stroke-width="0.45"/>
<circle cx="216.6" cy="456.6" r="2.1" fill="#9c9c9c" stroke="#777" stroke-width="0.45"/>
<circle cx="216.6" cy="458.6" r="2.1" fill="#9c9c9c" stroke="#777" stroke-width="0.45"/>
<circle cx="216.6" cy="470" r="2.1" fill="#9c9c9c" stroke="#777" stroke-width="0.45"/>
<circle cx="216.6" cy="474" r="2.1" fill="#9c9c9c" stroke="#777" stroke-width="0.45"/>
<circle cx="216.6" cy="476" r="2.1" fill="#9c9c9c" stroke="#777" stroke-width="0.45"/>
<circle cx="216.6" cy="481" r="2.1" fill="#9c9c9c" stroke="#777" stroke-width="0.45"/>
<circle cx="216.6" cy="488" r="2.1" fill="#9c9c9c" stroke="#777" stroke-width="0.45"/>
<circle cx="216.6" cy="495.4" r="2.1" fill="#9c9c9c" stroke="#777" stroke-width="0.45"/>
<circle cx="216.6" cy="504" r="2.1" fill="#9c9c9c" stroke="#777" stroke-width="0.45"/>
<circle cx="216.6" cy="509.6" r="2.1" fill="#9c9c9c" stroke="#777" stroke-width="0.45"/>
<circle cx="216.6" cy="484.2" r="2.1" fill="#9c9c9c" stroke="#777" stroke-width="0.45"/>
<circle cx="238" cy="446" r="2.1" fill="#9c9c9c" stroke="#777" stroke-width="0.45"/>
<circle cx="238" cy="447.4" r="2.1" fill="#9c9c9c" stroke="#777" stroke-width="0.45"/>
<circle cx="238" cy="453.4" r="2.1" fill="#9c9c9c" stroke="#777" stroke-width="0.45"/>
<circle cx="238" cy="455.4" r="2.1" fill="#9c9c9c" stroke="#777" stroke-width="0.45"/>
<circle cx="238" cy="458" r="2.1" fill="#9c9c9c" stroke="#777" stroke-width="0.45"/>
<circle cx="238" cy="460" r="2.1" fill="#9c9c9c" stroke="#777" stroke-width="0.45"/>
<circle cx="238" cy="462.6" r="2.1" fill="#9c9c9c" stroke="#777" stroke-width="0.45"/>
<circle cx="238" cy="465" r="2.1" fill="#9c9c9c" stroke="#777" stroke-width="0.45"/>
<circle cx="238" cy="468" r="2.1" fill="#9c9c9c" stroke="#777" stroke-width="0.45"/>
<circle cx="238" cy="477.4" r="2.1" fill="#9c9c9c" stroke="#777" stroke-width="0.45"/>
<circle cx="238" cy="484" r="2.1" fill="#9c9c9c" stroke="#777" stroke-width="0.45"/>
<circle cx="238" cy="486" r="2.1" fill="#9c9c9c" stroke="#777" stroke-width="0.45"/>
<circle cx="238" cy="488.6" r="2.1" fill="#9c9c9c" stroke="#777" stroke-width="0.45"/>
<circle cx="238" cy="493" r="2.1" fill="#9c9c9c" stroke="#777" stroke-width="0.45"/>
<circle cx="238" cy="500.6" r="2.1" fill="#9c9c9c" stroke="#777" stroke-width="0.45"/>
<circle cx="259.6" cy="445.4" r="2.1" fill="#9c9c9c" stroke="#777" stroke-width="0.45"/>
<circle cx="259.6" cy="447" r="2.1" fill="#9c9c9c" stroke="#777" stroke-width="0.45"/>
<circle cx="259.6" cy="454" r="2.1" fill="#9c9c9c" stroke="#777" stroke-width="0.45"/>
<circle cx="259.6" cy="461.4" r="2.1" fill="#9c9c9c" stroke="#777" stroke-width="0.45"/>
<circle cx="259.6" cy="485.4" r="2.1" fill="#9c9c9c" stroke="#777" stroke-width="0.45"/>
<circle cx="259.6" cy="488.6" r="2.1" fill="#9c9c9c" stroke="#777" stroke-width="0.45"/>
<circle cx="259.6" cy="492" r="2.1" fill="#9c9c9c" stroke="#777" stroke-width="0.45"/>
<circle cx="259.6" cy="498" r="2.1" fill="#9c9c9c" stroke="#777" stroke-width="0.45"/>
<circle cx="259.6" cy="504" r="2.1" fill="#9c9c9c" stroke="#777" stroke-width="0.45"/>
<circle cx="259.6" cy="506.6" r="2.1" fill="#9c9c9c" stroke="#777" stroke-width="0.45"/>
<circle cx="259.6" cy="509" r="2.1" fill="#9c9c9c" stroke="#777" stroke-width="0.45"/>
<circle cx="259.6" cy="482" r="2.1" fill="#9c9c9c" stroke="#777" stroke-width="0.45"/>
<circle cx="281" cy="442.6" r="2.1" fill="#9c9c9c" stroke="#777" stroke-width="0.45"/>
<circle cx="281" cy="448" r="2.1" fill="#9c9c9c" stroke="#777" stroke-width="0.45"/>
<circle cx="281" cy="450" r="2.1" fill="#9c9c9c" stroke="#777" stroke-width="0.45"/>
<circle cx="281" cy="458" r="2.1" fill="#9c9c9c" stroke="#777" stroke-width="0.45"/>
<circle cx="281" cy="462" r="2.1" fill="#9c9c9c" stroke="#777" stroke-width="0.45"/>
<circle cx="281" cy="487" r="2.1" fill="#9c9c9c" stroke="#777" stroke-width="0.45"/>
<circle cx="281" cy="490" r="2.1" fill="#9c9c9c" stroke="#777" stroke-width="0.45"/>
<circle cx="281" cy="492.6" r="2.1" fill="#9c9c9c" stroke="#777" stroke-width="0.45"/>
<circle cx="281" cy="495" r="2.1" fill="#9c9c9c" stroke="#777" stroke-width="0.45"/>
<circle cx="281" cy="499" r="2.1" fill="#9c9c9c" stroke="#777" stroke-width="0.45"/>
<circle cx="281" cy="503.4" r="2.1" fill="#9c9c9c" stroke="#777" stroke-width="0.45"/>
<circle cx="281" cy="507" r="2.1" fill="#9c9c9c" stroke="#777" stroke-width="0.45"/>
<path d="M216.6,475.4 L238,474 L259.6,480 L281,479.4" fill="none" stroke="#222" stroke-width="1.1"/>
<path d="M216.6,469.9 V480.9 M214.6,469.9 H218.6 M214.6,480.9 H218.6" stroke="#222" stroke-width="0.9" fill="none"/>
<circle cx="216.6" cy="475.4" r="2.6" fill="#222"/>
<path d="M238,468 V480 M236,468 H240 M236,480 H240" stroke="#222" stroke-width="0.9" fill="none"/>
<circle cx="238" cy="474" r="2.6" fill="#222"/>
<path d="M259.6,473 V487 M257.6,473 H261.6 M257.6,487 H261.6" stroke="#222" stroke-width="0.9" fill="none"/>
<circle cx="259.6" cy="480" r="2.6" fill="#222"/>
<path d="M281,472.9 V485.9 M279,472.9 H283 M279,485.9 H283" stroke="#222" stroke-width="0.9" fill="none"/>
<circle cx="281" cy="479.4" r="2.6" fill="#222"/>
<text x="334" y="415" font-size="18" fill="#000">m</text>
<line x1="372" y1="415" x2="372" y2="512" stroke="#222" stroke-width="1"/>
<line x1="369" y1="422.40" x2="372" y2="422.40" stroke="#222" stroke-width="1"/>
<text x="369.4" y="425.4" font-size="8.0" fill="#111" text-anchor="end" >-20</text>
<line x1="369" y1="449.60" x2="372" y2="449.60" stroke="#222" stroke-width="1"/>
<text x="369.4" y="452.59999999999997" font-size="8.0" fill="#111" text-anchor="end" >-40</text>
<line x1="369" y1="476.80" x2="372" y2="476.80" stroke="#222" stroke-width="1"/>
<text x="369.4" y="479.8" font-size="8.0" fill="#111" text-anchor="end" >-60</text>
<line x1="369" y1="504.00" x2="372" y2="504.00" stroke="#222" stroke-width="1"/>
<text x="369.4" y="507.0" font-size="8.0" fill="#111" text-anchor="end" >-80</text>
<text x="0" y="0" font-size="9.5" fill="#111" text-anchor="middle" transform="translate(355.4,465) rotate(-90)">Voltage (mV)</text>
<rect x="384" y="421" width="31.8" height="93" fill="#ddeef9"/>
<rect x="454.4" y="421" width="32.4" height="93" fill="#ddeef9"/>
<path d="M372.50,441.78 L373.10,442.44 L373.70,443.00 L374.30,442.05 L374.90,442.57 L375.50,440.83 L376.10,441.98 L376.70,442.23 L377.30,442.22 L377.90,442.08 L378.50,442.53 L379.10,442.08 L379.70,441.57 L380.30,442.48 L380.90,442.02 L381.50,441.68 L382.10,442.16 L382.70,442.28 L383.30,442.50 L384.20,462.09 L384.80,462.04 L385.40,462.12 L386.00,462.19 L386.60,461.63 L387.20,462.77 L387.80,461.49 L388.40,461.65 L389.00,461.54 L389.60,461.89 L390.20,461.92 L390.80,461.64 L391.40,461.23 L392.00,461.60 L392.60,461.65 L393.20,461.36 L393.80,461.82 L394.40,461.75 L395.00,461.59 L395.60,461.35 L396.20,461.77 L396.80,460.94 L397.40,461.38 L398.00,461.51 L398.60,461.07 L399.20,461.52 L399.80,461.42 L400.40,461.32 L401.00,461.64 L401.60,460.86 L402.20,461.18 L402.80,461.59 L403.40,461.41 L404.00,460.70 L404.60,460.68 L405.20,460.79 L405.80,460.31 L406.40,461.16 L407.00,460.96 L407.60,460.34 L408.20,460.95 L408.80,460.41 L409.40,460.78 L410.00,460.67 L410.60,460.98 L411.20,461.41 L411.80,459.97 L412.40,460.26 L413.00,460.62 L413.60,460.92 L414.20,460.91 L414.80,460.65 L415.40,460.99 L416.00,461.93 L416.60,458.79 L417.20,455.00 L417.80,450.97 L418.40,449.30 L419.00,448.93 L419.60,447.70 L420.20,447.86 L420.80,446.30 L421.40,446.64 L422.00,445.68 L422.60,445.61 L423.20,444.55 L423.80,443.87 L424.40,443.46 L425.00,442.74 L425.60,442.77 L426.20,441.83 L426.80,441.44" fill="none" stroke="#1a1a1a" stroke-width="0.9"/>
<path d="M384.2,463.2 L415.6,461.1 L415.6,458.7 L384.2,460.2 Z" fill="#1a1a1a"/>
<path d="M372.50,463.10 L373.10,462.56 L373.70,462.69 L374.30,463.44 L374.90,462.72 L375.50,462.70 L376.10,462.89 L376.70,462.71 L377.30,463.04 L377.90,463.35 L378.50,463.26 L379.10,462.80 L379.70,462.78 L380.30,462.97 L380.90,462.57 L381.50,462.75 L382.10,463.64 L382.70,463.27 L383.30,463.04 L384.20,468.76 L384.80,469.43 L385.40,468.92 L386.00,469.90 L386.60,469.18 L387.20,469.08 L387.80,468.25 L388.40,468.90 L389.00,468.76 L389.60,468.94 L390.20,468.68 L390.80,468.06 L391.40,467.98 L392.00,468.28 L392.60,468.29 L393.20,468.80 L393.80,468.35 L394.40,468.51 L395.00,468.54 L395.60,468.34 L396.20,469.10 L396.80,468.75 L397.40,468.18 L398.00,468.39 L398.60,468.48 L399.20,468.13 L399.80,468.19 L400.40,468.24 L401.00,468.44 L401.60,468.48 L402.20,468.08 L402.80,467.93 L403.40,468.12 L404.00,467.55 L404.60,467.60 L405.20,467.19 L405.80,467.93 L406.40,467.94 L407.00,468.57 L407.60,468.12 L408.20,468.07 L408.80,468.00 L409.40,467.47 L410.00,467.30 L410.60,467.75 L411.20,467.26 L411.80,467.33 L412.40,468.32 L413.00,467.89 L413.60,467.63 L414.20,467.79 L414.80,467.52 L415.40,467.77 L416.00,468.60 L416.60,467.47 L417.20,466.23 L417.80,464.76 L418.40,464.41 L419.00,463.27 L419.60,463.10 L420.20,463.08 L420.80,462.43 L421.40,462.66 L422.00,462.58 L422.60,462.87 L423.20,463.46 L423.80,462.42 L424.40,462.73 L425.00,463.04 L425.60,463.28 L426.20,462.90 L426.80,463.21" fill="none" stroke="#1a1a1a" stroke-width="0.9"/>
<path d="M384.2,469.4 L415.6,467.7 L415.6,466.9 L384.2,468.4 Z" fill="#1a1a1a"/>
<path d="M372.50,475.94 L373.10,475.60 L373.70,476.67 L374.30,476.30 L374.90,475.36 L375.50,475.91 L376.10,475.99 L376.70,475.65 L377.30,475.81 L377.90,476.40 L378.50,476.59 L379.10,475.77 L379.70,476.44 L380.30,475.88 L380.90,475.72 L381.50,475.92 L382.10,475.57 L382.70,475.87 L383.30,476.05 L384.20,474.32 L384.80,475.18 L385.40,474.78 L386.00,474.83 L386.60,474.77 L387.20,474.76 L387.80,475.29 L388.40,475.49 L389.00,474.77 L389.60,474.48 L390.20,474.64 L390.80,474.16 L391.40,474.92 L392.00,475.27 L392.60,475.01 L393.20,474.33 L393.80,474.18 L394.40,474.68 L395.00,474.94 L395.60,474.47 L396.20,474.55 L396.80,474.59 L397.40,474.10 L398.00,474.39 L398.60,473.91 L399.20,473.96 L399.80,474.12 L400.40,474.48 L401.00,473.64 L401.60,473.82 L402.20,474.42 L402.80,473.99 L403.40,474.84 L404.00,473.59 L404.60,474.15 L405.20,473.85 L405.80,473.89 L406.40,473.63 L407.00,474.43 L407.60,473.66 L408.20,473.71 L408.80,474.18 L409.40,474.40 L410.00,474.04 L410.60,473.06 L411.20,473.90 L411.80,474.08 L412.40,473.31 L413.00,473.76 L413.60,473.27 L414.20,473.95 L414.80,473.42 L415.40,473.45 L416.00,475.21 L416.60,475.25 L417.20,475.66 L417.80,474.95 L418.40,475.64 L419.00,475.71 L419.60,475.51 L420.20,475.90 L420.80,476.42 L421.40,476.78 L422.00,476.08 L422.60,475.95 L423.20,475.99 L423.80,476.28 L424.40,476.49 L425.00,475.41 L425.60,476.35 L426.20,475.87 L426.80,475.78" fill="none" stroke="#1a1a1a" stroke-width="0.9"/>
<path d="M384.2,475.4 L415.6,473.7 L415.6,472.9 L384.2,474.4 Z" fill="#1a1a1a"/>
<path d="M372.50,491.34 L373.10,491.89 L373.70,491.49 L374.30,490.71 L374.90,491.19 L375.50,491.78 L376.10,491.20 L376.70,491.83 L377.30,491.56 L377.90,491.76 L378.50,491.23 L379.10,491.14 L379.70,491.07 L380.30,491.05 L380.90,491.52 L381.50,491.44 L382.10,491.78 L382.70,491.57 L383.30,490.85 L384.20,481.23 L384.80,481.01 L385.40,481.07 L386.00,480.97 L386.60,481.44 L387.20,480.88 L387.80,480.97 L388.40,481.28 L389.00,480.86 L389.60,480.56 L390.20,480.71 L390.80,480.85 L391.40,481.32 L392.00,481.35 L392.60,481.26 L393.20,479.92 L393.80,480.68 L394.40,480.84 L395.00,480.36 L395.60,480.41 L396.20,479.99 L396.80,479.82 L397.40,480.99 L398.00,480.03 L398.60,480.10 L399.20,480.87 L399.80,480.36 L400.40,480.60 L401.00,480.33 L401.60,480.23 L402.20,480.42 L402.80,480.27 L403.40,480.06 L404.00,479.60 L404.60,480.17 L405.20,480.24 L405.80,479.85 L406.40,480.07 L407.00,480.35 L407.60,480.60 L408.20,479.95 L408.80,479.30 L409.40,480.15 L410.00,479.99 L410.60,479.89 L411.20,479.08 L411.80,479.74 L412.40,479.99 L413.00,479.47 L413.60,479.47 L414.20,479.46 L414.80,479.45 L415.40,479.61 L416.00,480.77 L416.60,482.64 L417.20,485.41 L417.80,486.15 L418.40,488.39 L419.00,490.85 L419.60,490.77 L420.20,491.39 L420.80,491.47 L421.40,490.96 L422.00,490.77 L422.60,491.14 L423.20,490.69 L423.80,491.08 L424.40,491.18 L425.00,490.42 L425.60,491.21 L426.20,490.71 L426.80,490.96" fill="none" stroke="#1a1a1a" stroke-width="0.9"/>
<path d="M384.2,481.8 L415.6,479.9 L415.6,478.3 L384.2,479.8 Z" fill="#1a1a1a"/>
<path d="M372.50,509.96 L373.10,509.95 L373.70,509.95 L374.30,509.47 L374.90,509.87 L375.50,510.03 L376.10,509.37 L376.70,510.42 L377.30,510.54 L377.90,509.75 L378.50,509.72 L379.10,509.05 L379.70,509.91 L380.30,510.71 L380.90,510.57 L381.50,509.66 L382.10,510.06 L382.70,510.50 L383.30,510.25 L384.20,487.04 L384.80,487.06 L385.40,486.77 L386.00,486.76 L386.60,486.69 L387.20,487.65 L387.80,486.67 L388.40,487.25 L389.00,486.66 L389.60,486.94 L390.20,486.70 L390.80,486.54 L391.40,486.57 L392.00,485.77 L392.60,485.99 L393.20,486.49 L393.80,485.92 L394.40,487.09 L395.00,486.08 L395.60,486.00 L396.20,486.02 L396.80,486.54 L397.40,486.58 L398.00,486.24 L398.60,485.75 L399.20,485.96 L399.80,486.48 L400.40,485.90 L401.00,486.73 L401.60,485.87 L402.20,486.24 L402.80,486.17 L403.40,486.46 L404.00,486.25 L404.60,485.85 L405.20,486.32 L405.80,486.04 L406.40,485.48 L407.00,486.50 L407.60,485.44 L408.20,485.75 L408.80,485.71 L409.40,486.13 L410.00,485.36 L410.60,485.69 L411.20,484.82 L411.80,485.84 L412.40,485.39 L413.00,485.44 L413.60,485.57 L414.20,485.37 L414.80,485.80 L415.40,485.74 L416.00,486.52 L416.60,491.50 L417.20,496.58 L417.80,501.13 L418.40,505.64 L419.00,509.89 L419.60,509.67 L420.20,510.26 L420.80,510.17 L421.40,509.34 L422.00,509.73 L422.60,509.64 L423.20,510.16 L423.80,510.39 L424.40,510.08 L425.00,510.04 L425.60,510.46 L426.20,510.51 L426.80,509.98" fill="none" stroke="#1a1a1a" stroke-width="0.9"/>
<path d="M384.2,488.2 L415.6,486.1 L415.6,483.7 L384.2,485.2 Z" fill="#1a1a1a"/>
<path d="M375.05,442 L375.3,424 L375.55,442" fill="none" stroke="#333" stroke-width="0.55"/>
<path d="M378.45,442 L378.7,415 L378.95,442" fill="none" stroke="#333" stroke-width="0.55"/>
<path d="M380.35,442 L380.6,424 L380.85,442" fill="none" stroke="#333" stroke-width="0.55"/>
<path d="M381.95,442 L382.2,425 L382.45,442" fill="none" stroke="#333" stroke-width="0.55"/>
<path d="M382.65,442 L382.9,418 L383.15,442" fill="none" stroke="#333" stroke-width="0.55"/>
<path d="M422.35,444 L422.6,426 L422.85,444" fill="none" stroke="#333" stroke-width="0.55"/>
<path d="M425.65,442.5 L425.9,415 L426.15,442.5" fill="none" stroke="#333" stroke-width="0.55"/>
<path d="M426.15,442 L426.4,410 L426.65,442" fill="none" stroke="#333" stroke-width="0.55"/>
<line x1="415.6" y1="527.4" x2="424.4" y2="527.4" stroke="#222" stroke-width="1"/>
<text x="421.2" y="523" font-size="9" fill="#111" text-anchor="middle" >0.5 s</text>
<path d="M440.40,437.20 L441.20,436.60 L442.00,436.92 L442.80,435.94 L443.60,435.07 L444.40,435.74 L445.20,435.90 L446.00,434.48 L446.80,433.78 L447.60,434.41 L448.40,435.73 L449.20,435.12 L450.00,434.97 L450.80,436.97 L451.60,435.75 L452.40,435.34 L453.20,436.39 L454.00,434.99 L454.80,452.06 L455.60,451.61 L456.40,451.93 L457.20,452.16 L458.00,451.40 L458.80,452.34 L459.60,451.64 L460.40,452.52 L461.20,452.76 L462.00,450.97 L462.80,451.38 L463.60,452.85 L464.40,452.86 L465.20,453.97 L466.00,452.97 L466.80,451.34 L467.60,453.27 L468.40,453.83 L469.20,452.06 L470.00,452.30 L470.80,451.24 L471.60,452.43 L472.40,452.30 L473.20,451.59 L474.00,452.90 L474.80,452.36 L475.60,453.28 L476.40,452.34 L477.20,450.17 L478.00,452.14 L478.80,452.60 L479.60,451.74 L480.40,452.24 L481.20,450.97 L482.00,452.35 L482.80,451.89 L483.60,449.57 L484.40,452.68 L485.20,452.72 L486.00,452.26 L487.00,451.65 L487.80,448.62 L488.60,444.12 L489.40,439.17 L490.20,436.35 L491.00,435.30 L491.80,436.40 L492.60,435.60 L493.40,438.36 L494.20,437.73 L495.00,437.43 L495.80,436.12 L496.60,436.38 L497.40,437.26 L498.20,435.42" fill="none" stroke="#f06a3a" stroke-width="0.8"/>
<path d="M440.40,464.27 L441.20,462.27 L442.00,461.50 L442.80,464.36 L443.60,464.30 L444.40,463.09 L445.20,464.34 L446.00,463.63 L446.80,461.40 L447.60,461.85 L448.40,462.78 L449.20,464.17 L450.00,464.70 L450.80,461.58 L451.60,462.04 L452.40,464.52 L453.20,462.67 L454.00,462.65 L454.80,469.98 L455.60,469.34 L456.40,469.64 L457.20,469.83 L458.00,467.96 L458.80,469.54 L459.60,469.95 L460.40,467.61 L461.20,469.90 L462.00,469.41 L462.80,468.27 L463.60,469.50 L464.40,469.29 L465.20,468.21 L466.00,468.66 L466.80,470.45 L467.60,469.33 L468.40,468.40 L469.20,468.47 L470.00,469.83 L470.80,469.16 L471.60,468.72 L472.40,468.83 L473.20,469.20 L474.00,469.16 L474.80,470.21 L475.60,469.24 L476.40,468.71 L477.20,467.75 L478.00,468.65 L478.80,469.77 L479.60,470.63 L480.40,469.12 L481.20,468.43 L482.00,468.90 L482.80,469.55 L483.60,469.48 L484.40,467.96 L485.20,469.93 L486.00,470.40 L487.00,469.76 L487.80,467.45 L488.60,466.38 L489.40,463.80 L490.20,462.60 L491.00,464.50 L491.80,462.88 L492.60,462.86 L493.40,461.75 L494.20,464.41 L495.00,461.64 L495.80,462.47 L496.60,462.83 L497.40,461.37 L498.20,460.22" fill="none" stroke="#f06a3a" stroke-width="0.8"/>
<path d="M440.40,474.66 L441.20,476.15 L442.00,476.03 L442.80,475.80 L443.60,473.35 L444.40,474.30 L445.20,473.55 L446.00,473.98 L446.80,473.88 L447.60,473.42 L448.40,474.07 L449.20,476.55 L450.00,475.76 L450.80,475.77 L451.60,474.19 L452.40,474.81 L453.20,474.41 L454.00,475.75 L454.80,473.83 L455.60,473.95 L456.40,474.37 L457.20,472.57 L458.00,471.86 L458.80,472.61 L459.60,471.47 L460.40,473.12 L461.20,472.67 L462.00,471.98 L462.80,472.98 L463.60,471.70 L464.40,473.45 L465.20,473.23 L466.00,472.40 L466.80,473.51 L467.60,472.64 L468.40,472.05 L469.20,472.42 L470.00,471.70 L470.80,474.06 L471.60,472.67 L472.40,472.75 L473.20,475.50 L474.00,472.25 L474.80,474.30 L475.60,473.05 L476.40,473.91 L477.20,471.73 L478.00,471.45 L478.80,475.17 L479.60,472.20 L480.40,471.52 L481.20,472.93 L482.00,472.98 L482.80,471.92 L483.60,472.95 L484.40,472.11 L485.20,472.25 L486.00,473.24 L487.00,474.52 L487.80,475.21 L488.60,472.69 L489.40,474.02 L490.20,474.36 L491.00,473.83 L491.80,475.73 L492.60,475.43 L493.40,474.59 L494.20,475.23 L495.00,473.61 L495.80,474.59 L496.60,475.64 L497.40,474.09 L498.20,476.18" fill="none" stroke="#f06a3a" stroke-width="0.8"/>
<path d="M440.40,489.89 L441.20,489.91 L442.00,489.49 L442.80,491.77 L443.60,492.23 L444.40,491.68 L445.20,492.08 L446.00,492.62 L446.80,490.23 L447.60,491.79 L448.40,489.31 L449.20,488.87 L450.00,490.72 L450.80,490.24 L451.60,489.21 L452.40,489.21 L453.20,490.77 L454.00,490.65 L454.80,480.56 L455.60,479.76 L456.40,479.41 L457.20,483.56 L458.00,482.62 L458.80,481.73 L459.60,480.33 L460.40,480.18 L461.20,480.55 L462.00,481.04 L462.80,481.80 L463.60,481.34 L464.40,480.89 L465.20,480.29 L466.00,481.16 L466.80,479.57 L467.60,479.40 L468.40,480.55 L469.20,480.56 L470.00,481.91 L470.80,480.87 L471.60,482.11 L472.40,479.46 L473.20,480.81 L474.00,481.50 L474.80,482.76 L475.60,480.51 L476.40,481.37 L477.20,482.81 L478.00,481.24 L478.80,480.45 L479.60,481.94 L480.40,481.71 L481.20,480.75 L482.00,481.54 L482.80,481.76 L483.60,481.02 L484.40,481.28 L485.20,481.03 L486.00,481.18 L487.00,482.17 L487.80,482.81 L488.60,485.56 L489.40,488.98 L490.20,491.80 L491.00,489.78 L491.80,490.00 L492.60,489.25 L493.40,490.62 L494.20,491.04 L495.00,490.51 L495.80,491.70 L496.60,489.17 L497.40,489.40 L498.20,491.37" fill="none" stroke="#f06a3a" stroke-width="0.8"/>
<path d="M440.40,511.35 L441.20,508.91 L442.00,510.07 L442.80,509.58 L443.60,510.05 L444.40,510.57 L445.20,510.69 L446.00,509.90 L446.80,508.67 L447.60,510.86 L448.40,510.42 L449.20,509.32 L450.00,510.74 L450.80,509.47 L451.60,510.37 L452.40,509.57 L453.20,510.24 L454.00,509.88 L454.80,487.63 L455.60,486.37 L456.40,486.17 L457.20,485.60 L458.00,488.77 L458.80,486.29 L459.60,487.14 L460.40,486.61 L461.20,487.93 L462.00,486.84 L462.80,487.12 L463.60,487.70 L464.40,486.97 L465.20,483.58 L466.00,485.54 L466.80,485.73 L467.60,485.93 L468.40,486.71 L469.20,488.40 L470.00,487.50 L470.80,487.24 L471.60,486.91 L472.40,486.02 L473.20,486.46 L474.00,489.30 L474.80,487.49 L475.60,486.87 L476.40,486.61 L477.20,487.50 L478.00,486.94 L478.80,486.54 L479.60,486.72 L480.40,486.81 L481.20,489.20 L482.00,487.07 L482.80,486.86 L483.60,487.43 L484.40,485.78 L485.20,487.27 L486.00,486.86 L487.00,486.76 L487.80,493.15 L488.60,498.68 L489.40,504.92 L490.20,510.99 L491.00,509.99 L491.80,512.70 L492.60,509.94 L493.40,510.21 L494.20,509.46 L495.00,511.98 L495.80,509.91 L496.60,509.73 L497.40,507.34 L498.20,508.98" fill="none" stroke="#f06a3a" stroke-width="0.8"/>
<path d="M474,520 V534 H482.4" fill="none" stroke="#222" stroke-width="0.8"/>
<text x="476" y="524.4" font-size="8.2" fill="#111" text-anchor="start" >-2% ΔF/F<tspan font-size="5.5" dy="1.5">o</tspan></text>
<text x="476" y="530.6" font-size="8.2" fill="#111" text-anchor="start" >0.5 s</text>
<text x="520" y="415" font-size="18" fill="#000">n</text>
<line x1="594.4" y1="406.40000000000003" x2="594.4" y2="525.2" stroke="#222" stroke-width="1"/>
<line x1="554.8" y1="485.6" x2="673.6" y2="485.6" stroke="#222" stroke-width="1"/>
<line x1="591.4" y1="406.40" x2="594.4" y2="406.40" stroke="#222" stroke-width="1"/>
<text x="589.4" y="409.70000000000005" font-size="9.2" fill="#111" text-anchor="end" >40</text>
<line x1="591.4" y1="446.00" x2="594.4" y2="446.00" stroke="#222" stroke-width="1"/>
<text x="589.4" y="449.3" font-size="9.2" fill="#111" text-anchor="end" >20</text>
<line x1="591.4" y1="525.20" x2="594.4" y2="525.20" stroke="#222" stroke-width="1"/>
<text x="589.4" y="528.5" font-size="9.2" fill="#111" text-anchor="end" >-20</text>
<line x1="554.80" y1="485.6" x2="554.80" y2="488.6" stroke="#222" stroke-width="1"/>
<text x="554.8" y="500.4" font-size="9.2" fill="#111" text-anchor="middle" >-20</text>
<line x1="634.00" y1="485.6" x2="634.00" y2="488.6" stroke="#222" stroke-width="1"/>
<text x="634.0" y="500.4" font-size="9.2" fill="#111" text-anchor="middle" >20</text>
<line x1="673.60" y1="485.6" x2="673.60" y2="488.6" stroke="#222" stroke-width="1"/>
<text x="673.6" y="500.4" font-size="9.2" fill="#111" text-anchor="middle" >40</text>
<line x1="554.8" y1="525.2" x2="673.6" y2="406.40000000000003" stroke="#6a6a6a" stroke-width="1.3" stroke-dasharray="2.6 2"/>
<text x="0" y="0" font-size="9.5" fill="#111" text-anchor="middle" transform="translate(542.4,470) rotate(-90)">Est. -DF<tspan font-size="6" dy="1.5">GABAA</tspan><tspan dy="-1.5"> (by fluo) (mV)</tspan></text>
<text x="613" y="539" font-size="9.5" fill="#111" text-anchor="middle" >-DF<tspan font-size="6" dy="1.5">GABAA</tspan><tspan dy="-1.5"> (by CC) (mV)</tspan></text>
<circle cx="619" cy="466.6" r="2.3" fill="#8cc63f"/>
<circle cx="650.4" cy="438.2" r="2.3" fill="#8cc63f"/>
<circle cx="655.6" cy="424.4" r="2.3" fill="#8cc63f"/>
<circle cx="665.6" cy="433" r="2.3" fill="#8cc63f"/>
<circle cx="665.6" cy="428" r="2.3" fill="#8cc63f"/>
<circle cx="666.6" cy="417.6" r="2.3" fill="#8cc63f"/>
<circle cx="667" cy="415.4" r="2.3" fill="#8cc63f"/>
<circle cx="577" cy="502.8" r="2.3" fill="#c9b49c"/>
<circle cx="585.4" cy="499.8" r="2.3" fill="#c9b49c"/>
<circle cx="588.8" cy="496.8" r="2.3" fill="#c9b49c"/>
<circle cx="615" cy="465" r="2.3" fill="#e8552a"/>
<circle cx="601.5" cy="478.7" r="2.3" fill="#e8552a"/>
<circle cx="593" cy="489" r="2.3" fill="#e8552a"/>
<circle cx="590.6" cy="489" r="2.3" fill="#e8552a"/>
<circle cx="588.4" cy="489" r="2.3" fill="#e8552a"/>
<circle cx="574" cy="500.9" r="2.3" fill="#e8552a"/>
<circle cx="575.7" cy="508" r="2.3" fill="#e8552a"/>
<circle cx="563.5" cy="515" r="2.3" fill="#e8552a"/>
<path d="M627,457 L631,461 M627,461 L631,457" stroke="#f0582a" stroke-width="1.5"/>
<path d="M608.3,473.5 L612.3,477.5 M608.3,477.5 L612.3,473.5" stroke="#f0582a" stroke-width="1.5"/>
<path d="M595.4,482.4 L599.4,486.4 M595.4,486.4 L599.4,482.4" stroke="#f0582a" stroke-width="1.5"/>
<path d="M584,490.4 L588,494.4 M584,494.4 L588,490.4" stroke="#f0582a" stroke-width="1.5"/>
<path d="M563,503.9 L567,507.9 M563,507.9 L567,503.9" stroke="#f0582a" stroke-width="1.5"/>
</svg>
</body></html>
